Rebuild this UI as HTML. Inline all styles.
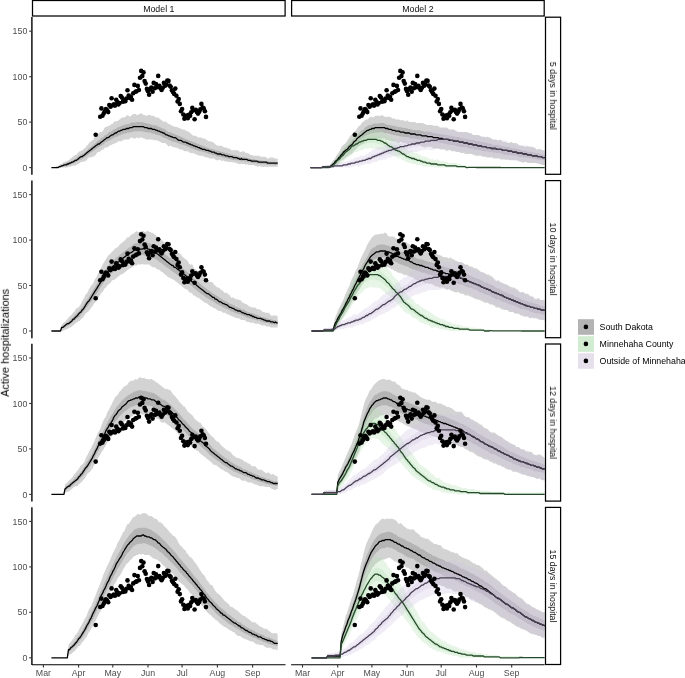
<!DOCTYPE html>
<html><head><meta charset="utf-8"><style>html,body{margin:0;padding:0;background:#fff;overflow:hidden} text{will-change:transform}</style></head>
<body><svg width="685" height="678" viewBox="0 0 685 678" style="display:block">
<rect width="685" height="678" fill="#fff"/>
<defs>
<clipPath id="c00"><rect x="32" y="17" width="253.5" height="157.5"/></clipPath>
<clipPath id="c01"><rect x="32" y="180.4" width="253.5" height="157.5"/></clipPath>
<clipPath id="c02"><rect x="32" y="343.8" width="253.5" height="157.5"/></clipPath>
<clipPath id="c03"><rect x="32" y="507.2" width="253.5" height="157.5"/></clipPath>
<clipPath id="c10"><rect x="291.1" y="17" width="254.2" height="157.5"/></clipPath>
<clipPath id="c11"><rect x="291.1" y="180.4" width="254.2" height="157.5"/></clipPath>
<clipPath id="c12"><rect x="291.1" y="343.8" width="254.2" height="157.5"/></clipPath>
<clipPath id="c13"><rect x="291.1" y="507.2" width="254.2" height="157.5"/></clipPath>
<g id="dots" fill="#000"><circle cx="95.7" cy="134.8" r="2.3"/><circle cx="100.2" cy="116.8" r="2.3"/><circle cx="101.4" cy="108.4" r="2.3"/><circle cx="102.5" cy="115.8" r="2.3"/><circle cx="103.7" cy="113.5" r="2.3"/><circle cx="104.8" cy="111.2" r="2.3"/><circle cx="105.9" cy="109.1" r="2.3"/><circle cx="107.1" cy="110.3" r="2.3"/><circle cx="108.2" cy="112.1" r="2.3"/><circle cx="109.3" cy="105" r="2.3"/><circle cx="110.5" cy="106.7" r="2.3"/><circle cx="111.6" cy="98.2" r="2.3"/><circle cx="112.8" cy="105.3" r="2.3"/><circle cx="113.9" cy="104.4" r="2.3"/><circle cx="115" cy="105.6" r="2.3"/><circle cx="116.2" cy="99.8" r="2.3"/><circle cx="117.3" cy="102.1" r="2.3"/><circle cx="118.4" cy="104.4" r="2.3"/><circle cx="119.6" cy="103" r="2.3"/><circle cx="120.7" cy="96" r="2.3"/><circle cx="121.9" cy="97.6" r="2.3"/><circle cx="123" cy="101.7" r="2.3"/><circle cx="124.1" cy="100.3" r="2.3"/><circle cx="125.3" cy="101.2" r="2.3"/><circle cx="126.4" cy="98.5" r="2.3"/><circle cx="127.5" cy="90.2" r="2.3"/><circle cx="128.7" cy="95.5" r="2.3"/><circle cx="129.8" cy="98" r="2.3"/><circle cx="130.9" cy="96.8" r="2.3"/><circle cx="132.1" cy="99.8" r="2.3"/><circle cx="133.2" cy="93.2" r="2.3"/><circle cx="134.4" cy="84.9" r="2.3"/><circle cx="135.5" cy="91.8" r="2.3"/><circle cx="136.6" cy="91.2" r="2.3"/><circle cx="137.8" cy="85.9" r="2.3"/><circle cx="138.9" cy="90" r="2.3"/><circle cx="140" cy="77.7" r="2.3"/><circle cx="141.2" cy="70.9" r="2.3"/><circle cx="142.3" cy="76.1" r="2.3"/><circle cx="143.5" cy="72.4" r="2.3"/><circle cx="144.6" cy="81.1" r="2.3"/><circle cx="145.7" cy="83.6" r="2.3"/><circle cx="146.9" cy="88.9" r="2.3"/><circle cx="148" cy="91.2" r="2.3"/><circle cx="149.1" cy="94.8" r="2.3"/><circle cx="150.3" cy="88.9" r="2.3"/><circle cx="151.4" cy="87.6" r="2.3"/><circle cx="152.6" cy="91.8" r="2.3"/><circle cx="153.7" cy="82.9" r="2.3"/><circle cx="154.8" cy="88.2" r="2.3"/><circle cx="156" cy="84.1" r="2.3"/><circle cx="157.1" cy="87.1" r="2.3"/><circle cx="158.2" cy="75.9" r="2.3"/><circle cx="159.4" cy="85.8" r="2.3"/><circle cx="160.5" cy="88.2" r="2.3"/><circle cx="161.6" cy="90" r="2.3"/><circle cx="162.8" cy="87.7" r="2.3"/><circle cx="163.9" cy="82.9" r="2.3"/><circle cx="165.1" cy="85.8" r="2.3"/><circle cx="166.2" cy="84.5" r="2.3"/><circle cx="167.3" cy="80.6" r="2.3"/><circle cx="168.5" cy="80.9" r="2.3"/><circle cx="169.6" cy="85.6" r="2.3"/><circle cx="170.7" cy="86.7" r="2.3"/><circle cx="171.9" cy="90.3" r="2.3"/><circle cx="173" cy="92.1" r="2.3"/><circle cx="174.2" cy="93.9" r="2.3"/><circle cx="175.3" cy="88.6" r="2.3"/><circle cx="176.4" cy="95.7" r="2.3"/><circle cx="177.6" cy="101.5" r="2.3"/><circle cx="178.7" cy="99.1" r="2.3"/><circle cx="179.8" cy="103.9" r="2.3"/><circle cx="181" cy="111.2" r="2.3"/><circle cx="182.1" cy="109" r="2.3"/><circle cx="183.3" cy="114.5" r="2.3"/><circle cx="184.4" cy="118.8" r="2.3"/><circle cx="185.5" cy="116.7" r="2.3"/><circle cx="186.7" cy="115.5" r="2.3"/><circle cx="187.8" cy="118.3" r="2.3"/><circle cx="188.9" cy="114.9" r="2.3"/><circle cx="190.1" cy="115.8" r="2.3"/><circle cx="191.2" cy="112.2" r="2.3"/><circle cx="192.3" cy="107.9" r="2.3"/><circle cx="193.5" cy="110.3" r="2.3"/><circle cx="194.6" cy="119.3" r="2.3"/><circle cx="195.8" cy="109.8" r="2.3"/><circle cx="196.9" cy="112.1" r="2.3"/><circle cx="198" cy="113.6" r="2.3"/><circle cx="199.2" cy="111.7" r="2.3"/><circle cx="200.3" cy="109.4" r="2.3"/><circle cx="201.4" cy="103.9" r="2.3"/><circle cx="202.6" cy="107.6" r="2.3"/><circle cx="203.7" cy="108.4" r="2.3"/><circle cx="204.9" cy="111.2" r="2.3"/><circle cx="206" cy="116.9" r="2.3"/></g>
</defs>
<g clip-path="url(#c00)"><polygon points="51.4,167.6 52.5,167.6 53.7,167.6 54.8,167.6 55.9,167.6 57.1,167.4 58.2,165.8 59.4,164.9 60.5,164 61.6,164 62.8,163.1 63.9,162.1 65,162.1 66.2,161.2 67.3,161.2 68.5,160.3 69.6,159.4 70.7,158.5 71.9,157.6 73,156.7 74.1,155.8 75.3,154.9 76.4,154.9 77.6,153.1 78.7,152.1 79.8,151.2 81,151.2 82.1,150.3 83.2,149.4 84.4,148.5 85.5,147.6 86.6,145.8 87.8,144.9 88.9,143 90.1,142.1 91.2,141.2 92.3,140.3 93.5,139.4 94.6,137.6 95.7,136.7 96.9,135.8 98,134 99.2,133 100.3,132.1 101.4,132.1 102.6,131.2 103.7,129.4 104.8,127.6 106,126.7 107.1,126.7 108.3,125.8 109.4,125.8 110.5,124.9 111.7,124 112.8,124 113.9,122.1 115.1,121.2 116.2,121.2 117.3,121.2 118.5,120.3 119.6,119.4 120.8,118.5 121.9,117.6 123,117.6 124.2,117.6 125.3,116.7 126.4,115.8 127.6,114.9 128.7,115.8 129.9,116.7 131,115.8 132.1,114.9 133.3,114 134.4,114 135.5,114 136.7,114.9 137.8,114.9 138.9,114 140.1,114 141.2,113 142.4,114 143.5,114.9 144.6,114.9 145.8,115.8 146.9,115.8 148,114.9 149.2,114.9 150.3,114.9 151.5,115.8 152.6,115.8 153.7,115.8 154.9,116.7 156,117.6 157.1,117.6 158.3,117.6 159.4,118.5 160.6,119.4 161.7,120.3 162.8,121.2 164,122.1 165.1,121.2 166.2,122.1 167.4,123 168.5,124 169.6,124 170.8,124.9 171.9,125.8 173.1,125.8 174.2,126.7 175.3,126.7 176.5,126.7 177.6,127.6 178.7,127.6 179.9,128.5 181,128.5 182.2,129.4 183.3,129.4 184.4,129.4 185.6,130.3 186.7,131.2 187.8,131.2 189,132.1 190.1,133 191.3,134 192.4,134.9 193.5,135.8 194.7,135.8 195.8,135.8 196.9,136.7 198.1,137.6 199.2,137.6 200.3,137.6 201.5,137.6 202.6,138.5 203.8,138.5 204.9,138.5 206,139.4 207.2,140.3 208.3,141.2 209.4,141.2 210.6,141.2 211.7,142.1 212.9,142.1 214,143 215.1,144 216.3,144.9 217.4,145.8 218.5,145.8 219.7,145.8 220.8,145.8 222,145.8 223.1,146.7 224.2,147.6 225.4,147.6 226.5,147.6 227.6,148.5 228.8,148.5 229.9,148.5 231,150.3 232.2,150.3 233.3,150.3 234.5,150.3 235.6,150.3 236.7,150.3 237.9,150.3 239,151.2 240.1,152.1 241.3,152.1 242.4,151.2 243.6,151.2 244.7,152.1 245.8,153.1 247,153.1 248.1,153.1 249.2,154 250.4,154.9 251.5,154.9 252.6,154.9 253.8,155.8 254.9,155.8 256.1,155.8 257.2,155.8 258.3,155.8 259.5,155.8 260.6,156.7 261.7,156.7 262.9,156.7 264,156.7 265.2,156.7 266.3,157.6 267.4,158.5 268.6,158.5 269.7,157.6 270.8,157.6 272,157.6 273.1,157.6 274.3,158.5 275.4,158.5 276.5,158.5 277.7,158.5 277.7,166.7 276.5,166.7 275.4,166.7 274.3,166.7 273.1,166.7 272,166.7 270.8,166.7 269.7,166.7 268.6,166.7 267.4,166.7 266.3,166.7 265.2,166.7 264,166.7 262.9,166.7 261.7,166.7 260.6,166.7 259.5,165.8 258.3,166.7 257.2,166.7 256.1,165.8 254.9,165.8 253.8,164.9 252.6,164.9 251.5,164.9 250.4,164.9 249.2,164.9 248.1,164.9 247,164 245.8,164.9 244.7,164 243.6,164 242.4,164 241.3,164 240.1,164 239,164 237.9,164 236.7,163.1 235.6,163.1 234.5,162.1 233.3,163.1 232.2,162.1 231,162.1 229.9,162.1 228.8,162.1 227.6,162.1 226.5,161.2 225.4,161.2 224.2,161.2 223.1,160.3 222,161.2 220.8,160.3 219.7,159.4 218.5,160.3 217.4,160.3 216.3,160.3 215.1,159.4 214,158.5 212.9,158.5 211.7,158.5 210.6,158.5 209.4,158.5 208.3,157.6 207.2,157.6 206,157.6 204.9,156.7 203.8,156.7 202.6,155.8 201.5,155.8 200.3,155.8 199.2,155.8 198.1,154.9 196.9,154.9 195.8,154 194.7,154 193.5,153.1 192.4,153.1 191.3,153.1 190.1,153.1 189,152.1 187.8,151.2 186.7,151.2 185.6,151.2 184.4,151.2 183.3,150.3 182.2,149.4 181,149.4 179.9,149.4 178.7,148.5 177.6,148.5 176.5,147.6 175.3,147.6 174.2,147.6 173.1,146.7 171.9,146.7 170.8,145.8 169.6,145.8 168.5,146.7 167.4,144.9 166.2,144 165.1,143 164,143 162.8,143 161.7,143 160.6,142.1 159.4,141.2 158.3,141.2 157.1,140.3 156,140.3 154.9,140.3 153.7,140.3 152.6,139.4 151.5,139.4 150.3,139.4 149.2,139.4 148,139.4 146.9,139.4 145.8,139.4 144.6,138.5 143.5,138.5 142.4,137.6 141.2,137.6 140.1,137.6 138.9,138.5 137.8,137.6 136.7,137.6 135.5,138.5 134.4,138.5 133.3,138.5 132.1,137.6 131,137.6 129.9,138.5 128.7,139.4 127.6,139.4 126.4,139.4 125.3,139.4 124.2,139.4 123,140.3 121.9,141.2 120.8,141.2 119.6,141.2 118.5,141.2 117.3,142.1 116.2,143 115.1,143 113.9,144 112.8,144 111.7,144.9 110.5,144.9 109.4,145.8 108.3,146.7 107.1,147.6 106,147.6 104.8,147.6 103.7,149.4 102.6,149.4 101.4,150.3 100.3,151.2 99.2,152.1 98,152.1 96.9,153.1 95.7,154.9 94.6,155.8 93.5,156.7 92.3,156.7 91.2,157.6 90.1,157.6 88.9,157.6 87.8,158.5 86.6,160.3 85.5,161.2 84.4,161.2 83.2,162.1 82.1,162.1 81,162.1 79.8,163.1 78.7,164 77.6,164 76.4,164.9 75.3,165.8 74.1,165.8 73,165.8 71.9,165.8 70.7,166.7 69.6,166.7 68.5,166.7 67.3,167.6 66.2,167.6 65,167.6 63.9,167.6 62.8,167.6 61.6,167.6 60.5,167.6 59.4,167.6 58.2,167.6 57.1,167.4 55.9,167.6 54.8,167.6 53.7,167.6 52.5,167.6 51.4,167.6" fill="#6e6e6e" fill-opacity="0.3"/><polygon points="51.4,167.6 52.5,167.6 53.7,167.6 54.8,167.6 55.9,167.6 57.1,167.4 58.2,166.7 59.4,166.2 60.5,165.3 61.6,164.9 62.8,164.4 63.9,164 65,163.5 66.2,163.1 67.3,162.6 68.5,162.1 69.6,161.7 70.7,161.2 71.9,160.8 73,159.9 74.1,159.4 75.3,159 76.4,158.1 77.6,157.1 78.7,156.2 79.8,155.3 81,154.4 82.1,154 83.2,153.5 84.4,152.6 85.5,151.7 86.6,150.8 87.8,149.4 88.9,148.1 90.1,147.6 91.2,146.7 92.3,145.8 93.5,144.9 94.6,144 95.7,143 96.9,141.7 98,140.8 99.2,139.9 100.3,139 101.4,138 102.6,137.6 103.7,136.7 104.8,135.3 106,134.9 107.1,134 108.3,133 109.4,132.1 110.5,131.7 111.7,131.2 112.8,130.3 113.9,129.4 115.1,129 116.2,128.5 117.3,127.6 118.5,127.1 119.6,126.7 120.8,126.2 121.9,125.8 123,125.3 124.2,124.9 125.3,124.4 126.4,124.4 127.6,124 128.7,124 129.9,123.5 131,122.6 132.1,122.6 133.3,122.6 134.4,122.6 135.5,122.6 136.7,122.1 137.8,122.1 138.9,122.1 140.1,122.1 141.2,122.1 142.4,122.1 143.5,122.6 144.6,123 145.8,123 146.9,123.5 148,123.5 149.2,124 150.3,124.4 151.5,124.4 152.6,124.9 153.7,125.3 154.9,125.3 156,125.3 157.1,125.8 158.3,126.7 159.4,127.1 160.6,127.6 161.7,128 162.8,128.5 164,129 165.1,129.4 166.2,130.3 167.4,131.2 168.5,132.1 169.6,132.1 170.8,132.6 171.9,133 173.1,133.5 174.2,134 175.3,134.4 176.5,134.9 177.6,135.3 178.7,135.8 179.9,136.2 181,136.7 182.2,137.1 183.3,138 184.4,138.5 185.6,139 186.7,139.4 187.8,139.9 189,140.3 190.1,140.8 191.3,141.2 192.4,141.7 193.5,142.1 194.7,142.6 195.8,143 196.9,143.5 198.1,144 199.2,144.4 200.3,144.9 201.5,145.3 202.6,145.8 203.8,146.2 204.9,146.7 206,147.1 207.2,147.6 208.3,148.1 209.4,148.5 210.6,149 211.7,149 212.9,149 214,149.4 215.1,150.3 216.3,150.8 217.4,150.8 218.5,150.8 219.7,151.2 220.8,151.7 222,152.1 223.1,152.1 224.2,152.6 225.4,153.1 226.5,153.1 227.6,153.5 228.8,154 229.9,154 231,154.4 232.2,154.4 233.3,154.9 234.5,154.9 235.6,155.3 236.7,155.8 237.9,156.2 239,156.7 240.1,156.7 241.3,157.1 242.4,157.1 243.6,157.1 244.7,157.6 245.8,157.6 247,158.1 248.1,158.1 249.2,158.5 250.4,159 251.5,159 252.6,159 253.8,159 254.9,159.4 256.1,159.9 257.2,160.3 258.3,160.3 259.5,160.3 260.6,160.3 261.7,160.8 262.9,160.8 264,160.8 265.2,161.2 266.3,161.2 267.4,161.2 268.6,161.2 269.7,161.7 270.8,161.7 272,161.7 273.1,161.7 274.3,161.7 275.4,162.1 276.5,162.1 277.7,162.1 277.7,164.9 276.5,164.9 275.4,164.9 274.3,164.9 273.1,164.4 272,164.4 270.8,164.4 269.7,164.4 268.6,164.4 267.4,164.4 266.3,164.4 265.2,164 264,164 262.9,164 261.7,164 260.6,164 259.5,163.5 258.3,163.5 257.2,163.5 256.1,163.5 254.9,163.1 253.8,163.1 252.6,163.1 251.5,162.6 250.4,162.6 249.2,162.1 248.1,162.1 247,161.7 245.8,161.7 244.7,161.2 243.6,161.2 242.4,161.2 241.3,161.2 240.1,160.8 239,160.3 237.9,160.3 236.7,160.3 235.6,160.3 234.5,159.9 233.3,159.9 232.2,159.9 231,159.4 229.9,159 228.8,159 227.6,158.5 226.5,158.5 225.4,158.1 224.2,158.1 223.1,157.6 222,157.1 220.8,156.7 219.7,156.7 218.5,156.7 217.4,156.2 216.3,156.2 215.1,155.3 214,155.3 212.9,154.9 211.7,154.4 210.6,154 209.4,154 208.3,154 207.2,153.1 206,152.6 204.9,152.6 203.8,152.1 202.6,151.7 201.5,151.2 200.3,151.2 199.2,151.2 198.1,150.8 196.9,150.3 195.8,149.9 194.7,149.4 193.5,149 192.4,148.5 191.3,148.5 190.1,147.6 189,147.1 187.8,146.7 186.7,146.2 185.6,145.8 184.4,145.3 183.3,144.9 182.2,144.4 181,144.4 179.9,144 178.7,143.5 177.6,143 176.5,142.6 175.3,142.1 174.2,142.1 173.1,141.7 171.9,141.2 170.8,140.8 169.6,140.3 168.5,139.9 167.4,139 166.2,138.5 165.1,138 164,138 162.8,137.1 161.7,136.7 160.6,135.8 159.4,135.3 158.3,134.9 157.1,134.9 156,134.4 154.9,134 153.7,133.5 152.6,133.5 151.5,133 150.3,132.6 149.2,132.6 148,132.6 146.9,132.6 145.8,132.1 144.6,132.1 143.5,131.7 142.4,131.2 141.2,131.2 140.1,131.2 138.9,131.2 137.8,131.2 136.7,131.2 135.5,131.2 134.4,131.2 133.3,131.7 132.1,131.7 131,132.1 129.9,132.6 128.7,132.6 127.6,132.6 126.4,133 125.3,133.5 124.2,133.5 123,134 121.9,134.4 120.8,134.9 119.6,135.3 118.5,135.8 117.3,136.7 116.2,136.7 115.1,137.1 113.9,138 112.8,138.5 111.7,139 110.5,139.9 109.4,140.3 108.3,141.2 107.1,141.2 106,142.1 104.8,142.6 103.7,144 102.6,144.9 101.4,145.8 100.3,146.2 99.2,146.7 98,147.6 96.9,148.5 95.7,149 94.6,149.9 93.5,150.8 92.3,151.7 91.2,152.6 90.1,153.1 88.9,154 87.8,154.9 86.6,155.8 85.5,156.7 84.4,157.6 83.2,158.1 82.1,159 81,159.4 79.8,159.9 78.7,160.3 77.6,161.2 76.4,162.1 75.3,162.6 74.1,163.1 73,163.5 71.9,164 70.7,164.4 69.6,164.9 68.5,165.3 67.3,165.8 66.2,165.8 65,166.2 63.9,166.2 62.8,166.7 61.6,166.7 60.5,167.1 59.4,167.1 58.2,167.6 57.1,167.4 55.9,167.6 54.8,167.6 53.7,167.6 52.5,167.6 51.4,167.6" fill="#6e6e6e" fill-opacity="0.3"/><polyline points="51.4,167.6 52.5,167.6 53.7,167.6 54.8,167.6 55.9,167.6 57.1,167.4 58.2,167.6 59.4,166.7 60.5,166.7 61.6,165.8 62.8,165.8 63.9,164.9 65,164.9 66.2,164.9 67.3,164 68.5,164 69.6,163.1 70.7,163.1 71.9,162.1 73,162.1 74.1,161.2 75.3,160.3 76.4,160.3 77.6,159.4 78.7,158.5 79.8,157.6 81,156.7 82.1,156.7 83.2,155.8 84.4,154.9 85.5,154 86.6,153.1 87.8,152.1 88.9,151.2 90.1,150.3 91.2,149.4 92.3,148.5 93.5,147.6 94.6,146.7 95.7,145.8 96.9,144.9 98,144 99.2,144 100.3,143 101.4,142.1 102.6,141.2 103.7,140.3 104.8,139.4 106,138.5 107.1,137.6 108.3,137.6 109.4,136.7 110.5,135.8 111.7,134.9 112.8,134.9 113.9,134 115.1,133 116.2,133 117.3,132.1 118.5,131.2 119.6,131.2 120.8,130.3 121.9,130.3 123,129.4 124.2,129.4 125.3,129.4 126.4,128.5 127.6,128.5 128.7,128.5 129.9,127.6 131,127.6 132.1,127.6 133.3,126.7 134.4,126.7 135.5,126.7 136.7,126.7 137.8,126.7 138.9,126.7 140.1,126.7 141.2,126.7 142.4,126.7 143.5,126.7 144.6,127.6 145.8,127.6 146.9,127.6 148,128.5 149.2,128.5 150.3,128.5 151.5,128.5 152.6,129.4 153.7,129.4 154.9,129.4 156,130.3 157.1,130.3 158.3,131.2 159.4,131.2 160.6,132.1 161.7,132.1 162.8,133 164,133 165.1,134 166.2,134.9 167.4,134.9 168.5,135.8 169.6,135.8 170.8,136.7 171.9,136.7 173.1,137.6 174.2,137.6 175.3,137.6 176.5,138.5 177.6,139.4 178.7,140.3 179.9,140.3 181,140.3 182.2,141.2 183.3,142.1 184.4,142.1 185.6,142.1 186.7,143 187.8,143 189,144 190.1,144 191.3,144.9 192.4,144.9 193.5,145.8 194.7,145.8 195.8,146.7 196.9,146.7 198.1,147.6 199.2,147.6 200.3,148.5 201.5,148.5 202.6,149.4 203.8,149.4 204.9,149.4 206,150.3 207.2,150.3 208.3,150.3 209.4,151.2 210.6,151.2 211.7,152.1 212.9,152.1 214,152.1 215.1,153.1 216.3,153.1 217.4,154 218.5,154 219.7,154 220.8,154 222,154.9 223.1,154.9 224.2,154.9 225.4,155.8 226.5,155.8 227.6,155.8 228.8,156.7 229.9,156.7 231,156.7 232.2,156.7 233.3,157.6 234.5,157.6 235.6,157.6 236.7,157.6 237.9,158.5 239,158.5 240.1,159.4 241.3,158.5 242.4,159.4 243.6,159.4 244.7,159.4 245.8,159.4 247,159.4 248.1,160.3 249.2,160.3 250.4,160.3 251.5,161.2 252.6,161.2 253.8,161.2 254.9,161.2 256.1,161.2 257.2,161.2 258.3,162.1 259.5,162.1 260.6,162.1 261.7,162.1 262.9,162.1 264,162.1 265.2,162.1 266.3,162.1 267.4,163.1 268.6,163.1 269.7,163.1 270.8,163.1 272,163.1 273.1,163.1 274.3,163.1 275.4,163.1 276.5,163.1 277.7,163.1" fill="none" stroke="#000" stroke-width="1.3" stroke-linejoin="round"/><use href="#dots" transform="translate(0,0)"/></g>
<g clip-path="url(#c01)"><polygon points="51.4,331 52.5,331 53.7,331 54.8,331 55.9,331 57.1,331 58.2,331 59.4,331 60.5,331 61.6,324.6 62.8,323.7 63.9,321.9 65,321.9 66.2,320.1 67.3,319.2 68.5,317.4 69.6,316.5 70.7,315.5 71.9,314.6 73,312.8 74.1,311.9 75.3,310.1 76.4,308.3 77.6,307.4 78.7,307.4 79.8,305.5 81,303.7 82.1,301 83.2,299.2 84.4,297.4 85.5,294.6 86.6,293.7 87.8,291.9 88.9,289.2 90.1,287.4 91.2,285.5 92.3,284.6 93.5,282.8 94.6,280.1 95.7,278.3 96.9,276.4 98,273.7 99.2,271.9 100.3,269.2 101.4,267.3 102.6,264.6 103.7,262.8 104.8,261 106,259.2 107.1,257.3 108.3,255.5 109.4,254.6 110.5,253.7 111.7,251.9 112.8,251 113.9,250.1 115.1,248.3 116.2,248.3 117.3,247.3 118.5,246.4 119.6,244.6 120.8,243.7 121.9,242.8 123,241.9 124.2,241 125.3,240.1 126.4,238.3 127.6,237.3 128.7,237.3 129.9,236.4 131,234.6 132.1,234.6 133.3,233.7 134.4,232.8 135.5,231.9 136.7,231 137.8,231.9 138.9,231.9 140.1,231.9 141.2,231 142.4,231 143.5,231 144.6,231.9 145.8,231.9 146.9,231 148,231 149.2,231.9 150.3,231.9 151.5,232.8 152.6,232.8 153.7,233.7 154.9,234.6 156,235.5 157.1,236.4 158.3,237.3 159.4,238.3 160.6,239.2 161.7,240.1 162.8,241 164,241.9 165.1,242.8 166.2,243.7 167.4,243.7 168.5,244.6 169.6,245.5 170.8,246.4 171.9,248.3 173.1,249.2 174.2,249.2 175.3,250.1 176.5,251.9 177.6,252.8 178.7,252.8 179.9,253.7 181,254.6 182.2,256.4 183.3,257.3 184.4,258.3 185.6,259.2 186.7,260.1 187.8,261 189,263.7 190.1,264.6 191.3,264.6 192.4,264.6 193.5,267.3 194.7,269.2 195.8,269.2 196.9,271 198.1,271.9 199.2,272.8 200.3,273.7 201.5,274.6 202.6,275.5 203.8,276.4 204.9,277.4 206,279.2 207.2,279.2 208.3,280.1 209.4,281.9 210.6,281.9 211.7,281.9 212.9,282.8 214,284.6 215.1,285.5 216.3,286.4 217.4,287.4 218.5,287.4 219.7,288.3 220.8,290.1 222,290.1 223.1,291 224.2,292.8 225.4,292.8 226.5,292.8 227.6,293.7 228.8,294.6 229.9,295.5 231,297.4 232.2,297.4 233.3,297.4 234.5,298.3 235.6,299.2 236.7,299.2 237.9,299.2 239,300.1 240.1,300.1 241.3,301 242.4,302.8 243.6,302.8 244.7,303.7 245.8,303.7 247,304.6 248.1,305.5 249.2,306.4 250.4,306.4 251.5,307.4 252.6,307.4 253.8,307.4 254.9,307.4 256.1,308.3 257.2,309.2 258.3,309.2 259.5,309.2 260.6,310.1 261.7,311 262.9,311.9 264,311.9 265.2,312.8 266.3,312.8 267.4,312.8 268.6,312.8 269.7,313.7 270.8,315.5 272,315.5 273.1,315.5 274.3,315.5 275.4,315.5 276.5,315.5 277.7,316.5 277.7,327.4 276.5,327.4 275.4,327.4 274.3,327.4 273.1,327.4 272,327.4 270.8,327.4 269.7,326.5 268.6,326.5 267.4,326.5 266.3,326.5 265.2,325.5 264,325.5 262.9,325.5 261.7,325.5 260.6,324.6 259.5,324.6 258.3,323.7 257.2,323.7 256.1,323.7 254.9,323.7 253.8,322.8 252.6,322.8 251.5,322.8 250.4,322.8 249.2,321.9 248.1,321.9 247,321.9 245.8,321 244.7,320.1 243.6,320.1 242.4,320.1 241.3,320.1 240.1,319.2 239,318.3 237.9,318.3 236.7,318.3 235.6,317.4 234.5,317.4 233.3,316.5 232.2,316.5 231,315.5 229.9,315.5 228.8,314.6 227.6,314.6 226.5,313.7 225.4,312.8 224.2,312.8 223.1,312.8 222,311.9 220.8,311 219.7,311 218.5,311 217.4,310.1 216.3,309.2 215.1,308.3 214,308.3 212.9,307.4 211.7,306.4 210.6,306.4 209.4,305.5 208.3,304.6 207.2,303.7 206,302.8 204.9,302.8 203.8,301.9 202.6,301 201.5,300.1 200.3,299.2 199.2,298.3 198.1,297.4 196.9,297.4 195.8,296.4 194.7,295.5 193.5,295.5 192.4,293.7 191.3,292.8 190.1,292.8 189,291.9 187.8,290.1 186.7,289.2 185.6,289.2 184.4,288.3 183.3,287.4 182.2,286.4 181,285.5 179.9,284.6 178.7,283.7 177.6,282.8 176.5,281.9 175.3,281 174.2,280.1 173.1,279.2 171.9,279.2 170.8,278.3 169.6,277.4 168.5,277.4 167.4,276.4 166.2,275.5 165.1,274.6 164,273.7 162.8,271.9 161.7,271.9 160.6,271 159.4,270.1 158.3,269.2 157.1,269.2 156,268.3 154.9,267.3 153.7,267.3 152.6,267.3 151.5,266.4 150.3,265.5 149.2,264.6 148,264.6 146.9,264.6 145.8,264.6 144.6,264.6 143.5,264.6 142.4,263.7 141.2,264.6 140.1,264.6 138.9,264.6 137.8,264.6 136.7,265.5 135.5,265.5 134.4,265.5 133.3,266.4 132.1,267.3 131,268.3 129.9,268.3 128.7,269.2 127.6,270.1 126.4,271 125.3,271.9 124.2,272.8 123,273.7 121.9,274.6 120.8,274.6 119.6,275.5 118.5,276.4 117.3,277.4 116.2,278.3 115.1,279.2 113.9,280.1 112.8,280.1 111.7,281 110.5,282.8 109.4,283.7 108.3,284.6 107.1,285.5 106,287.4 104.8,288.3 103.7,290.1 102.6,291.9 101.4,292.8 100.3,294.6 99.2,296.4 98,298.3 96.9,300.1 95.7,301.9 94.6,302.8 93.5,304.6 92.3,306.4 91.2,307.4 90.1,309.2 88.9,311 87.8,311.9 86.6,312.8 85.5,313.7 84.4,315.5 83.2,317.4 82.1,318.3 81,319.2 79.8,321 78.7,321 77.6,321.9 76.4,322.8 75.3,323.7 74.1,324.6 73,325.5 71.9,326.5 70.7,327.4 69.6,327.4 68.5,328.3 67.3,329.2 66.2,329.2 65,330.1 63.9,330.1 62.8,331 61.6,331 60.5,331 59.4,331 58.2,331 57.1,331 55.9,331 54.8,331 53.7,331 52.5,331 51.4,331" fill="#6e6e6e" fill-opacity="0.3"/><polygon points="51.4,331 52.5,331 53.7,331 54.8,331 55.9,331 57.1,331 58.2,331 59.4,331 60.5,331 61.6,326.5 62.8,326 63.9,325.1 65,324.2 66.2,323.3 67.3,322.4 68.5,321.5 69.6,320.5 70.7,319.2 71.9,318.3 73,317.4 74.1,316 75.3,314.6 76.4,313.7 77.6,312.4 78.7,311.5 79.8,310.1 81,308.7 82.1,306.9 83.2,305.5 84.4,303.7 85.5,301.9 86.6,300.1 87.8,298.7 88.9,296.9 90.1,295.1 91.2,293.3 92.3,291.4 93.5,289.6 94.6,287.8 95.7,286 96.9,283.7 98,281.9 99.2,279.6 100.3,277.8 101.4,275.5 102.6,274.2 103.7,272.4 104.8,270.5 106,268.7 107.1,266.9 108.3,265.5 109.4,264.2 110.5,263.3 111.7,261.9 112.8,261 113.9,260.1 115.1,259.2 116.2,257.8 117.3,256.9 118.5,256 119.6,255.1 120.8,254.2 121.9,253.3 123,252.3 124.2,251.4 125.3,250.5 126.4,249.6 127.6,248.7 128.7,247.8 129.9,247.3 131,246.4 132.1,245.5 133.3,244.6 134.4,243.7 135.5,243.3 136.7,243.3 137.8,242.8 138.9,242.8 140.1,242.8 141.2,242.3 142.4,241.9 143.5,242.3 144.6,242.3 145.8,242.3 146.9,242.3 148,242.8 149.2,243.3 150.3,243.7 151.5,244.6 152.6,245.1 153.7,245.5 154.9,246.4 156,246.9 157.1,247.3 158.3,248.3 159.4,249.2 160.6,250.1 161.7,251 162.8,251.9 164,252.8 165.1,254.2 166.2,255.1 167.4,256 168.5,256.9 169.6,257.8 170.8,258.3 171.9,259.2 173.1,260.1 174.2,261 175.3,261.9 176.5,262.8 177.6,263.7 178.7,264.6 179.9,265.5 181,266.4 182.2,267.8 183.3,268.7 184.4,269.6 185.6,270.5 186.7,271.4 187.8,272.4 189,273.7 190.1,274.6 191.3,276 192.4,276.9 193.5,277.8 194.7,279.2 195.8,280.1 196.9,281 198.1,281.9 199.2,282.8 200.3,283.7 201.5,284.6 202.6,286 203.8,286.4 204.9,287.4 206,288.3 207.2,289.2 208.3,290.1 209.4,291 210.6,291.4 211.7,292.4 212.9,293.3 214,294.2 215.1,294.6 216.3,295.5 217.4,296 218.5,296.9 219.7,297.8 220.8,298.3 222,299.2 223.1,300.1 224.2,300.5 225.4,301 226.5,301.4 227.6,302.4 228.8,302.8 229.9,303.7 231,304.2 232.2,304.6 233.3,305.1 234.5,305.5 235.6,306.4 236.7,306.9 237.9,307.4 239,307.8 240.1,308.3 241.3,309.2 242.4,309.6 243.6,309.6 244.7,310.1 245.8,311 247,311.5 248.1,311.9 249.2,312.4 250.4,312.8 251.5,313.3 252.6,313.3 253.8,313.7 254.9,314.2 256.1,314.6 257.2,315.1 258.3,315.5 259.5,316 260.6,316.5 261.7,316.9 262.9,316.9 264,317.4 265.2,317.8 266.3,318.3 267.4,318.3 268.6,318.7 269.7,319.2 270.8,319.2 272,319.6 273.1,320.1 274.3,320.1 275.4,320.5 276.5,320.5 277.7,321 277.7,325.1 276.5,324.6 275.4,324.6 274.3,324.2 273.1,324.2 272,324.2 270.8,324.2 269.7,323.3 268.6,323.3 267.4,322.8 266.3,322.8 265.2,322.8 264,322.4 262.9,321.9 261.7,321.9 260.6,321 259.5,320.5 258.3,320.5 257.2,320.5 256.1,320.1 254.9,319.6 253.8,319.2 252.6,319.2 251.5,318.7 250.4,318.3 249.2,318.3 248.1,317.8 247,317.4 245.8,316.9 244.7,316.5 243.6,316 242.4,315.5 241.3,315.1 240.1,314.6 239,314.2 237.9,313.7 236.7,313.3 235.6,313.3 234.5,312.4 233.3,311.9 232.2,311.5 231,311.5 229.9,310.5 228.8,310.1 227.6,309.2 226.5,308.7 225.4,308.7 224.2,307.8 223.1,307.4 222,306.4 220.8,306 219.7,305.5 218.5,304.6 217.4,304.2 216.3,303.7 215.1,302.8 214,301.9 212.9,301.4 211.7,300.5 210.6,300.1 209.4,299.6 208.3,298.7 207.2,297.8 206,297.4 204.9,296.4 203.8,295.5 202.6,294.6 201.5,294.2 200.3,293.3 199.2,292.4 198.1,291.4 196.9,290.5 195.8,289.6 194.7,288.7 193.5,287.8 192.4,286.4 191.3,285.5 190.1,285.1 189,284.2 187.8,282.8 186.7,281.9 185.6,281 184.4,280.1 183.3,279.2 182.2,278.3 181,277.4 179.9,276.4 178.7,275.5 177.6,275.1 176.5,274.2 175.3,273.3 174.2,272.4 173.1,271.9 171.9,271 170.8,270.1 169.6,269.2 168.5,268.3 167.4,267.8 166.2,266.9 165.1,266 164,265.1 162.8,264.2 161.7,263.3 160.6,262.8 159.4,261.9 158.3,261 157.1,260.1 156,259.6 154.9,258.7 153.7,258.3 152.6,257.3 151.5,256.9 150.3,256.4 149.2,256 148,255.5 146.9,255.1 145.8,255.5 144.6,255.5 143.5,255.1 142.4,255.1 141.2,255.1 140.1,255.5 138.9,255.5 137.8,255.5 136.7,255.5 135.5,256 134.4,256.9 133.3,257.3 132.1,258.3 131,258.7 129.9,259.6 128.7,260.5 127.6,261 126.4,261.9 125.3,262.8 124.2,263.7 123,264.6 121.9,265.5 120.8,266 119.6,266.9 118.5,267.8 117.3,269.2 116.2,269.6 115.1,270.5 113.9,271.4 112.8,272.4 111.7,273.3 110.5,274.6 109.4,275.5 108.3,276.4 107.1,277.8 106,279.2 104.8,281 103.7,282.8 102.6,284.2 101.4,286 100.3,287.8 99.2,289.6 98,291.4 96.9,293.3 95.7,295.1 94.6,296.4 93.5,298.3 92.3,300.1 91.2,301.4 90.1,302.8 88.9,304.2 87.8,306 86.6,307.4 85.5,308.7 84.4,310.5 83.2,311.9 82.1,313.3 81,314.6 79.8,316.5 78.7,317.4 77.6,318.3 76.4,318.7 75.3,320.1 74.1,321 73,321.9 71.9,322.8 70.7,323.7 69.6,324.6 68.5,325.1 67.3,326 66.2,326.9 65,327.4 63.9,327.8 62.8,328.7 61.6,329.2 60.5,331 59.4,331 58.2,331 57.1,331 55.9,331 54.8,331 53.7,331 52.5,331 51.4,331" fill="#6e6e6e" fill-opacity="0.3"/><polyline points="51.4,331 52.5,331 53.7,331 54.8,331 55.9,331 57.1,331 58.2,331 59.4,331 60.5,331 61.6,327.4 62.8,327.4 63.9,326.5 65,325.5 66.2,324.6 67.3,323.7 68.5,323.7 69.6,322.8 70.7,321.9 71.9,321 73,319.2 74.1,319.2 75.3,317.4 76.4,316.5 77.6,315.5 78.7,313.7 79.8,312.8 81,311.9 82.1,310.1 83.2,309.2 84.4,307.4 85.5,305.5 86.6,303.7 87.8,301.9 88.9,301 90.1,299.2 91.2,297.4 92.3,295.5 93.5,293.7 94.6,291.9 95.7,290.1 96.9,288.3 98,286.4 99.2,284.6 100.3,282.8 101.4,281 102.6,279.2 103.7,277.4 104.8,275.5 106,273.7 107.1,272.8 108.3,271 109.4,270.1 110.5,268.3 111.7,267.3 112.8,266.4 113.9,265.5 115.1,264.6 116.2,263.7 117.3,262.8 118.5,261.9 119.6,261 120.8,260.1 121.9,259.2 123,258.3 124.2,257.3 125.3,256.4 126.4,255.5 127.6,254.6 128.7,253.7 129.9,252.8 131,252.8 132.1,251.9 133.3,251 134.4,250.1 135.5,250.1 136.7,249.2 137.8,249.2 138.9,249.2 140.1,249.2 141.2,249.2 142.4,249.2 143.5,248.3 144.6,249.2 145.8,248.3 146.9,248.3 148,249.2 149.2,249.2 150.3,250.1 151.5,251 152.6,251 153.7,251.9 154.9,252.8 156,252.8 157.1,253.7 158.3,254.6 159.4,255.5 160.6,256.4 161.7,257.3 162.8,258.3 164,259.2 165.1,260.1 166.2,261 167.4,261.9 168.5,262.8 169.6,263.7 170.8,264.6 171.9,265.5 173.1,265.5 174.2,267.3 175.3,267.3 176.5,268.3 177.6,269.2 178.7,270.1 179.9,271 181,271.9 182.2,272.8 183.3,273.7 184.4,274.6 185.6,275.5 186.7,276.4 187.8,278.3 189,279.2 190.1,280.1 191.3,281 192.4,281.9 193.5,282.8 194.7,283.7 195.8,284.6 196.9,285.5 198.1,286.4 199.2,287.4 200.3,288.3 201.5,289.2 202.6,290.1 203.8,291 204.9,291.9 206,292.8 207.2,293.7 208.3,293.7 209.4,294.6 210.6,295.5 211.7,296.4 212.9,297.4 214,297.4 215.1,299.2 216.3,299.2 217.4,300.1 218.5,301 219.7,301.9 220.8,301.9 222,302.8 223.1,303.7 224.2,303.7 225.4,304.6 226.5,304.6 227.6,305.5 228.8,306.4 229.9,307.4 231,307.4 232.2,308.3 233.3,308.3 234.5,309.2 235.6,310.1 236.7,310.1 237.9,311 239,311 240.1,311 241.3,311.9 242.4,312.8 243.6,312.8 244.7,313.7 245.8,313.7 247,314.6 248.1,314.6 249.2,314.6 250.4,315.5 251.5,315.5 252.6,316.5 253.8,316.5 254.9,317.4 256.1,317.4 257.2,318.3 258.3,318.3 259.5,318.3 260.6,318.3 261.7,319.2 262.9,319.2 264,320.1 265.2,320.1 266.3,321 267.4,321 268.6,321 269.7,321 270.8,321.9 272,321.9 273.1,321.9 274.3,322.8 275.4,321.9 276.5,322.8 277.7,322.8" fill="none" stroke="#000" stroke-width="1.3" stroke-linejoin="round"/><use href="#dots" transform="translate(0,163.4)"/></g>
<g clip-path="url(#c02)"><polygon points="51.4,494.4 52.5,494.4 53.7,494.4 54.8,494.4 55.9,494.4 57.1,494.4 58.2,494.4 59.4,494.4 60.5,494.4 61.6,494.4 62.8,494.4 63.9,494.4 65,484.4 66.2,483.5 67.3,482.6 68.5,480.8 69.6,479.9 70.7,478.9 71.9,478 73,476.2 74.1,474.4 75.3,473.5 76.4,471.7 77.6,470.8 78.7,468.9 79.8,467.1 81,465.3 82.1,464.4 83.2,463.5 84.4,461.7 85.5,458.9 86.6,456.2 87.8,454.4 88.9,451.7 90.1,449.8 91.2,448 92.3,445.3 93.5,443.5 94.6,440.8 95.7,438 96.9,435.3 98,432.6 99.2,430.7 100.3,428.9 101.4,425.3 102.6,422.6 103.7,419.8 104.8,418 106,416.2 107.1,412.6 108.3,410.7 109.4,408.9 110.5,406.2 111.7,404.4 112.8,401.7 113.9,399.8 115.1,397.1 116.2,396.2 117.3,395.3 118.5,393.5 119.6,391.6 120.8,390.7 121.9,388.9 123,388 124.2,386.2 125.3,386.2 126.4,385.3 127.6,384.4 128.7,382.6 129.9,381.6 131,380.7 132.1,380.7 133.3,380.7 134.4,379.8 135.5,378.9 136.7,379.8 137.8,378.9 138.9,378 140.1,377.1 141.2,378 142.4,378 143.5,378 144.6,378 145.8,378.9 146.9,378.9 148,378.9 149.2,379.8 150.3,378.9 151.5,378.9 152.6,379.8 153.7,380.7 154.9,380.7 156,382.6 157.1,382.6 158.3,383.5 159.4,384.4 160.6,385.3 161.7,386.2 162.8,387.1 164,388 165.1,388.9 166.2,388.9 167.4,388.9 168.5,389.8 169.6,389.8 170.8,390.7 171.9,392.6 173.1,394.4 174.2,395.3 175.3,396.2 176.5,398 177.6,398.9 178.7,400.7 179.9,402.6 181,403.5 182.2,404.4 183.3,406.2 184.4,406.2 185.6,408 186.7,409.8 187.8,411.7 189,412.6 190.1,413.5 191.3,414.4 192.4,415.3 193.5,417.1 194.7,418.9 195.8,419.8 196.9,420.7 198.1,421.7 199.2,422.6 200.3,422.6 201.5,424.4 202.6,426.2 203.8,427.1 204.9,428 206,428.9 207.2,430.7 208.3,432.6 209.4,433.5 210.6,435.3 211.7,436.2 212.9,437.1 214,438 215.1,439.8 216.3,440.8 217.4,441.7 218.5,441.7 219.7,443.5 220.8,444.4 222,446.2 223.1,447.1 224.2,448 225.4,448.9 226.5,449.8 227.6,450.8 228.8,450.8 229.9,451.7 231,452.6 232.2,454.4 233.3,455.3 234.5,456.2 235.6,457.1 236.7,458 237.9,458 239,458 240.1,458.9 241.3,458.9 242.4,459.8 243.6,460.8 244.7,461.7 245.8,461.7 247,462.6 248.1,463.5 249.2,463.5 250.4,464.4 251.5,466.2 252.6,466.2 253.8,466.2 254.9,466.2 256.1,467.1 257.2,468.9 258.3,469.8 259.5,469.8 260.6,469.8 261.7,469.8 262.9,470.8 264,471.7 265.2,472.6 266.3,473.5 267.4,472.6 268.6,472.6 269.7,473.5 270.8,474.4 272,474.4 273.1,473.5 274.3,475.3 275.4,475.3 276.5,476.2 277.7,476.2 277.7,488.9 276.5,488.9 275.4,489.9 274.3,489.9 273.1,488.9 272,488.9 270.8,488 269.7,487.1 268.6,487.1 267.4,487.1 266.3,487.1 265.2,487.1 264,486.2 262.9,486.2 261.7,486.2 260.6,486.2 259.5,486.2 258.3,485.3 257.2,485.3 256.1,484.4 254.9,484.4 253.8,483.5 252.6,483.5 251.5,482.6 250.4,482.6 249.2,482.6 248.1,482.6 247,481.7 245.8,480.8 244.7,480.8 243.6,480.8 242.4,480.8 241.3,479.9 240.1,478.9 239,478 237.9,478 236.7,478 235.6,477.1 234.5,477.1 233.3,476.2 232.2,476.2 231,475.3 229.9,474.4 228.8,473.5 227.6,472.6 226.5,471.7 225.4,471.7 224.2,470.8 223.1,469.8 222,469.8 220.8,468.9 219.7,468 218.5,467.1 217.4,466.2 216.3,465.3 215.1,465.3 214,464.4 212.9,464.4 211.7,462.6 210.6,461.7 209.4,460.8 208.3,459.8 207.2,458.9 206,458 204.9,457.1 203.8,456.2 202.6,455.3 201.5,454.4 200.3,453.5 199.2,452.6 198.1,450.8 196.9,450.8 195.8,449.8 194.7,448.9 193.5,448 192.4,447.1 191.3,446.2 190.1,445.3 189,444.4 187.8,443.5 186.7,441.7 185.6,440.8 184.4,440.8 183.3,439.8 182.2,438 181,437.1 179.9,435.3 178.7,434.4 177.6,433.5 176.5,431.7 175.3,430.7 174.2,429.8 173.1,428.9 171.9,428 170.8,427.1 169.6,426.2 168.5,425.3 167.4,424.4 166.2,423.5 165.1,422.6 164,422.6 162.8,422.6 161.7,422.6 160.6,421.7 159.4,419.8 158.3,418.9 157.1,418.9 156,418 154.9,417.1 153.7,416.2 152.6,416.2 151.5,416.2 150.3,416.2 149.2,416.2 148,416.2 146.9,415.3 145.8,415.3 144.6,414.4 143.5,414.4 142.4,414.4 141.2,414.4 140.1,413.5 138.9,414.4 137.8,414.4 136.7,414.4 135.5,414.4 134.4,415.3 133.3,415.3 132.1,416.2 131,417.1 129.9,418 128.7,418.9 127.6,418.9 126.4,419.8 125.3,420.7 124.2,421.7 123,422.6 121.9,423.5 120.8,424.4 119.6,426.2 118.5,427.1 117.3,428 116.2,428.9 115.1,430.7 113.9,432.6 112.8,434.4 111.7,436.2 110.5,438 109.4,438.9 108.3,440.8 107.1,442.6 106,445.3 104.8,447.1 103.7,448.9 102.6,450.8 101.4,452.6 100.3,454.4 99.2,456.2 98,458 96.9,460.8 95.7,462.6 94.6,464.4 93.5,466.2 92.3,468.9 91.2,469.8 90.1,471.7 88.9,472.6 87.8,473.5 86.6,475.3 85.5,477.1 84.4,478.9 83.2,479.9 82.1,481.7 81,482.6 79.8,483.5 78.7,484.4 77.6,486.2 76.4,486.2 75.3,486.2 74.1,487.1 73,488 71.9,488.9 70.7,489.9 69.6,490.8 68.5,491.7 67.3,491.7 66.2,492.6 65,492.6 63.9,494.4 62.8,494.4 61.6,494.4 60.5,494.4 59.4,494.4 58.2,494.4 57.1,494.4 55.9,494.4 54.8,494.4 53.7,494.4 52.5,494.4 51.4,494.4" fill="#6e6e6e" fill-opacity="0.3"/><polygon points="51.4,494.4 52.5,494.4 53.7,494.4 54.8,494.4 55.9,494.4 57.1,494.4 58.2,494.4 59.4,494.4 60.5,494.4 61.6,494.4 62.8,494.4 63.9,494.4 65,487.1 66.2,486.2 67.3,485.3 68.5,484.4 69.6,483.5 70.7,482.1 71.9,481.2 73,480.3 74.1,478.9 75.3,477.6 76.4,477.1 77.6,475.8 78.7,474.4 79.8,473 81,471.7 82.1,470.3 83.2,468.5 84.4,466.7 85.5,464.8 86.6,462.6 87.8,460.8 88.9,459.4 90.1,457.6 91.2,455.8 92.3,453.5 93.5,451.2 94.6,448.9 95.7,446.7 96.9,443.9 98,441.7 99.2,438.9 100.3,436.7 101.4,434.4 102.6,432.6 103.7,430.3 104.8,428 106,425.3 107.1,423 108.3,420.7 109.4,418.9 110.5,417.1 111.7,415.3 112.8,413.5 113.9,411.2 115.1,409.4 116.2,407.6 117.3,406.2 118.5,404.8 119.6,403.5 120.8,402.1 121.9,400.7 123,399.8 124.2,398.5 125.3,397.6 126.4,396.7 127.6,395.7 128.7,394.8 129.9,394.4 131,393.5 132.1,393 133.3,392.1 134.4,391.6 135.5,391.2 136.7,390.7 137.8,390.7 138.9,390.3 140.1,390.3 141.2,390.3 142.4,390.7 143.5,390.7 144.6,390.7 145.8,391.2 146.9,391.6 148,391.6 149.2,392.1 150.3,392.6 151.5,392.6 152.6,393 153.7,393 154.9,393.9 156,394.4 157.1,395.3 158.3,396.2 159.4,397.1 160.6,398 161.7,398.9 162.8,399.4 164,399.8 165.1,400.3 166.2,401.2 167.4,402.1 168.5,403 169.6,403.9 170.8,404.8 171.9,406.2 173.1,407.1 174.2,408.5 175.3,409.4 176.5,410.7 177.6,412.1 178.7,413 179.9,414.4 181,415.7 182.2,417.1 183.3,418.9 184.4,419.8 185.6,420.7 186.7,422.1 187.8,423.5 189,424.8 190.1,426.2 191.3,427.1 192.4,428.5 193.5,429.4 194.7,430.3 195.8,431.2 196.9,432.1 198.1,433 199.2,434.4 200.3,435.8 201.5,436.7 202.6,437.6 203.8,438.5 204.9,439.8 206,441.2 207.2,442.1 208.3,443.5 209.4,444.4 210.6,445.3 211.7,446.7 212.9,448 214,448.9 215.1,449.8 216.3,450.8 217.4,451.7 218.5,452.6 219.7,453.5 220.8,454.4 222,455.3 223.1,456.2 224.2,457.1 225.4,458 226.5,458.5 227.6,459.4 228.8,460.3 229.9,461.2 231,462.1 232.2,462.6 233.3,463.5 234.5,463.9 235.6,464.8 236.7,465.3 237.9,465.8 239,466.2 240.1,467.1 241.3,467.6 242.4,468.5 243.6,469.4 244.7,469.4 245.8,469.8 247,470.3 248.1,471.2 249.2,471.7 250.4,471.7 251.5,472.1 252.6,473 253.8,473.5 254.9,473.9 256.1,474.4 257.2,474.9 258.3,475.3 259.5,476.2 260.6,476.7 261.7,476.7 262.9,477.1 264,477.6 265.2,478 266.3,478.5 267.4,478.9 268.6,478.9 269.7,479.4 270.8,479.9 272,480.3 273.1,480.8 274.3,481.2 275.4,481.2 276.5,481.2 277.7,481.2 277.7,486.2 276.5,485.8 275.4,485.8 274.3,485.3 273.1,484.9 272,484.9 270.8,484.9 269.7,484.4 268.6,484.4 267.4,483.9 266.3,483.9 265.2,483.5 264,483 262.9,482.6 261.7,482.1 260.6,482.1 259.5,481.7 258.3,481.2 257.2,480.8 256.1,480.3 254.9,479.9 253.8,479.4 252.6,479.4 251.5,478.9 250.4,478 249.2,477.6 248.1,477.1 247,476.7 245.8,476.2 244.7,476.2 243.6,475.3 242.4,474.9 241.3,474.4 240.1,473.9 239,473.5 237.9,473 236.7,472.6 235.6,472.1 234.5,471.7 233.3,471.2 232.2,470.3 231,469.4 229.9,468.9 228.8,468 227.6,467.6 226.5,467.1 225.4,466.2 224.2,465.3 223.1,464.8 222,463.9 220.8,463 219.7,462.1 218.5,461.2 217.4,460.8 216.3,459.8 215.1,458.9 214,458 212.9,457.1 211.7,456.2 210.6,455.3 209.4,454.4 208.3,453 207.2,452.1 206,450.8 204.9,449.8 203.8,448.9 202.6,448 201.5,446.7 200.3,445.8 199.2,444.8 198.1,443.9 196.9,443 195.8,442.1 194.7,441.2 193.5,440.3 192.4,439.4 191.3,438 190.1,437.1 189,436.2 187.8,435.3 186.7,433.9 185.6,432.6 184.4,431.2 183.3,430.3 182.2,428.9 181,428 179.9,427.1 178.7,425.7 177.6,424.4 176.5,423.5 175.3,422.1 174.2,421.2 173.1,419.8 171.9,418.9 170.8,417.6 169.6,416.7 168.5,416.2 167.4,415.3 166.2,414.8 165.1,414.4 164,413.5 162.8,412.6 161.7,412.1 160.6,411.2 159.4,410.7 158.3,409.8 157.1,409.4 156,408.5 154.9,408 153.7,407.1 152.6,406.7 151.5,406.2 150.3,405.7 149.2,405.7 148,405.7 146.9,405.3 145.8,404.8 144.6,404.8 143.5,404.8 142.4,404.4 141.2,404.4 140.1,404.4 138.9,404.4 137.8,404.8 136.7,405.3 135.5,405.3 134.4,405.7 133.3,406.2 132.1,406.7 131,407.1 129.9,407.6 128.7,408.5 127.6,409.4 126.4,410.3 125.3,411.2 124.2,411.7 123,413 121.9,413.9 120.8,415.3 119.6,416.2 118.5,417.6 117.3,419.4 116.2,420.3 115.1,421.7 113.9,423.5 112.8,425.3 111.7,427.1 110.5,428.9 109.4,431.2 108.3,432.6 107.1,434.8 106,436.7 104.8,438.9 103.7,440.8 102.6,443 101.4,445.3 100.3,447.6 99.2,449.4 98,451.2 96.9,453.5 95.7,455.8 94.6,458 93.5,459.8 92.3,461.7 91.2,463.9 90.1,465.8 88.9,467.1 87.8,468.9 86.6,470.3 85.5,472.1 84.4,473.9 83.2,475.8 82.1,476.7 81,477.6 79.8,478.9 78.7,480.3 77.6,481.2 76.4,482.1 75.3,483 74.1,484.4 73,485.3 71.9,486.2 70.7,487.1 69.6,487.6 68.5,488.5 67.3,489.4 66.2,490.3 65,490.8 63.9,494.4 62.8,494.4 61.6,494.4 60.5,494.4 59.4,494.4 58.2,494.4 57.1,494.4 55.9,494.4 54.8,494.4 53.7,494.4 52.5,494.4 51.4,494.4" fill="#6e6e6e" fill-opacity="0.3"/><polyline points="51.4,494.4 52.5,494.4 53.7,494.4 54.8,494.4 55.9,494.4 57.1,494.4 58.2,494.4 59.4,494.4 60.5,494.4 61.6,494.4 62.8,494.4 63.9,494.4 65,488.9 66.2,488 67.3,487.1 68.5,486.2 69.6,486.2 70.7,484.4 71.9,483.5 73,482.6 74.1,481.7 75.3,480.8 76.4,479.9 77.6,478.9 78.7,477.1 79.8,476.2 81,474.4 82.1,473.5 83.2,471.7 84.4,469.8 85.5,468 86.6,467.1 87.8,465.3 88.9,463.5 90.1,461.7 91.2,459.8 92.3,458 93.5,455.3 94.6,453.5 95.7,450.8 96.9,448.9 98,446.2 99.2,444.4 100.3,442.6 101.4,439.8 102.6,438 103.7,435.3 104.8,433.5 106,430.7 107.1,428.9 108.3,427.1 109.4,424.4 110.5,423.5 111.7,421.7 112.8,419.8 113.9,417.1 115.1,415.3 116.2,414.4 117.3,412.6 118.5,410.7 119.6,409.8 120.8,408.9 121.9,407.1 123,406.2 124.2,405.3 125.3,404.4 126.4,403.5 127.6,401.7 128.7,400.7 129.9,400.7 131,399.8 132.1,399.8 133.3,398.9 134.4,398.9 135.5,398 136.7,398 137.8,398 138.9,397.1 140.1,397.1 141.2,398 142.4,397.1 143.5,397.1 144.6,398 145.8,398 146.9,398 148,398.9 149.2,398.9 150.3,398.9 151.5,399.8 152.6,399.8 153.7,399.8 154.9,400.7 156,401.7 157.1,402.6 158.3,402.6 159.4,403.5 160.6,404.4 161.7,405.3 162.8,406.2 164,406.2 165.1,407.1 166.2,408 167.4,408.9 168.5,409.8 169.6,410.7 170.8,411.7 171.9,412.6 173.1,413.5 174.2,414.4 175.3,416.2 176.5,417.1 177.6,418 178.7,419.8 179.9,420.7 181,421.7 182.2,423.5 183.3,424.4 184.4,425.3 185.6,427.1 186.7,428 187.8,428.9 189,430.7 190.1,431.7 191.3,432.6 192.4,433.5 193.5,434.4 194.7,435.3 195.8,436.2 196.9,437.1 198.1,438 199.2,439.8 200.3,440.8 201.5,441.7 202.6,442.6 203.8,443.5 204.9,445.3 206,446.2 207.2,447.1 208.3,448 209.4,448.9 210.6,450.8 211.7,451.7 212.9,452.6 214,453.5 215.1,454.4 216.3,455.3 217.4,456.2 218.5,457.1 219.7,458 220.8,458.9 222,459.8 223.1,460.8 224.2,461.7 225.4,462.6 226.5,462.6 227.6,463.5 228.8,464.4 229.9,465.3 231,466.2 232.2,466.2 233.3,467.1 234.5,468 235.6,468.9 236.7,468.9 237.9,469.8 239,469.8 240.1,470.8 241.3,470.8 242.4,471.7 243.6,472.6 244.7,472.6 245.8,472.6 247,473.5 248.1,474.4 249.2,474.4 250.4,475.3 251.5,475.3 252.6,476.2 253.8,476.2 254.9,477.1 256.1,478 257.2,478 258.3,478 259.5,478.9 260.6,478.9 261.7,479.9 262.9,479.9 264,479.9 265.2,480.8 266.3,480.8 267.4,481.7 268.6,481.7 269.7,481.7 270.8,482.6 272,482.6 273.1,483.5 274.3,483.5 275.4,483.5 276.5,483.5 277.7,483.5" fill="none" stroke="#000" stroke-width="1.3" stroke-linejoin="round"/><use href="#dots" transform="translate(0,326.8)"/></g>
<g clip-path="url(#c03)"><polygon points="51.4,657.8 52.5,657.8 53.7,657.8 54.8,657.8 55.9,657.8 57.1,657.8 58.2,657.8 59.4,657.8 60.5,657.8 61.6,657.8 62.8,657.8 63.9,657.8 65,657.8 66.2,657.8 67.3,657.8 68.5,645.1 69.6,643.3 70.7,642.3 71.9,640.5 73,638.7 74.1,637.8 75.3,635.1 76.4,634.2 77.6,632.3 78.7,630.5 79.8,627.8 81,626 82.1,624.2 83.2,622.3 84.4,619.6 85.5,617.8 86.6,616 87.8,612.3 88.9,609.6 90.1,607.8 91.2,606 92.3,603.2 93.5,600.5 94.6,597.8 95.7,595.1 96.9,591.4 98,588.7 99.2,586 100.3,583.2 101.4,580.5 102.6,576.9 103.7,574.1 104.8,571.4 106,568.7 107.1,566 108.3,564.1 109.4,561.4 110.5,558.7 111.7,556 112.8,553.2 113.9,551.4 115.1,548.7 116.2,546.9 117.3,543.2 118.5,541.4 119.6,539.6 120.8,536.9 121.9,535 123,532.3 124.2,531.4 125.3,528.7 126.4,526 127.6,524.1 128.7,524.1 129.9,522.3 131,520.5 132.1,518.7 133.3,516.9 134.4,516.9 135.5,515.9 136.7,515 137.8,514.1 138.9,514.1 140.1,515 141.2,514.1 142.4,513.2 143.5,513.2 144.6,513.2 145.8,513.2 146.9,514.1 148,515 149.2,515.9 150.3,515.9 151.5,515.9 152.6,516.9 153.7,517.8 154.9,518.7 156,518.7 157.1,519.6 158.3,521.4 159.4,522.3 160.6,522.3 161.7,523.2 162.8,524.1 164,526 165.1,526.9 166.2,527.8 167.4,529.6 168.5,530.5 169.6,532.3 170.8,533.2 171.9,534.1 173.1,536 174.2,536 175.3,536.9 176.5,538.7 177.6,540.5 178.7,543.2 179.9,545 181,546 182.2,546.9 183.3,548.7 184.4,549.6 185.6,550.5 186.7,553.2 187.8,554.1 189,556 190.1,556.9 191.3,557.8 192.4,558.7 193.5,560.5 194.7,562.3 195.8,563.2 196.9,565.1 198.1,566.9 199.2,568.7 200.3,570.5 201.5,572.3 202.6,574.1 203.8,575.1 204.9,576 206,578.7 207.2,580.5 208.3,581.4 209.4,583.2 210.6,585.1 211.7,585.1 212.9,586 214,588.7 215.1,590.5 216.3,592.3 217.4,593.2 218.5,594.1 219.7,595.1 220.8,596 222,597.8 223.1,598.7 224.2,600.5 225.4,601.4 226.5,602.3 227.6,603.2 228.8,604.2 229.9,606 231,606.9 232.2,606.9 233.3,607.8 234.5,608.7 235.6,609.6 236.7,610.5 237.9,610.5 239,612.3 240.1,613.2 241.3,614.2 242.4,615.1 243.6,616 244.7,616 245.8,616.9 247,617.8 248.1,618.7 249.2,619.6 250.4,620.5 251.5,621.4 252.6,622.3 253.8,622.3 254.9,622.3 256.1,623.2 257.2,624.2 258.3,625.1 259.5,626 260.6,626.9 261.7,626.9 262.9,627.8 264,628.7 265.2,628.7 266.3,628.7 267.4,629.6 268.6,630.5 269.7,631.4 270.8,632.3 272,633.2 273.1,633.2 274.3,633.2 275.4,633.2 276.5,633.2 277.7,634.2 277.7,650.5 276.5,649.6 275.4,649.6 274.3,649.6 273.1,649.6 272,648.7 270.8,647.8 269.7,647.8 268.6,647.8 267.4,647.8 266.3,647.8 265.2,646.9 264,646 262.9,645.1 261.7,645.1 260.6,645.1 259.5,645.1 258.3,644.2 257.2,644.2 256.1,644.2 254.9,643.3 253.8,642.3 252.6,641.4 251.5,641.4 250.4,641.4 249.2,640.5 248.1,640.5 247,639.6 245.8,639.6 244.7,638.7 243.6,638.7 242.4,637.8 241.3,636.9 240.1,636 239,636 237.9,636 236.7,635.1 235.6,634.2 234.5,632.3 233.3,632.3 232.2,631.4 231,630.5 229.9,630.5 228.8,629.6 227.6,628.7 226.5,627.8 225.4,626.9 224.2,626.9 223.1,626 222,625.1 220.8,624.2 219.7,623.2 218.5,622.3 217.4,620.5 216.3,620.5 215.1,619.6 214,617.8 212.9,617.8 211.7,616 210.6,615.1 209.4,614.2 208.3,613.2 207.2,612.3 206,610.5 204.9,608.7 203.8,607.8 202.6,606 201.5,605.1 200.3,603.2 199.2,602.3 198.1,600.5 196.9,599.6 195.8,598.7 194.7,597.8 193.5,596.9 192.4,595.1 191.3,594.1 190.1,593.2 189,591.4 187.8,589.6 186.7,588.7 185.6,587.8 184.4,586 183.3,585.1 182.2,584.1 181,583.2 179.9,582.3 178.7,581.4 177.6,579.6 176.5,577.8 175.3,576.9 174.2,576 173.1,574.1 171.9,573.2 170.8,573.2 169.6,571.4 168.5,570.5 167.4,569.6 166.2,568.7 165.1,566.9 164,566 162.8,565.1 161.7,564.1 160.6,562.3 159.4,561.4 158.3,560.5 157.1,559.6 156,559.6 154.9,558.7 153.7,558.7 152.6,557.8 151.5,556.9 150.3,556 149.2,555 148,555 146.9,555 145.8,555 144.6,555 143.5,554.1 142.4,554.1 141.2,555 140.1,554.1 138.9,554.1 137.8,555 136.7,555 135.5,556 134.4,556 133.3,556.9 132.1,558.7 131,559.6 129.9,560.5 128.7,562.3 127.6,563.2 126.4,564.1 125.3,566 124.2,567.8 123,569.6 121.9,572.3 120.8,574.1 119.6,576 118.5,576.9 117.3,578.7 116.2,581.4 115.1,583.2 113.9,585.1 112.8,587.8 111.7,589.6 110.5,591.4 109.4,593.2 108.3,596 107.1,597.8 106,599.6 104.8,602.3 103.7,604.2 102.6,607.8 101.4,609.6 100.3,611.4 99.2,613.2 98,616 96.9,617.8 95.7,620.5 94.6,622.3 93.5,624.2 92.3,626.9 91.2,628.7 90.1,630.5 88.9,632.3 87.8,634.2 86.6,636.9 85.5,637.8 84.4,639.6 83.2,641.4 82.1,642.3 81,644.2 79.8,646 78.7,646 77.6,647.8 76.4,648.7 75.3,650.5 74.1,651.4 73,652.3 71.9,653.3 70.7,654.2 69.6,654.2 68.5,655.1 67.3,657.8 66.2,657.8 65,657.8 63.9,657.8 62.8,657.8 61.6,657.8 60.5,657.8 59.4,657.8 58.2,657.8 57.1,657.8 55.9,657.8 54.8,657.8 53.7,657.8 52.5,657.8 51.4,657.8" fill="#6e6e6e" fill-opacity="0.3"/><polygon points="51.4,657.8 52.5,657.8 53.7,657.8 54.8,657.8 55.9,657.8 57.1,657.8 58.2,657.8 59.4,657.8 60.5,657.8 61.6,657.8 62.8,657.8 63.9,657.8 65,657.8 66.2,657.8 67.3,657.8 68.5,648.3 69.6,647.3 70.7,646 71.9,645.1 73,643.7 74.1,642.3 75.3,641 76.4,639.2 77.6,637.3 78.7,636 79.8,634.6 81,632.8 82.1,631 83.2,628.7 84.4,626.9 85.5,624.6 86.6,622.8 87.8,620.5 88.9,617.8 90.1,615.5 91.2,613.2 92.3,610.5 93.5,608.2 94.6,606 95.7,603.2 96.9,600.5 98,597.8 99.2,595.1 100.3,592.3 101.4,590.1 102.6,587.8 103.7,584.6 104.8,581.9 106,579.6 107.1,577.3 108.3,574.6 109.4,571.9 110.5,569.6 111.7,567.3 112.8,565.1 113.9,562.3 115.1,560.1 116.2,557.8 117.3,555.5 118.5,553.2 119.6,551.4 120.8,549.6 121.9,547.3 123,545 124.2,542.8 125.3,541 126.4,539.1 127.6,537.8 128.7,536 129.9,534.6 131,533.2 132.1,532.3 133.3,531 134.4,529.6 135.5,529.1 136.7,528.7 137.8,528.2 138.9,527.8 140.1,527.8 141.2,527.8 142.4,527.8 143.5,527.8 144.6,527.8 145.8,527.8 146.9,528.2 148,528.7 149.2,529.1 150.3,529.6 151.5,530 152.6,531 153.7,531.9 154.9,532.3 156,533.2 157.1,534.1 158.3,535 159.4,536 160.6,536.9 161.7,538.2 162.8,539.6 164,540.5 165.1,541.4 166.2,542.8 167.4,544.1 168.5,545 169.6,546.4 170.8,547.8 171.9,548.7 173.1,550 174.2,551.4 175.3,552.8 176.5,553.7 177.6,555.5 178.7,557.3 179.9,558.7 181,559.6 182.2,561 183.3,562.3 184.4,563.7 185.6,565.1 186.7,566.4 187.8,567.8 189,569.1 190.1,570.5 191.3,572.3 192.4,573.7 193.5,575.1 194.7,576.4 195.8,577.8 196.9,579.1 198.1,580.1 199.2,581.9 200.3,583.7 201.5,585.1 202.6,586.4 203.8,588.2 204.9,589.6 206,591.4 207.2,593.2 208.3,594.1 209.4,595.5 210.6,596.9 211.7,598.2 212.9,599.6 214,601 215.1,602.3 216.3,603.2 217.4,604.2 218.5,605.5 219.7,606.9 220.8,607.8 222,608.7 223.1,609.6 224.2,610.5 225.4,611.4 226.5,612.3 227.6,613.7 228.8,614.6 229.9,615.1 231,616 232.2,616.9 233.3,617.8 234.5,618.7 235.6,619.6 236.7,620.5 237.9,621.4 239,621.9 240.1,622.3 241.3,623.2 242.4,624.6 243.6,625.1 244.7,625.5 245.8,626.4 247,627.3 248.1,627.8 249.2,628.2 250.4,629.2 251.5,629.6 252.6,630.1 253.8,630.5 254.9,631.4 256.1,632.3 257.2,632.8 258.3,633.2 259.5,633.7 260.6,634.2 261.7,634.6 262.9,635.1 264,635.5 265.2,636.4 266.3,636.9 267.4,637.3 268.6,637.3 269.7,637.8 270.8,638.3 272,638.7 273.1,639.6 274.3,639.6 275.4,640.1 276.5,640.5 277.7,641 277.7,646 276.5,646 275.4,645.5 274.3,645.1 273.1,645.1 272,645.1 270.8,644.6 269.7,644.2 268.6,643.7 267.4,643.3 266.3,642.8 265.2,642.3 264,641.9 262.9,641.4 261.7,641 260.6,640.5 259.5,640.1 258.3,639.6 257.2,639.2 256.1,638.3 254.9,637.8 253.8,637.8 252.6,637.3 251.5,636.9 250.4,636 249.2,635.5 248.1,635.1 247,634.2 245.8,633.7 244.7,633.2 243.6,632.8 242.4,631.9 241.3,631.4 240.1,630.5 239,629.6 237.9,629.2 236.7,628.2 235.6,627.8 234.5,627.3 233.3,626.4 232.2,625.5 231,625.1 229.9,624.2 228.8,623.7 227.6,622.8 226.5,621.9 225.4,621 224.2,620.1 223.1,619.2 222,618.2 220.8,617.3 219.7,616.4 218.5,615.5 217.4,614.6 216.3,613.7 215.1,612.3 214,611 212.9,609.6 211.7,608.7 210.6,607.8 209.4,606.4 208.3,605.1 207.2,603.7 206,602.3 204.9,601 203.8,599.6 202.6,598.2 201.5,596.9 200.3,595.5 199.2,594.1 198.1,592.3 196.9,591 195.8,589.6 194.7,588.7 193.5,586.9 192.4,585.5 191.3,584.1 190.1,583.2 189,582.3 187.8,581 186.7,579.6 185.6,578.2 184.4,576.9 183.3,576 182.2,574.6 181,573.2 179.9,572.3 178.7,571 177.6,569.1 176.5,567.8 175.3,566.4 174.2,565.5 173.1,564.1 171.9,563.2 170.8,561.9 169.6,561 168.5,559.6 167.4,558.2 166.2,557.3 165.1,556.4 164,555 162.8,554.1 161.7,552.8 160.6,552.3 159.4,551.4 158.3,550.5 157.1,549.6 156,548.7 154.9,547.8 153.7,547.3 152.6,546.4 151.5,546 150.3,545.5 149.2,545 148,544.6 146.9,544.1 145.8,543.7 144.6,543.2 143.5,543.2 142.4,543.2 141.2,543.7 140.1,543.7 138.9,543.7 137.8,544.1 136.7,544.6 135.5,545 134.4,545.5 133.3,546.4 132.1,547.8 131,549.1 129.9,550.5 128.7,551.9 127.6,552.8 126.4,554.6 125.3,556.4 124.2,558.2 123,560.1 121.9,561.9 120.8,563.7 119.6,566 118.5,567.3 117.3,569.6 116.2,571.9 115.1,574.1 113.9,576 112.8,578.2 111.7,580.5 110.5,582.8 109.4,585.1 108.3,587.3 107.1,589.6 106,591.9 104.8,594.1 103.7,596.4 102.6,598.7 101.4,601.4 100.3,603.7 99.2,606 98,608.2 96.9,610.5 95.7,613.2 94.6,615.5 93.5,617.8 92.3,620.5 91.2,622.3 90.1,624.2 88.9,626.4 87.8,628.2 86.6,630.5 85.5,632.3 84.4,634.2 83.2,636 82.1,637.8 81,639.2 79.8,640.5 78.7,642.3 77.6,643.7 76.4,644.6 75.3,646 74.1,647.3 73,648.3 71.9,649.2 70.7,650.5 69.6,651.4 68.5,652.3 67.3,657.8 66.2,657.8 65,657.8 63.9,657.8 62.8,657.8 61.6,657.8 60.5,657.8 59.4,657.8 58.2,657.8 57.1,657.8 55.9,657.8 54.8,657.8 53.7,657.8 52.5,657.8 51.4,657.8" fill="#6e6e6e" fill-opacity="0.3"/><polyline points="51.4,657.8 52.5,657.8 53.7,657.8 54.8,657.8 55.9,657.8 57.1,657.8 58.2,657.8 59.4,657.8 60.5,657.8 61.6,657.8 62.8,657.8 63.9,657.8 65,657.8 66.2,657.8 67.3,657.8 68.5,649.6 69.6,649.6 70.7,647.8 71.9,646.9 73,646 74.1,645.1 75.3,643.3 76.4,642.3 77.6,640.5 78.7,638.7 79.8,637.8 81,636 82.1,634.2 83.2,632.3 84.4,630.5 85.5,628.7 86.6,626 87.8,624.2 88.9,622.3 90.1,619.6 91.2,617.8 92.3,615.1 93.5,612.3 94.6,610.5 95.7,607.8 96.9,606 98,603.2 99.2,600.5 100.3,597.8 101.4,595.1 102.6,593.2 103.7,590.5 104.8,588.7 106,586 107.1,583.2 108.3,581.4 109.4,578.7 110.5,576 111.7,574.1 112.8,571.4 113.9,569.6 115.1,566.9 116.2,564.1 117.3,562.3 118.5,560.5 119.6,558.7 120.8,556.9 121.9,555 123,552.3 124.2,550.5 125.3,548.7 126.4,546.9 127.6,545 128.7,544.1 129.9,542.3 131,541.4 132.1,540.5 133.3,538.7 134.4,537.8 135.5,536.9 136.7,536 137.8,536 138.9,536 140.1,536 141.2,536 142.4,535 143.5,535 144.6,536 145.8,536 146.9,536.9 148,536.9 149.2,536.9 150.3,537.8 151.5,537.8 152.6,538.7 153.7,539.6 154.9,539.6 156,540.5 157.1,541.4 158.3,543.2 159.4,543.2 160.6,545 161.7,546 162.8,546.9 164,547.8 165.1,548.7 166.2,549.6 167.4,551.4 168.5,552.3 169.6,553.2 170.8,555 171.9,556 173.1,556.9 174.2,558.7 175.3,559.6 176.5,561.4 177.6,562.3 178.7,564.1 179.9,565.1 181,566.9 182.2,567.8 183.3,569.6 184.4,570.5 185.6,571.4 186.7,573.2 187.8,574.1 189,576 190.1,576.9 191.3,578.7 192.4,579.6 193.5,581.4 194.7,582.3 195.8,584.1 196.9,585.1 198.1,586.9 199.2,587.8 200.3,589.6 201.5,590.5 202.6,592.3 203.8,594.1 204.9,595.1 206,596.9 207.2,598.7 208.3,599.6 209.4,601.4 210.6,602.3 211.7,603.2 212.9,605.1 214,606 215.1,606.9 216.3,608.7 217.4,609.6 218.5,610.5 219.7,611.4 220.8,613.2 222,613.2 223.1,615.1 224.2,615.1 225.4,616 226.5,616.9 227.6,617.8 228.8,618.7 229.9,619.6 231,620.5 232.2,621.4 233.3,622.3 234.5,623.2 235.6,623.2 236.7,624.2 237.9,625.1 239,626 240.1,626 241.3,627.8 242.4,627.8 243.6,628.7 244.7,629.6 245.8,630.5 247,630.5 248.1,631.4 249.2,632.3 250.4,632.3 251.5,633.2 252.6,634.2 253.8,634.2 254.9,635.1 256.1,635.1 257.2,636 258.3,636.9 259.5,636.9 260.6,636.9 261.7,637.8 262.9,638.7 264,638.7 265.2,639.6 266.3,639.6 267.4,640.5 268.6,640.5 269.7,640.5 270.8,641.4 272,641.4 273.1,642.3 274.3,643.3 275.4,643.3 276.5,643.3 277.7,643.3" fill="none" stroke="#000" stroke-width="1.3" stroke-linejoin="round"/><use href="#dots" transform="translate(0,490.2)"/></g>
<g clip-path="url(#c10)"><polygon points="310.5,167.6 311.6,167.6 312.8,167.6 313.9,167.6 315,167.6 316.2,167.6 317.3,167.6 318.5,167.6 319.6,167.6 320.7,167.6 321.9,167.6 323,165.8 324.1,165.8 325.3,165.8 326.4,165.8 327.6,164.9 328.7,164.9 329.8,164.9 331,163.1 332.1,162.1 333.2,160.3 334.4,159.4 335.5,157.6 336.7,154.9 337.8,154 338.9,152.1 340.1,150.3 341.2,147.6 342.3,145.8 343.5,144.9 344.6,144 345.7,143 346.9,141.2 348,139.4 349.2,137.6 350.3,135.8 351.4,134.9 352.6,134 353.7,132.1 354.8,131.2 356,130.3 357.1,128.5 358.3,126.7 359.4,125.8 360.5,124.9 361.7,123 362.8,122.1 363.9,121.2 365.1,120.3 366.2,119.4 367.4,119.4 368.5,118.5 369.6,117.6 370.8,116.7 371.9,116.7 373,117.6 374.2,116.7 375.3,115.8 376.4,115.8 377.6,115.8 378.7,115.8 379.9,115.8 381,115.8 382.1,114.9 383.3,115.8 384.4,116.7 385.5,116.7 386.7,116.7 387.8,116.7 389,116.7 390.1,116.7 391.2,117.6 392.4,118.5 393.5,118.5 394.6,118.5 395.8,119.4 396.9,119.4 398,119.4 399.2,119.4 400.3,120.3 401.5,120.3 402.6,120.3 403.7,120.3 404.9,121.2 406,121.2 407.1,120.3 408.3,121.2 409.4,122.1 410.6,122.1 411.7,122.1 412.8,122.1 414,122.1 415.1,122.1 416.2,123 417.4,123 418.5,123 419.7,123 420.8,123 421.9,123 423.1,123 424.2,124 425.3,124 426.5,124.9 427.6,124.9 428.7,124.9 429.9,124.9 431,124.9 432.2,124.9 433.3,125.8 434.4,125.8 435.6,125.8 436.7,125.8 437.8,125.8 439,126.7 440.1,127.6 441.3,127.6 442.4,127.6 443.5,127.6 444.7,127.6 445.8,127.6 446.9,127.6 448.1,128.5 449.2,129.4 450.4,129.4 451.5,129.4 452.6,129.4 453.8,129.4 454.9,130.3 456,131.2 457.2,131.2 458.3,132.1 459.4,132.1 460.6,132.1 461.7,132.1 462.9,132.1 464,132.1 465.1,132.1 466.3,132.1 467.4,132.1 468.5,133 469.7,133 470.8,133 472,134 473.1,134.9 474.2,134.9 475.4,134.9 476.5,134.9 477.6,134.9 478.8,134.9 479.9,135.8 481.1,136.7 482.2,136.7 483.3,136.7 484.5,136.7 485.6,137.6 486.7,136.7 487.9,136.7 489,137.6 490.1,137.6 491.3,138.5 492.4,139.4 493.6,139.4 494.7,139.4 495.8,139.4 497,140.3 498.1,140.3 499.2,140.3 500.4,139.4 501.5,140.3 502.7,142.1 503.8,142.1 504.9,142.1 506.1,142.1 507.2,143 508.3,143 509.5,143 510.6,142.1 511.7,142.1 512.9,143 514,143 515.2,143 516.3,143 517.4,144 518.6,144.9 519.7,145.8 520.8,145.8 522,145.8 523.1,145.8 524.3,146.7 525.4,146.7 526.5,146.7 527.7,145.8 528.8,146.7 529.9,146.7 531.1,146.7 532.2,146.7 533.4,147.6 534.5,147.6 535.6,148.5 536.8,149.4 537.9,149.4 539,148.5 540.2,149.4 541.3,149.4 542.4,150.3 543.6,150.3 544.7,151.2 544.7,164.9 543.6,164.9 542.4,164.9 541.3,164.9 540.2,164 539,164 537.9,163.1 536.8,163.1 535.6,163.1 534.5,163.1 533.4,163.1 532.2,163.1 531.1,163.1 529.9,163.1 528.8,163.1 527.7,163.1 526.5,162.1 525.4,162.1 524.3,162.1 523.1,163.1 522,162.1 520.8,162.1 519.7,161.2 518.6,161.2 517.4,160.3 516.3,160.3 515.2,160.3 514,160.3 512.9,160.3 511.7,160.3 510.6,160.3 509.5,160.3 508.3,159.4 507.2,159.4 506.1,160.3 504.9,159.4 503.8,159.4 502.7,159.4 501.5,159.4 500.4,159.4 499.2,158.5 498.1,158.5 497,158.5 495.8,158.5 494.7,158.5 493.6,158.5 492.4,157.6 491.3,157.6 490.1,157.6 489,157.6 487.9,157.6 486.7,157.6 485.6,156.7 484.5,156.7 483.3,156.7 482.2,156.7 481.1,155.8 479.9,155.8 478.8,155.8 477.6,155.8 476.5,155.8 475.4,155.8 474.2,154.9 473.1,154.9 472,154 470.8,154 469.7,154 468.5,154 467.4,154 466.3,154 465.1,154 464,153.1 462.9,153.1 461.7,153.1 460.6,153.1 459.4,152.1 458.3,152.1 457.2,152.1 456,152.1 454.9,151.2 453.8,151.2 452.6,151.2 451.5,151.2 450.4,150.3 449.2,150.3 448.1,150.3 446.9,151.2 445.8,150.3 444.7,149.4 443.5,149.4 442.4,149.4 441.3,149.4 440.1,149.4 439,148.5 437.8,148.5 436.7,148.5 435.6,148.5 434.4,148.5 433.3,148.5 432.2,147.6 431,146.7 429.9,146.7 428.7,146.7 427.6,146.7 426.5,146.7 425.3,147.6 424.2,147.6 423.1,146.7 421.9,146.7 420.8,145.8 419.7,144.9 418.5,144.9 417.4,145.8 416.2,144.9 415.1,144.9 414,144.9 412.8,144.9 411.7,144.9 410.6,144 409.4,144 408.3,144 407.1,144 406,143 404.9,143 403.7,143 402.6,143 401.5,142.1 400.3,142.1 399.2,143 398,143 396.9,142.1 395.8,141.2 394.6,141.2 393.5,141.2 392.4,141.2 391.2,141.2 390.1,141.2 389,140.3 387.8,140.3 386.7,140.3 385.5,139.4 384.4,138.5 383.3,138.5 382.1,138.5 381,138.5 379.9,138.5 378.7,138.5 377.6,138.5 376.4,138.5 375.3,138.5 374.2,138.5 373,139.4 371.9,139.4 370.8,140.3 369.6,140.3 368.5,140.3 367.4,141.2 366.2,141.2 365.1,142.1 363.9,143 362.8,144 361.7,144 360.5,144.9 359.4,145.8 358.3,146.7 357.1,147.6 356,149.4 354.8,150.3 353.7,151.2 352.6,153.1 351.4,154 350.3,154 349.2,154.9 348,155.8 346.9,156.7 345.7,157.6 344.6,158.5 343.5,159.4 342.3,160.3 341.2,160.3 340.1,162.1 338.9,164 337.8,164.9 336.7,164.9 335.5,165.8 334.4,165.8 333.2,166.7 332.1,167.6 331,167.6 329.8,167.6 328.7,167.6 327.6,167.6 326.4,167.6 325.3,167.6 324.1,167.6 323,167.6 321.9,167.6 320.7,167.6 319.6,167.6 318.5,167.6 317.3,167.6 316.2,167.6 315,167.6 313.9,167.6 312.8,167.6 311.6,167.6 310.5,167.6" fill="#6e6e6e" fill-opacity="0.3"/><polygon points="310.5,167.6 311.6,167.6 312.8,167.6 313.9,167.6 315,167.6 316.2,167.6 317.3,167.6 318.5,167.6 319.6,167.6 320.7,167.6 321.9,167.6 323,166.7 324.1,166.2 325.3,166.2 326.4,166.2 327.6,166.2 328.7,166.2 329.8,165.8 331,164.9 332.1,164 333.2,162.6 334.4,160.8 335.5,159.9 336.7,158.5 337.8,157.1 338.9,155.8 340.1,154 341.2,152.1 342.3,150.8 343.5,149.9 344.6,148.5 345.7,147.6 346.9,146.2 348,145.3 349.2,144 350.3,142.6 351.4,141.7 352.6,140.3 353.7,139 354.8,138 356,136.2 357.1,134.9 358.3,134 359.4,132.6 360.5,131.2 361.7,130.3 362.8,129.9 363.9,129 365.1,127.6 366.2,126.7 367.4,126.2 368.5,125.3 369.6,125.3 370.8,124.9 371.9,124.4 373,124 374.2,123.5 375.3,123.5 376.4,123.5 377.6,123.5 378.7,123.5 379.9,123 381,123 382.1,123 383.3,123 384.4,123.5 385.5,124 386.7,124.4 387.8,124.9 389,124.9 390.1,125.3 391.2,125.3 392.4,125.8 393.5,125.8 394.6,125.8 395.8,126.2 396.9,126.7 398,127.1 399.2,127.1 400.3,127.1 401.5,127.6 402.6,127.6 403.7,128 404.9,128 406,128 407.1,128.5 408.3,129 409.4,129 410.6,129 411.7,129.4 412.8,129.9 414,129.9 415.1,129.9 416.2,130.3 417.4,130.3 418.5,130.3 419.7,130.3 420.8,130.8 421.9,131.2 423.1,131.2 424.2,131.7 425.3,131.7 426.5,131.7 427.6,131.7 428.7,131.7 429.9,131.7 431,132.1 432.2,132.6 433.3,133 434.4,133 435.6,133.5 436.7,133.5 437.8,133.5 439,134 440.1,134 441.3,134.4 442.4,134.4 443.5,134.4 444.7,134.9 445.8,135.3 446.9,135.3 448.1,135.3 449.2,135.8 450.4,135.8 451.5,136.2 452.6,136.2 453.8,136.2 454.9,136.7 456,137.1 457.2,137.1 458.3,137.1 459.4,137.6 460.6,138 461.7,138 462.9,138.5 464,138.5 465.1,139 466.3,139 467.4,139 468.5,139.4 469.7,139.4 470.8,139.9 472,139.9 473.1,140.3 474.2,140.3 475.4,140.8 476.5,141.2 477.6,141.2 478.8,141.2 479.9,141.7 481.1,142.1 482.2,142.1 483.3,142.6 484.5,142.6 485.6,143 486.7,143 487.9,143.5 489,143.5 490.1,144 491.3,144 492.4,144.4 493.6,144.9 494.7,144.9 495.8,144.9 497,144.9 498.1,145.3 499.2,145.3 500.4,145.8 501.5,146.2 502.7,146.2 503.8,146.2 504.9,146.7 506.1,147.1 507.2,147.1 508.3,147.1 509.5,147.6 510.6,148.1 511.7,148.1 512.9,148.5 514,148.5 515.2,148.5 516.3,149 517.4,149 518.6,149.4 519.7,149.4 520.8,149.9 522,150.3 523.1,150.8 524.3,150.8 525.4,150.8 526.5,151.2 527.7,151.7 528.8,151.7 529.9,151.7 531.1,152.1 532.2,152.1 533.4,152.6 534.5,152.6 535.6,153.1 536.8,153.1 537.9,153.5 539,153.5 540.2,154 541.3,154.4 542.4,154.4 543.6,154.9 544.7,154.9 544.7,160.3 543.6,160.3 542.4,159.9 541.3,159.9 540.2,159.9 539,159.4 537.9,159.4 536.8,159.4 535.6,159 534.5,158.5 533.4,158.5 532.2,158.5 531.1,158.1 529.9,158.1 528.8,157.6 527.7,157.6 526.5,157.6 525.4,157.6 524.3,157.6 523.1,157.1 522,157.1 520.8,157.1 519.7,156.7 518.6,156.7 517.4,156.2 516.3,155.8 515.2,155.3 514,155.3 512.9,155.3 511.7,155.3 510.6,154.9 509.5,154.9 508.3,154.9 507.2,154.9 506.1,154.4 504.9,154.4 503.8,154.4 502.7,154 501.5,153.5 500.4,153.1 499.2,153.1 498.1,153.1 497,153.1 495.8,152.6 494.7,152.6 493.6,152.6 492.4,152.1 491.3,152.1 490.1,151.7 489,151.7 487.9,151.2 486.7,151.2 485.6,151.2 484.5,151.2 483.3,150.8 482.2,150.8 481.1,150.3 479.9,149.9 478.8,149.9 477.6,149.4 476.5,149.4 475.4,149.4 474.2,149.4 473.1,149 472,148.5 470.8,148.5 469.7,148.1 468.5,148.1 467.4,147.6 466.3,147.1 465.1,147.1 464,147.1 462.9,147.1 461.7,146.7 460.6,146.7 459.4,146.7 458.3,146.2 457.2,146.2 456,145.8 454.9,145.3 453.8,144.9 452.6,144.9 451.5,144.9 450.4,144.4 449.2,144.4 448.1,144.4 446.9,144 445.8,143.5 444.7,143.5 443.5,143.5 442.4,143 441.3,143 440.1,143 439,142.6 437.8,142.1 436.7,142.1 435.6,142.1 434.4,142.1 433.3,141.7 432.2,141.2 431,141.2 429.9,141.2 428.7,140.8 427.6,140.8 426.5,140.8 425.3,140.3 424.2,140.3 423.1,139.9 421.9,139.4 420.8,139.4 419.7,139.4 418.5,139.4 417.4,139.4 416.2,139 415.1,138.5 414,138.5 412.8,138.5 411.7,138.5 410.6,138.5 409.4,138 408.3,137.6 407.1,137.1 406,137.1 404.9,137.1 403.7,136.7 402.6,136.7 401.5,136.7 400.3,136.2 399.2,136.2 398,135.8 396.9,135.8 395.8,135.3 394.6,135.3 393.5,134.9 392.4,134.4 391.2,134.4 390.1,134 389,133.5 387.8,133.5 386.7,133 385.5,133 384.4,133 383.3,132.6 382.1,132.1 381,132.1 379.9,132.6 378.7,132.6 377.6,132.6 376.4,132.6 375.3,132.6 374.2,133 373,133 371.9,133 370.8,133.5 369.6,134 368.5,134.4 367.4,134.9 366.2,135.3 365.1,136.2 363.9,137.1 362.8,138 361.7,138.5 360.5,139.9 359.4,140.8 358.3,141.7 357.1,143 356,144 354.8,144.9 353.7,145.8 352.6,147.1 351.4,148.1 350.3,149 349.2,150.3 348,151.2 346.9,152.6 345.7,153.5 344.6,154.4 343.5,155.3 342.3,156.2 341.2,157.1 340.1,159 338.9,160.3 337.8,161.2 336.7,162.1 335.5,163.5 334.4,164.4 333.2,165.3 332.1,166.2 331,166.7 329.8,167.1 328.7,167.6 327.6,167.6 326.4,167.6 325.3,167.6 324.1,167.6 323,167.6 321.9,167.6 320.7,167.6 319.6,167.6 318.5,167.6 317.3,167.6 316.2,167.6 315,167.6 313.9,167.6 312.8,167.6 311.6,167.6 310.5,167.6" fill="#6e6e6e" fill-opacity="0.3"/><polygon points="310.5,167.6 311.6,167.6 312.8,167.6 313.9,167.6 315,167.6 316.2,167.6 317.3,167.6 318.5,167.6 319.6,167.6 320.7,167.6 321.9,167.6 323,167.6 324.1,167.6 325.3,167.6 326.4,167.6 327.6,167.6 328.7,167.6 329.8,167.4 331,164.9 332.1,163.1 333.2,162.1 334.4,160.3 335.5,158.5 336.7,157.6 337.8,155.8 338.9,154.9 340.1,153.1 341.2,151.2 342.3,150.3 343.5,147.6 344.6,145.8 345.7,144.9 346.9,144 348,142.1 349.2,140.3 350.3,139.4 351.4,137.6 352.6,136.7 353.7,135.8 354.8,135.8 356,134.9 357.1,134 358.3,133 359.4,133 360.5,133 361.7,132.1 362.8,132.1 363.9,130.3 365.1,129.4 366.2,129.4 367.4,128.5 368.5,128.5 369.6,128.5 370.8,128.5 371.9,128.5 373,129.4 374.2,128.5 375.3,128.5 376.4,129.4 377.6,129.4 378.7,129.4 379.9,130.3 381,131.2 382.1,131.2 383.3,132.1 384.4,133 385.5,133 386.7,134 387.8,134.9 389,135.8 390.1,136.7 391.2,137.6 392.4,138.5 393.5,138.5 394.6,139.4 395.8,140.3 396.9,142.1 398,142.1 399.2,143 400.3,144 401.5,144.9 402.6,145.8 403.7,146.7 404.9,147.6 406,147.6 407.1,149.4 408.3,150.3 409.4,151.2 410.6,150.3 411.7,150.3 412.8,151.2 414,153.1 415.1,153.1 416.2,153.1 417.4,153.1 418.5,154 419.7,154.9 420.8,155.8 421.9,155.8 423.1,156.7 424.2,156.7 425.3,156.7 426.5,157.6 427.6,157.6 428.7,158.5 429.9,159.4 431,159.4 432.2,158.5 433.3,159.4 434.4,160.3 435.6,159.4 436.7,159.4 437.8,159.4 439,160.3 440.1,161.2 441.3,161.2 442.4,161.2 443.5,161.2 444.7,162.1 445.8,162.1 446.9,162.1 448.1,162.1 449.2,163.1 450.4,163.1 451.5,163.1 452.6,163.1 453.8,163.1 454.9,163.1 456,163.1 457.2,164 458.3,164 459.4,164 460.6,164 461.7,164.9 462.9,164.9 464,164.9 465.1,164.9 466.3,165.8 467.4,165.8 468.5,167.4 469.7,167.4 470.8,167.4 472,167.4 473.1,167.4 474.2,167.4 475.4,167.4 476.5,167.5 477.6,167.5 478.8,167.5 479.9,167.5 481.1,167.5 482.2,167.5 483.3,167.5 484.5,167.5 485.6,167.5 486.7,167.5 487.9,167.5 489,167.5 490.1,167.5 491.3,167.5 492.4,167.5 493.6,167.5 494.7,167.5 495.8,167.5 497,167.5 498.1,167.5 499.2,167.5 500.4,167.5 501.5,167.6 502.7,167.6 503.8,167.6 504.9,167.6 506.1,167.6 507.2,167.6 508.3,167.6 509.5,167.6 510.6,167.6 511.7,167.6 512.9,167.6 514,167.6 515.2,167.6 516.3,167.6 517.4,167.6 518.6,167.6 519.7,167.6 520.8,167.6 522,167.6 523.1,167.6 524.3,167.6 525.4,167.6 526.5,167.6 527.7,167.6 528.8,167.6 529.9,167.6 531.1,167.6 532.2,167.6 533.4,167.6 534.5,167.6 535.6,167.6 536.8,167.6 537.9,167.6 539,167.6 540.2,167.6 541.3,167.6 542.4,167.6 543.6,167.6 544.7,167.6 544.7,167.6 543.6,167.6 542.4,167.6 541.3,167.6 540.2,167.6 539,167.6 537.9,167.6 536.8,167.6 535.6,167.6 534.5,167.6 533.4,167.6 532.2,167.6 531.1,167.6 529.9,167.6 528.8,167.6 527.7,167.6 526.5,167.6 525.4,167.6 524.3,167.6 523.1,167.6 522,167.6 520.8,167.6 519.7,167.6 518.6,167.6 517.4,167.6 516.3,167.6 515.2,167.6 514,167.6 512.9,167.6 511.7,167.6 510.6,167.6 509.5,167.6 508.3,167.6 507.2,167.6 506.1,167.6 504.9,167.6 503.8,167.6 502.7,167.6 501.5,167.6 500.4,167.5 499.2,167.5 498.1,167.5 497,167.5 495.8,167.5 494.7,167.5 493.6,167.5 492.4,167.5 491.3,167.5 490.1,167.5 489,167.5 487.9,167.5 486.7,167.5 485.6,167.5 484.5,167.5 483.3,167.5 482.2,167.5 481.1,167.5 479.9,167.5 478.8,167.5 477.6,167.5 476.5,167.5 475.4,167.4 474.2,167.4 473.1,167.4 472,167.4 470.8,167.4 469.7,167.4 468.5,167.4 467.4,167.6 466.3,167.6 465.1,167.6 464,167.6 462.9,167.6 461.7,167.6 460.6,167.6 459.4,167.6 458.3,167.6 457.2,167.6 456,167.6 454.9,167.6 453.8,167.6 452.6,167.6 451.5,167.6 450.4,167.6 449.2,167.6 448.1,167.6 446.9,167.6 445.8,167.6 444.7,167.6 443.5,167.6 442.4,167.6 441.3,167.6 440.1,167.6 439,167.6 437.8,167.6 436.7,167.6 435.6,167.6 434.4,167.6 433.3,166.7 432.2,166.7 431,166.7 429.9,166.7 428.7,166.7 427.6,166.7 426.5,166.7 425.3,166.7 424.2,166.7 423.1,165.8 421.9,165.8 420.8,164.9 419.7,164.9 418.5,164.9 417.4,164.9 416.2,164.9 415.1,164 414,164 412.8,164 411.7,164 410.6,163.1 409.4,163.1 408.3,163.1 407.1,162.1 406,162.1 404.9,161.2 403.7,160.3 402.6,160.3 401.5,159.4 400.3,158.5 399.2,158.5 398,158.5 396.9,157.6 395.8,156.7 394.6,156.7 393.5,155.8 392.4,154.9 391.2,154.9 390.1,154 389,154 387.8,153.1 386.7,152.1 385.5,152.1 384.4,152.1 383.3,151.2 382.1,150.3 381,150.3 379.9,149.4 378.7,149.4 377.6,149.4 376.4,148.5 375.3,148.5 374.2,148.5 373,148.5 371.9,148.5 370.8,148.5 369.6,147.6 368.5,148.5 367.4,148.5 366.2,148.5 365.1,148.5 363.9,149.4 362.8,149.4 361.7,150.3 360.5,150.3 359.4,150.3 358.3,151.2 357.1,152.1 356,152.1 354.8,152.1 353.7,153.1 352.6,154 351.4,154.9 350.3,156.7 349.2,156.7 348,157.6 346.9,157.6 345.7,159.4 344.6,159.4 343.5,161.2 342.3,162.1 341.2,163.1 340.1,163.1 338.9,164 337.8,164.9 336.7,165.8 335.5,166.7 334.4,167.6 333.2,167.6 332.1,167.6 331,167.6 329.8,167.4 328.7,167.6 327.6,167.6 326.4,167.6 325.3,167.6 324.1,167.6 323,167.6 321.9,167.6 320.7,167.6 319.6,167.6 318.5,167.6 317.3,167.6 316.2,167.6 315,167.6 313.9,167.6 312.8,167.6 311.6,167.6 310.5,167.6" fill="#aedfae" fill-opacity="0.3"/><polygon points="310.5,167.6 311.6,167.6 312.8,167.6 313.9,167.6 315,167.6 316.2,167.6 317.3,167.6 318.5,167.6 319.6,167.6 320.7,167.6 321.9,167.6 323,167.6 324.1,167.6 325.3,167.6 326.4,167.6 327.6,167.6 328.7,167.6 329.8,167.4 331,166.2 332.1,164.9 333.2,164 334.4,162.6 335.5,161.2 336.7,159.4 337.8,158.1 338.9,157.1 340.1,155.8 341.2,154.9 342.3,153.5 343.5,152.1 344.6,150.8 345.7,149.4 346.9,148.1 348,147.1 349.2,146.2 350.3,145.3 351.4,144 352.6,143 353.7,142.1 354.8,140.8 356,140.3 357.1,139.9 358.3,139.4 359.4,139 360.5,138 361.7,137.6 362.8,137.1 363.9,136.7 365.1,136.2 366.2,135.8 367.4,135.8 368.5,135.3 369.6,135.3 370.8,135.3 371.9,135.3 373,135.3 374.2,135.8 375.3,135.8 376.4,135.8 377.6,136.2 378.7,136.2 379.9,137.1 381,137.6 382.1,138 383.3,138.5 384.4,139.4 385.5,140.3 386.7,140.8 387.8,141.2 389,142.1 390.1,143 391.2,144 392.4,144.4 393.5,145.3 394.6,146.2 395.8,146.7 396.9,147.6 398,148.1 399.2,149 400.3,149.4 401.5,149.9 402.6,150.8 403.7,151.7 404.9,152.6 406,153.5 407.1,154 408.3,154.4 409.4,154.9 410.6,155.3 411.7,156.2 412.8,156.7 414,157.1 415.1,157.1 416.2,157.6 417.4,158.1 418.5,158.5 419.7,158.5 420.8,159.4 421.9,159.9 423.1,159.9 424.2,160.3 425.3,160.8 426.5,161.2 427.6,161.2 428.7,161.7 429.9,161.7 431,162.1 432.2,162.1 433.3,162.1 434.4,162.6 435.6,163.1 436.7,163.1 437.8,163.5 439,163.5 440.1,163.5 441.3,164 442.4,164 443.5,164 444.7,164 445.8,164.4 446.9,164.4 448.1,164.9 449.2,164.9 450.4,164.9 451.5,164.9 452.6,164.9 453.8,164.9 454.9,165.3 456,165.3 457.2,165.3 458.3,165.3 459.4,165.8 460.6,165.8 461.7,166.2 462.9,166.2 464,166.7 465.1,166.7 466.3,166.7 467.4,167.1 468.5,167.4 469.7,167.4 470.8,167.4 472,167.4 473.1,167.4 474.2,167.4 475.4,167.4 476.5,167.5 477.6,167.5 478.8,167.5 479.9,167.5 481.1,167.5 482.2,167.5 483.3,167.5 484.5,167.5 485.6,167.5 486.7,167.5 487.9,167.5 489,167.5 490.1,167.5 491.3,167.5 492.4,167.5 493.6,167.5 494.7,167.5 495.8,167.5 497,167.5 498.1,167.5 499.2,167.5 500.4,167.5 501.5,167.6 502.7,167.6 503.8,167.6 504.9,167.6 506.1,167.6 507.2,167.6 508.3,167.6 509.5,167.6 510.6,167.6 511.7,167.6 512.9,167.6 514,167.6 515.2,167.6 516.3,167.6 517.4,167.6 518.6,167.6 519.7,167.6 520.8,167.6 522,167.6 523.1,167.6 524.3,167.6 525.4,167.6 526.5,167.6 527.7,167.6 528.8,167.6 529.9,167.6 531.1,167.6 532.2,167.6 533.4,167.6 534.5,167.6 535.6,167.6 536.8,167.6 537.9,167.6 539,167.6 540.2,167.6 541.3,167.6 542.4,167.6 543.6,167.6 544.7,167.6 544.7,167.6 543.6,167.6 542.4,167.6 541.3,167.6 540.2,167.6 539,167.6 537.9,167.6 536.8,167.6 535.6,167.6 534.5,167.6 533.4,167.6 532.2,167.6 531.1,167.6 529.9,167.6 528.8,167.6 527.7,167.6 526.5,167.6 525.4,167.6 524.3,167.6 523.1,167.6 522,167.6 520.8,167.6 519.7,167.6 518.6,167.6 517.4,167.6 516.3,167.6 515.2,167.6 514,167.6 512.9,167.6 511.7,167.6 510.6,167.6 509.5,167.6 508.3,167.6 507.2,167.6 506.1,167.6 504.9,167.6 503.8,167.6 502.7,167.6 501.5,167.6 500.4,167.5 499.2,167.5 498.1,167.5 497,167.5 495.8,167.5 494.7,167.5 493.6,167.5 492.4,167.5 491.3,167.5 490.1,167.5 489,167.5 487.9,167.5 486.7,167.5 485.6,167.5 484.5,167.5 483.3,167.5 482.2,167.5 481.1,167.5 479.9,167.5 478.8,167.5 477.6,167.5 476.5,167.5 475.4,167.4 474.2,167.4 473.1,167.4 472,167.4 470.8,167.4 469.7,167.4 468.5,167.4 467.4,167.6 466.3,167.6 465.1,167.6 464,167.6 462.9,167.6 461.7,167.6 460.6,167.1 459.4,167.1 458.3,167.1 457.2,167.1 456,167.1 454.9,167.1 453.8,166.7 452.6,166.7 451.5,166.7 450.4,166.7 449.2,166.7 448.1,166.7 446.9,166.7 445.8,166.7 444.7,166.2 443.5,166.2 442.4,166.2 441.3,166.2 440.1,166.2 439,165.8 437.8,165.8 436.7,165.3 435.6,165.3 434.4,165.3 433.3,165.3 432.2,164.9 431,164.9 429.9,164.9 428.7,164.9 427.6,164.4 426.5,164.4 425.3,164 424.2,164 423.1,163.5 421.9,163.1 420.8,163.1 419.7,162.6 418.5,162.1 417.4,161.7 416.2,161.7 415.1,161.7 414,161.2 412.8,160.3 411.7,159.9 410.6,159.9 409.4,159.9 408.3,159.4 407.1,159 406,158.1 404.9,157.6 403.7,157.1 402.6,156.2 401.5,155.8 400.3,154.9 399.2,154.4 398,154 396.9,153.5 395.8,152.6 394.6,152.1 393.5,151.7 392.4,150.8 391.2,150.3 390.1,149.4 389,149 387.8,148.1 386.7,147.6 385.5,147.1 384.4,146.2 383.3,145.8 382.1,145.3 381,144.9 379.9,144.4 378.7,144 377.6,144 376.4,143.5 375.3,143 374.2,143 373,143 371.9,143 370.8,143 369.6,143 368.5,143 367.4,143 366.2,143.5 365.1,144 363.9,144.4 362.8,144.9 361.7,145.3 360.5,145.8 359.4,146.2 358.3,146.7 357.1,146.7 356,147.6 354.8,148.1 353.7,149 352.6,149.4 351.4,150.3 350.3,151.2 349.2,152.1 348,153.1 346.9,154 345.7,155.3 344.6,156.2 343.5,157.1 342.3,158.5 341.2,159.4 340.1,160.3 338.9,161.7 337.8,162.6 336.7,163.5 335.5,164.4 334.4,165.3 333.2,166.2 332.1,166.7 331,167.6 329.8,167.4 328.7,167.6 327.6,167.6 326.4,167.6 325.3,167.6 324.1,167.6 323,167.6 321.9,167.6 320.7,167.6 319.6,167.6 318.5,167.6 317.3,167.6 316.2,167.6 315,167.6 313.9,167.6 312.8,167.6 311.6,167.6 310.5,167.6" fill="#aedfae" fill-opacity="0.3"/><polygon points="310.5,167.6 311.6,167.6 312.8,167.6 313.9,167.6 315,167.6 316.2,167.6 317.3,167.6 318.5,167.6 319.6,167.6 320.7,167.6 321.9,167.6 323,165.8 324.1,165.8 325.3,165.8 326.4,164.9 327.6,164.9 328.7,164.9 329.8,164.9 331,164 332.1,164 333.2,164 334.4,164 335.5,164 336.7,164 337.8,163.1 338.9,163.1 340.1,163.1 341.2,163.1 342.3,162.1 343.5,162.1 344.6,162.1 345.7,162.1 346.9,161.2 348,161.2 349.2,160.3 350.3,160.3 351.4,159.4 352.6,159.4 353.7,158.5 354.8,157.6 356,157.6 357.1,157.6 358.3,156.7 359.4,156.7 360.5,155.8 361.7,155.8 362.8,155.8 363.9,155.8 365.1,154.9 366.2,154 367.4,154 368.5,153.1 369.6,152.1 370.8,152.1 371.9,150.3 373,149.4 374.2,149.4 375.3,148.5 376.4,147.6 377.6,147.6 378.7,147.6 379.9,146.7 381,146.7 382.1,146.7 383.3,146.7 384.4,145.8 385.5,144 386.7,144 387.8,144 389,144 390.1,143 391.2,142.1 392.4,141.2 393.5,140.3 394.6,139.4 395.8,139.4 396.9,139.4 398,139.4 399.2,139.4 400.3,138.5 401.5,137.6 402.6,136.7 403.7,136.7 404.9,136.7 406,136.7 407.1,136.7 408.3,136.7 409.4,135.8 410.6,134.9 411.7,134.9 412.8,134.9 414,134 415.1,134 416.2,133 417.4,133 418.5,133 419.7,133 420.8,132.1 421.9,133 423.1,133 424.2,133 425.3,132.1 426.5,131.2 427.6,131.2 428.7,131.2 429.9,131.2 431,130.3 432.2,130.3 433.3,130.3 434.4,130.3 435.6,129.4 436.7,128.5 437.8,129.4 439,129.4 440.1,129.4 441.3,128.5 442.4,128.5 443.5,128.5 444.7,129.4 445.8,129.4 446.9,128.5 448.1,128.5 449.2,130.3 450.4,130.3 451.5,130.3 452.6,129.4 453.8,129.4 454.9,130.3 456,131.2 457.2,132.1 458.3,132.1 459.4,132.1 460.6,131.2 461.7,132.1 462.9,133 464,133 465.1,133 466.3,133 467.4,133 468.5,134 469.7,134 470.8,134 472,134.9 473.1,134.9 474.2,135.8 475.4,136.7 476.5,135.8 477.6,135.8 478.8,136.7 479.9,135.8 481.1,135.8 482.2,136.7 483.3,136.7 484.5,136.7 485.6,137.6 486.7,138.5 487.9,138.5 489,138.5 490.1,138.5 491.3,139.4 492.4,139.4 493.6,140.3 494.7,140.3 495.8,139.4 497,139.4 498.1,140.3 499.2,141.2 500.4,141.2 501.5,140.3 502.7,140.3 503.8,140.3 504.9,140.3 506.1,141.2 507.2,141.2 508.3,142.1 509.5,143 510.6,143 511.7,144.9 512.9,144 514,143 515.2,144 516.3,144.9 517.4,144.9 518.6,144 519.7,144.9 520.8,144.9 522,145.8 523.1,145.8 524.3,144.9 525.4,145.8 526.5,145.8 527.7,145.8 528.8,146.7 529.9,146.7 531.1,147.6 532.2,147.6 533.4,147.6 534.5,147.6 535.6,148.5 536.8,149.4 537.9,150.3 539,149.4 540.2,149.4 541.3,149.4 542.4,150.3 543.6,150.3 544.7,150.3 544.7,164.9 543.6,164.9 542.4,164 541.3,164 540.2,164 539,164 537.9,164 536.8,164 535.6,163.1 534.5,163.1 533.4,162.1 532.2,162.1 531.1,162.1 529.9,162.1 528.8,162.1 527.7,162.1 526.5,161.2 525.4,162.1 524.3,162.1 523.1,161.2 522,161.2 520.8,161.2 519.7,161.2 518.6,161.2 517.4,161.2 516.3,160.3 515.2,160.3 514,160.3 512.9,159.4 511.7,159.4 510.6,159.4 509.5,159.4 508.3,159.4 507.2,159.4 506.1,158.5 504.9,158.5 503.8,158.5 502.7,158.5 501.5,157.6 500.4,157.6 499.2,157.6 498.1,157.6 497,157.6 495.8,156.7 494.7,156.7 493.6,156.7 492.4,156.7 491.3,156.7 490.1,156.7 489,157.6 487.9,156.7 486.7,155.8 485.6,155.8 484.5,155.8 483.3,154.9 482.2,154.9 481.1,154.9 479.9,154 478.8,154 477.6,154 476.5,154.9 475.4,154 474.2,153.1 473.1,154 472,153.1 470.8,153.1 469.7,153.1 468.5,153.1 467.4,152.1 466.3,151.2 465.1,151.2 464,152.1 462.9,152.1 461.7,151.2 460.6,151.2 459.4,151.2 458.3,151.2 457.2,151.2 456,150.3 454.9,150.3 453.8,149.4 452.6,149.4 451.5,149.4 450.4,148.5 449.2,148.5 448.1,148.5 446.9,148.5 445.8,149.4 444.7,148.5 443.5,148.5 442.4,148.5 441.3,148.5 440.1,148.5 439,148.5 437.8,148.5 436.7,148.5 435.6,148.5 434.4,149.4 433.3,150.3 432.2,150.3 431,150.3 429.9,150.3 428.7,149.4 427.6,149.4 426.5,149.4 425.3,149.4 424.2,150.3 423.1,150.3 421.9,150.3 420.8,150.3 419.7,151.2 418.5,151.2 417.4,152.1 416.2,152.1 415.1,152.1 414,152.1 412.8,152.1 411.7,152.1 410.6,153.1 409.4,153.1 408.3,154 407.1,154 406,154 404.9,154 403.7,154 402.6,154 401.5,154 400.3,154.9 399.2,155.8 398,155.8 396.9,155.8 395.8,155.8 394.6,155.8 393.5,155.8 392.4,156.7 391.2,157.6 390.1,157.6 389,157.6 387.8,157.6 386.7,158.5 385.5,159.4 384.4,159.4 383.3,159.4 382.1,160.3 381,160.3 379.9,160.3 378.7,160.3 377.6,161.2 376.4,162.1 375.3,162.1 374.2,162.1 373,162.1 371.9,163.1 370.8,164 369.6,164 368.5,164 367.4,164 366.2,164 365.1,164 363.9,164.9 362.8,164.9 361.7,164.9 360.5,165.8 359.4,166.7 358.3,166.7 357.1,165.8 356,165.8 354.8,165.8 353.7,166.7 352.6,166.7 351.4,167.6 350.3,167.6 349.2,167.6 348,167.6 346.9,167.6 345.7,167.6 344.6,167.6 343.5,167.6 342.3,167.6 341.2,167.6 340.1,167.6 338.9,167.6 337.8,167.6 336.7,167.6 335.5,167.6 334.4,167.6 333.2,167.6 332.1,167.6 331,167.6 329.8,167.6 328.7,167.6 327.6,167.6 326.4,167.6 325.3,167.6 324.1,167.6 323,167.6 321.9,167.6 320.7,167.6 319.6,167.6 318.5,167.6 317.3,167.6 316.2,167.6 315,167.6 313.9,167.6 312.8,167.6 311.6,167.6 310.5,167.6" fill="#d2c3e1" fill-opacity="0.3"/><polygon points="310.5,167.6 311.6,167.6 312.8,167.6 313.9,167.6 315,167.6 316.2,167.6 317.3,167.6 318.5,167.6 319.6,167.6 320.7,167.6 321.9,167.6 323,166.7 324.1,166.7 325.3,166.2 326.4,166.2 327.6,166.2 328.7,166.2 329.8,165.8 331,165.8 332.1,165.8 333.2,165.3 334.4,165.3 335.5,165.3 336.7,164.9 337.8,164.9 338.9,164.9 340.1,164.4 341.2,164.4 342.3,164.4 343.5,164 344.6,164 345.7,163.5 346.9,163.5 348,163.1 349.2,162.6 350.3,162.6 351.4,162.1 352.6,161.7 353.7,161.2 354.8,160.8 356,160.3 357.1,160.3 358.3,160.3 359.4,160.3 360.5,159.9 361.7,159 362.8,158.5 363.9,158.1 365.1,157.6 366.2,157.1 367.4,157.1 368.5,156.7 369.6,156.7 370.8,155.8 371.9,155.3 373,154.4 374.2,154 375.3,154 376.4,153.5 377.6,152.6 378.7,152.1 379.9,151.7 381,151.2 382.1,150.8 383.3,150.3 384.4,149.9 385.5,149.4 386.7,148.5 387.8,148.1 389,147.6 390.1,147.6 391.2,147.1 392.4,146.2 393.5,145.8 394.6,145.3 395.8,145.3 396.9,144.9 398,144.4 399.2,144.4 400.3,144 401.5,143.5 402.6,143 403.7,143 404.9,142.6 406,142.6 407.1,142.1 408.3,142.1 409.4,141.7 410.6,141.2 411.7,140.8 412.8,140.3 414,140.3 415.1,139.9 416.2,139.9 417.4,139.9 418.5,139.4 419.7,139 420.8,138.5 421.9,138.5 423.1,138.5 424.2,138 425.3,137.6 426.5,137.6 427.6,137.1 428.7,137.1 429.9,137.1 431,137.1 432.2,137.1 433.3,137.1 434.4,136.7 435.6,136.2 436.7,135.8 437.8,135.8 439,135.8 440.1,135.8 441.3,135.8 442.4,135.8 443.5,135.8 444.7,135.8 445.8,135.8 446.9,135.8 448.1,135.8 449.2,135.8 450.4,135.8 451.5,136.2 452.6,136.7 453.8,136.7 454.9,137.1 456,137.6 457.2,138 458.3,138 459.4,138.5 460.6,138.5 461.7,138.5 462.9,139 464,139 465.1,139 466.3,139 467.4,139.9 468.5,139.9 469.7,140.3 470.8,140.3 472,140.8 473.1,140.8 474.2,140.8 475.4,141.2 476.5,141.7 477.6,141.7 478.8,141.7 479.9,142.1 481.1,142.6 482.2,142.6 483.3,143 484.5,143.5 485.6,143.5 486.7,143.5 487.9,144.4 489,144.4 490.1,144.4 491.3,144.4 492.4,144.9 493.6,144.9 494.7,144.9 495.8,145.3 497,145.3 498.1,145.3 499.2,145.8 500.4,145.8 501.5,146.2 502.7,146.2 503.8,146.7 504.9,147.1 506.1,147.1 507.2,147.6 508.3,148.1 509.5,148.1 510.6,148.1 511.7,148.1 512.9,148.1 514,148.5 515.2,149 516.3,149.4 517.4,149.4 518.6,149.9 519.7,150.3 520.8,149.9 522,149.9 523.1,150.3 524.3,150.8 525.4,150.8 526.5,150.8 527.7,151.2 528.8,151.7 529.9,151.7 531.1,152.1 532.2,152.1 533.4,152.1 534.5,152.6 535.6,153.1 536.8,153.5 537.9,153.5 539,154 540.2,154 541.3,154.4 542.4,154.4 543.6,154.4 544.7,154.9 544.7,160.3 543.6,160.3 542.4,160.3 541.3,159.9 540.2,159.9 539,159.9 537.9,159.9 536.8,159.4 535.6,159 534.5,158.5 533.4,158.5 532.2,158.5 531.1,158.1 529.9,158.1 528.8,157.6 527.7,157.6 526.5,157.1 525.4,157.1 524.3,156.7 523.1,156.7 522,156.7 520.8,156.2 519.7,156.2 518.6,155.8 517.4,156.2 516.3,156.2 515.2,155.8 514,155.3 512.9,155.3 511.7,155.3 510.6,154.9 509.5,154.4 508.3,154.4 507.2,154 506.1,153.5 504.9,153.5 503.8,153.5 502.7,153.1 501.5,153.1 500.4,153.1 499.2,153.1 498.1,152.6 497,152.6 495.8,152.1 494.7,152.1 493.6,152.1 492.4,151.7 491.3,151.7 490.1,151.2 489,151.2 487.9,151.2 486.7,150.8 485.6,150.8 484.5,150.3 483.3,149.9 482.2,149.9 481.1,149.4 479.9,149.4 478.8,149.4 477.6,149.4 476.5,149 475.4,149 474.2,149 473.1,148.5 472,148.1 470.8,147.6 469.7,147.6 468.5,147.1 467.4,147.1 466.3,146.7 465.1,146.7 464,146.7 462.9,146.2 461.7,145.8 460.6,145.8 459.4,145.8 458.3,145.8 457.2,145.3 456,145.3 454.9,144.9 453.8,144.4 452.6,144 451.5,144 450.4,144 449.2,144 448.1,143.5 446.9,143 445.8,143.5 444.7,143 443.5,143 442.4,143 441.3,143 440.1,143.5 439,143.5 437.8,143.5 436.7,143.5 435.6,143.5 434.4,144 433.3,144 432.2,144 431,144.4 429.9,144.4 428.7,144.9 427.6,144.9 426.5,145.3 425.3,145.3 424.2,145.8 423.1,145.8 421.9,145.8 420.8,145.8 419.7,146.2 418.5,146.7 417.4,146.7 416.2,146.7 415.1,147.1 414,147.1 412.8,147.6 411.7,148.1 410.6,148.1 409.4,148.5 408.3,149 407.1,149 406,149 404.9,149.4 403.7,149.4 402.6,149.9 401.5,149.9 400.3,150.3 399.2,150.8 398,151.2 396.9,151.2 395.8,151.2 394.6,151.7 393.5,152.1 392.4,152.6 391.2,153.1 390.1,153.5 389,154 387.8,154.4 386.7,154.4 385.5,154.9 384.4,155.3 383.3,156.2 382.1,156.2 381,156.7 379.9,156.7 378.7,157.1 377.6,157.6 376.4,157.6 375.3,158.5 374.2,158.5 373,159 371.9,159.4 370.8,160.3 369.6,160.3 368.5,160.8 367.4,161.2 366.2,161.7 365.1,162.1 363.9,162.6 362.8,162.6 361.7,162.6 360.5,163.1 359.4,163.5 358.3,163.5 357.1,164 356,164 354.8,164 353.7,164.4 352.6,164.9 351.4,164.9 350.3,165.3 349.2,165.3 348,165.8 346.9,165.8 345.7,166.2 344.6,166.2 343.5,166.2 342.3,166.2 341.2,166.7 340.1,166.7 338.9,166.7 337.8,166.7 336.7,167.1 335.5,167.1 334.4,167.1 333.2,167.1 332.1,167.1 331,167.1 329.8,167.1 328.7,167.1 327.6,167.1 326.4,167.6 325.3,167.6 324.1,167.6 323,167.6 321.9,167.6 320.7,167.6 319.6,167.6 318.5,167.6 317.3,167.6 316.2,167.6 315,167.6 313.9,167.6 312.8,167.6 311.6,167.6 310.5,167.6" fill="#d2c3e1" fill-opacity="0.3"/><polyline points="310.5,167.6 311.6,167.6 312.8,167.6 313.9,167.6 315,167.6 316.2,167.6 317.3,167.6 318.5,167.6 319.6,167.6 320.7,167.6 321.9,167.6 323,166.7 324.1,166.7 325.3,166.7 326.4,166.7 327.6,166.7 328.7,166.7 329.8,166.7 331,165.8 332.1,164.9 333.2,164 334.4,163.1 335.5,161.2 336.7,160.3 337.8,159.4 338.9,157.6 340.1,156.7 341.2,154.9 342.3,154 343.5,152.1 344.6,151.2 345.7,150.3 346.9,149.4 348,148.5 349.2,146.7 350.3,145.8 351.4,144.9 352.6,144 353.7,142.1 354.8,141.2 356,140.3 357.1,138.5 358.3,137.6 359.4,136.7 360.5,135.8 361.7,134.9 362.8,134 363.9,133 365.1,132.1 366.2,131.2 367.4,130.3 368.5,130.3 369.6,129.4 370.8,129.4 371.9,128.5 373,128.5 374.2,128.5 375.3,127.6 376.4,127.6 377.6,127.6 378.7,127.6 379.9,127.6 381,127.6 382.1,127.6 383.3,127.6 384.4,127.6 385.5,128.5 386.7,128.5 387.8,128.5 389,129.4 390.1,129.4 391.2,129.4 392.4,130.3 393.5,130.3 394.6,130.3 395.8,131.2 396.9,131.2 398,131.2 399.2,131.2 400.3,132.1 401.5,132.1 402.6,132.1 403.7,132.1 404.9,133 406,133 407.1,133 408.3,133 409.4,133 410.6,134 411.7,134 412.8,134 414,134 415.1,134 416.2,134.9 417.4,134.9 418.5,134.9 419.7,134.9 420.8,134.9 421.9,135.8 423.1,135.8 424.2,135.8 425.3,135.8 426.5,135.8 427.6,136.7 428.7,136.7 429.9,136.7 431,136.7 432.2,136.7 433.3,137.6 434.4,137.6 435.6,137.6 436.7,137.6 437.8,137.6 439,138.5 440.1,138.5 441.3,138.5 442.4,138.5 443.5,139.4 444.7,139.4 445.8,139.4 446.9,139.4 448.1,139.4 449.2,140.3 450.4,140.3 451.5,140.3 452.6,140.3 453.8,141.2 454.9,141.2 456,141.2 457.2,141.2 458.3,141.2 459.4,142.1 460.6,142.1 461.7,142.1 462.9,142.1 464,143 465.1,143 466.3,143 467.4,143 468.5,144 469.7,144 470.8,144 472,144 473.1,144.9 474.2,144.9 475.4,144.9 476.5,144.9 477.6,145.8 478.8,145.8 479.9,145.8 481.1,145.8 482.2,146.7 483.3,146.7 484.5,146.7 485.6,146.7 486.7,147.6 487.9,147.6 489,147.6 490.1,147.6 491.3,148.5 492.4,148.5 493.6,148.5 494.7,148.5 495.8,148.5 497,149.4 498.1,149.4 499.2,149.4 500.4,149.4 501.5,149.4 502.7,150.3 503.8,150.3 504.9,150.3 506.1,150.3 507.2,150.3 508.3,151.2 509.5,151.2 510.6,151.2 511.7,151.2 512.9,152.1 514,152.1 515.2,152.1 516.3,152.1 517.4,153.1 518.6,153.1 519.7,153.1 520.8,153.1 522,153.1 523.1,154 524.3,154 525.4,154 526.5,154 527.7,154.9 528.8,154.9 529.9,154.9 531.1,154.9 532.2,155.8 533.4,155.8 534.5,155.8 535.6,155.8 536.8,155.8 537.9,156.7 539,156.7 540.2,156.7 541.3,156.7 542.4,157.6 543.6,157.6 544.7,157.6" fill="none" stroke="#000000" stroke-width="1.3" stroke-linejoin="round"/><polyline points="310.5,167.6 311.6,167.6 312.8,167.6 313.9,167.6 315,167.6 316.2,167.6 317.3,167.6 318.5,167.6 319.6,167.6 320.7,167.6 321.9,167.6 323,167.6 324.1,167.6 325.3,167.6 326.4,167.6 327.6,167.6 328.7,167.6 329.8,167.4 331,166.7 332.1,165.8 333.2,164.9 334.4,164 335.5,163.1 336.7,161.2 337.8,160.3 338.9,159.4 340.1,158.5 341.2,156.7 342.3,155.8 343.5,154.9 344.6,153.1 345.7,152.1 346.9,151.2 348,150.3 349.2,149.4 350.3,148.5 351.4,146.7 352.6,145.8 353.7,145.8 354.8,144.9 356,144 357.1,144 358.3,143 359.4,142.1 360.5,142.1 361.7,141.2 362.8,141.2 363.9,140.3 365.1,140.3 366.2,140.3 367.4,139.4 368.5,139.4 369.6,139.4 370.8,139.4 371.9,139.4 373,139.4 374.2,139.4 375.3,139.4 376.4,139.4 377.6,140.3 378.7,140.3 379.9,140.3 381,141.2 382.1,141.2 383.3,142.1 384.4,143 385.5,143 386.7,144 387.8,144.9 389,145.8 390.1,146.7 391.2,146.7 392.4,147.6 393.5,148.5 394.6,149.4 395.8,150.3 396.9,150.3 398,151.2 399.2,151.2 400.3,152.1 401.5,153.1 402.6,154 403.7,154 404.9,154.9 406,155.8 407.1,156.7 408.3,156.7 409.4,157.6 410.6,157.6 411.7,158.5 412.8,158.5 414,158.5 415.1,159.4 416.2,159.4 417.4,160.3 418.5,160.3 419.7,160.3 420.8,161.2 421.9,161.2 423.1,162.1 424.2,162.1 425.3,162.1 426.5,163.1 427.6,163.1 428.7,163.1 429.9,163.1 431,164 432.2,164 433.3,164 434.4,164 435.6,164 436.7,164 437.8,164.9 439,164.9 440.1,164.9 441.3,164.9 442.4,164.9 443.5,164.9 444.7,164.9 445.8,165.8 446.9,165.8 448.1,165.8 449.2,165.8 450.4,165.8 451.5,165.8 452.6,165.8 453.8,165.8 454.9,165.8 456,165.8 457.2,166.7 458.3,166.7 459.4,166.7 460.6,166.7 461.7,166.7 462.9,166.7 464,166.7 465.1,166.7 466.3,167.6 467.4,167.6 468.5,167.4 469.7,167.4 470.8,167.4 472,167.4 473.1,167.4 474.2,167.4 475.4,167.4 476.5,167.5 477.6,167.5 478.8,167.5 479.9,167.5 481.1,167.5 482.2,167.5 483.3,167.5 484.5,167.5 485.6,167.5 486.7,167.5 487.9,167.5 489,167.5 490.1,167.5 491.3,167.5 492.4,167.5 493.6,167.5 494.7,167.5 495.8,167.5 497,167.5 498.1,167.5 499.2,167.5 500.4,167.5 501.5,167.6 502.7,167.6 503.8,167.6 504.9,167.6 506.1,167.6 507.2,167.6 508.3,167.6 509.5,167.6 510.6,167.6 511.7,167.6 512.9,167.6 514,167.6 515.2,167.6 516.3,167.6 517.4,167.6 518.6,167.6 519.7,167.6 520.8,167.6 522,167.6 523.1,167.6 524.3,167.6 525.4,167.6 526.5,167.6 527.7,167.6 528.8,167.6 529.9,167.6 531.1,167.6 532.2,167.6 533.4,167.6 534.5,167.6 535.6,167.6 536.8,167.6 537.9,167.6 539,167.6 540.2,167.6 541.3,167.6 542.4,167.6 543.6,167.6 544.7,167.6" fill="none" stroke="#254a29" stroke-width="1.3" stroke-linejoin="round"/><polyline points="310.5,167.6 311.6,167.6 312.8,167.6 313.9,167.6 315,167.6 316.2,167.6 317.3,167.6 318.5,167.6 319.6,167.6 320.7,167.6 321.9,167.6 323,166.7 324.1,166.7 325.3,166.7 326.4,166.7 327.6,166.7 328.7,166.7 329.8,166.7 331,166.7 332.1,166.7 333.2,166.7 334.4,165.8 335.5,165.8 336.7,165.8 337.8,165.8 338.9,165.8 340.1,165.8 341.2,165.8 342.3,165.8 343.5,164.9 344.6,164.9 345.7,164.9 346.9,164.9 348,164 349.2,164 350.3,164 351.4,163.1 352.6,163.1 353.7,163.1 354.8,163.1 356,162.1 357.1,162.1 358.3,162.1 359.4,161.2 360.5,161.2 361.7,161.2 362.8,160.3 363.9,160.3 365.1,160.3 366.2,159.4 367.4,159.4 368.5,158.5 369.6,158.5 370.8,158.5 371.9,157.6 373,156.7 374.2,156.7 375.3,155.8 376.4,155.8 377.6,154.9 378.7,154.9 379.9,154 381,154 382.1,153.1 383.3,153.1 384.4,152.1 385.5,152.1 386.7,151.2 387.8,151.2 389,150.3 390.1,150.3 391.2,150.3 392.4,149.4 393.5,149.4 394.6,148.5 395.8,148.5 396.9,148.5 398,147.6 399.2,147.6 400.3,146.7 401.5,146.7 402.6,146.7 403.7,146.7 404.9,145.8 406,145.8 407.1,145.8 408.3,144.9 409.4,144.9 410.6,144.9 411.7,144 412.8,144 414,144 415.1,144 416.2,143 417.4,143 418.5,143 419.7,143 420.8,142.1 421.9,142.1 423.1,142.1 424.2,142.1 425.3,141.2 426.5,141.2 427.6,141.2 428.7,141.2 429.9,141.2 431,140.3 432.2,140.3 433.3,140.3 434.4,140.3 435.6,140.3 436.7,140.3 437.8,139.4 439,139.4 440.1,139.4 441.3,139.4 442.4,139.4 443.5,139.4 444.7,139.4 445.8,139.4 446.9,139.4 448.1,139.4 449.2,139.4 450.4,140.3 451.5,140.3 452.6,140.3 453.8,140.3 454.9,141.2 456,141.2 457.2,141.2 458.3,141.2 459.4,142.1 460.6,142.1 461.7,142.1 462.9,142.1 464,143 465.1,143 466.3,143 467.4,143 468.5,144 469.7,144 470.8,144 472,144 473.1,144.9 474.2,144.9 475.4,144.9 476.5,144.9 477.6,145.8 478.8,145.8 479.9,145.8 481.1,145.8 482.2,146.7 483.3,146.7 484.5,146.7 485.6,146.7 486.7,147.6 487.9,147.6 489,147.6 490.1,147.6 491.3,148.5 492.4,148.5 493.6,148.5 494.7,148.5 495.8,148.5 497,149.4 498.1,149.4 499.2,149.4 500.4,149.4 501.5,149.4 502.7,150.3 503.8,150.3 504.9,150.3 506.1,150.3 507.2,150.3 508.3,151.2 509.5,151.2 510.6,151.2 511.7,151.2 512.9,152.1 514,152.1 515.2,152.1 516.3,152.1 517.4,153.1 518.6,153.1 519.7,153.1 520.8,153.1 522,153.1 523.1,154 524.3,154 525.4,154 526.5,154 527.7,154.9 528.8,154.9 529.9,154.9 531.1,154.9 532.2,155.8 533.4,155.8 534.5,155.8 535.6,155.8 536.8,155.8 537.9,156.7 539,156.7 540.2,156.7 541.3,156.7 542.4,157.6 543.6,157.6 544.7,157.6" fill="none" stroke="#484052" stroke-width="1.3" stroke-linejoin="round"/><use href="#dots" transform="translate(259.1,0)"/></g>
<g clip-path="url(#c11)"><polygon points="311.6,331 312.8,331 313.9,331 315,331 316.2,331 317.3,331 318.5,331 319.6,331 320.7,331 321.9,331 323,331 324.1,328.3 325.3,328.3 326.4,328.3 327.6,328.3 328.7,328.3 329.8,328.3 331,328.3 332.1,328.3 333.2,328.3 334.4,320.1 335.5,316.5 336.7,313.7 337.8,311 338.9,308.3 340.1,306.4 341.2,303.7 342.3,301.9 343.5,299.2 344.6,296.4 345.7,293.7 346.9,291 348,288.3 349.2,286.4 350.3,282.8 351.4,280.1 352.6,277.4 353.7,275.5 354.8,272.8 356,270.1 357.1,268.3 358.3,265.5 359.4,261.9 360.5,259.2 361.7,256.4 362.8,254.6 363.9,251.9 365.1,250.1 366.2,247.3 367.4,244.6 368.5,242.8 369.6,241 370.8,239.2 371.9,237.3 373,236.4 374.2,235.5 375.3,234.6 376.4,234.6 377.6,234.6 378.7,234.6 379.9,233.7 381,233.7 382.1,233.7 383.3,233.7 384.4,232.8 385.5,232.8 386.7,233.7 387.8,235.5 389,236.4 390.1,236.4 391.2,236.4 392.4,236.4 393.5,236.4 394.6,237.3 395.8,238.3 396.9,239.2 398,239.2 399.2,240.1 400.3,241 401.5,241 402.6,241.9 403.7,242.8 404.9,242.8 406,241.9 407.1,242.8 408.3,243.7 409.4,244.6 410.6,245.5 411.7,245.5 412.8,246.4 414,245.5 415.1,246.4 416.2,247.3 417.4,247.3 418.5,248.3 419.7,248.3 420.8,249.2 421.9,250.1 423.1,250.1 424.2,249.2 425.3,249.2 426.5,250.1 427.6,251.9 428.7,251.9 429.9,252.8 431,252.8 432.2,251.9 433.3,252.8 434.4,253.7 435.6,253.7 436.7,253.7 437.8,254.6 439,254.6 440.1,255.5 441.3,255.5 442.4,256.4 443.5,257.3 444.7,257.3 445.8,257.3 446.9,257.3 448.1,258.3 449.2,258.3 450.4,257.3 451.5,258.3 452.6,259.2 453.8,259.2 454.9,260.1 456,261 457.2,261 458.3,261.9 459.4,261.9 460.6,261.9 461.7,261.9 462.9,262.8 464,263.7 465.1,264.6 466.3,264.6 467.4,264.6 468.5,265.5 469.7,266.4 470.8,266.4 472,266.4 473.1,267.3 474.2,268.3 475.4,268.3 476.5,268.3 477.6,269.2 478.8,270.1 479.9,271 481.1,271.9 482.2,271.9 483.3,272.8 484.5,272.8 485.6,273.7 486.7,274.6 487.9,274.6 489,274.6 490.1,275.5 491.3,276.4 492.4,276.4 493.6,278.3 494.7,280.1 495.8,281 497,281 498.1,280.1 499.2,281 500.4,281.9 501.5,282.8 502.7,282.8 503.8,283.7 504.9,283.7 506.1,284.6 507.2,284.6 508.3,285.5 509.5,286.4 510.6,286.4 511.7,287.4 512.9,287.4 514,287.4 515.2,288.3 516.3,289.2 517.4,289.2 518.6,291 519.7,291.9 520.8,292.8 522,291.9 523.1,291.9 524.3,292.8 525.4,293.7 526.5,293.7 527.7,293.7 528.8,294.6 529.9,296.4 531.1,296.4 532.2,296.4 533.4,297.4 534.5,299.2 535.6,299.2 536.8,299.2 537.9,298.3 539,298.3 540.2,300.1 541.3,300.1 542.4,300.1 543.6,300.1 544.7,301 544.7,321 543.6,320.1 542.4,320.1 541.3,320.1 540.2,320.1 539,319.2 537.9,319.2 536.8,318.3 535.6,318.3 534.5,318.3 533.4,318.3 532.2,317.4 531.1,318.3 529.9,318.3 528.8,317.4 527.7,316.5 526.5,316.5 525.4,316.5 524.3,316.5 523.1,316.5 522,315.5 520.8,315.5 519.7,314.6 518.6,313.7 517.4,313.7 516.3,313.7 515.2,313.7 514,312.8 512.9,311.9 511.7,311.9 510.6,311.9 509.5,311.9 508.3,311 507.2,310.1 506.1,310.1 504.9,310.1 503.8,310.1 502.7,309.2 501.5,309.2 500.4,308.3 499.2,307.4 498.1,307.4 497,307.4 495.8,307.4 494.7,305.5 493.6,305.5 492.4,304.6 491.3,304.6 490.1,304.6 489,303.7 487.9,302.8 486.7,302.8 485.6,302.8 484.5,302.8 483.3,301.9 482.2,301 481.1,301 479.9,300.1 478.8,300.1 477.6,299.2 476.5,299.2 475.4,299.2 474.2,298.3 473.1,297.4 472,297.4 470.8,296.4 469.7,296.4 468.5,295.5 467.4,295.5 466.3,295.5 465.1,295.5 464,294.6 462.9,293.7 461.7,293.7 460.6,293.7 459.4,292.8 458.3,291.9 457.2,291.9 456,292.8 454.9,291.9 453.8,291.9 452.6,291 451.5,291 450.4,290.1 449.2,289.2 448.1,289.2 446.9,290.1 445.8,289.2 444.7,288.3 443.5,287.4 442.4,287.4 441.3,287.4 440.1,287.4 439,287.4 437.8,286.4 436.7,286.4 435.6,286.4 434.4,285.5 433.3,284.6 432.2,284.6 431,283.7 429.9,283.7 428.7,283.7 427.6,282.8 426.5,282.8 425.3,282.8 424.2,282.8 423.1,281.9 421.9,281 420.8,281 419.7,281 418.5,281 417.4,280.1 416.2,280.1 415.1,279.2 414,278.3 412.8,277.4 411.7,277.4 410.6,276.4 409.4,276.4 408.3,275.5 407.1,275.5 406,274.6 404.9,275.5 403.7,274.6 402.6,273.7 401.5,273.7 400.3,272.8 399.2,272.8 398,272.8 396.9,271.9 395.8,271 394.6,271 393.5,270.1 392.4,269.2 391.2,269.2 390.1,268.3 389,267.3 387.8,267.3 386.7,267.3 385.5,267.3 384.4,266.4 383.3,266.4 382.1,266.4 381,266.4 379.9,266.4 378.7,266.4 377.6,266.4 376.4,267.3 375.3,268.3 374.2,269.2 373,269.2 371.9,270.1 370.8,271 369.6,272.8 368.5,274.6 367.4,277.4 366.2,278.3 365.1,280.1 363.9,281.9 362.8,282.8 361.7,285.5 360.5,287.4 359.4,289.2 358.3,291 357.1,292.8 356,294.6 354.8,297.4 353.7,299.2 352.6,301 351.4,302.8 350.3,305.5 349.2,307.4 348,309.2 346.9,311 345.7,312.8 344.6,314.6 343.5,316.5 342.3,318.3 341.2,320.1 340.1,321 338.9,322.8 337.8,324.6 336.7,326.5 335.5,328.3 334.4,330.1 333.2,331 332.1,331 331,331 329.8,331 328.7,331 327.6,331 326.4,331 325.3,331 324.1,331 323,331 321.9,331 320.7,331 319.6,331 318.5,331 317.3,331 316.2,331 315,331 313.9,331 312.8,331 311.6,331" fill="#6e6e6e" fill-opacity="0.3"/><polygon points="311.6,331 312.8,331 313.9,331 315,331 316.2,331 317.3,331 318.5,331 319.6,331 320.7,331 321.9,331 323,331 324.1,329.2 325.3,329.6 326.4,329.2 327.6,329.2 328.7,329.2 329.8,329.2 331,329.2 332.1,329.2 333.2,329.6 334.4,324.2 335.5,321 336.7,318.7 337.8,316 338.9,313.3 340.1,311.5 341.2,309.6 342.3,307.4 343.5,305.1 344.6,302.8 345.7,300.1 346.9,297.8 348,295.5 349.2,293.3 350.3,290.5 351.4,288.3 352.6,285.5 353.7,283.3 354.8,281 356,278.3 357.1,276 358.3,273.7 359.4,271.4 360.5,268.7 361.7,266.4 362.8,264.2 363.9,262.3 365.1,260.5 366.2,258.3 367.4,256.4 368.5,254.2 369.6,251.9 370.8,250.1 371.9,248.7 373,247.8 374.2,247.3 375.3,246.9 376.4,245.5 377.6,245.1 378.7,245.1 379.9,244.6 381,244.6 382.1,244.6 383.3,244.6 384.4,244.6 385.5,245.1 386.7,245.5 387.8,245.5 389,246 390.1,246.4 391.2,246.9 392.4,247.3 393.5,247.8 394.6,248.7 395.8,249.2 396.9,249.6 398,250.5 399.2,251 400.3,251.4 401.5,251.9 402.6,252.3 403.7,252.8 404.9,253.3 406,253.3 407.1,253.7 408.3,254.2 409.4,254.6 410.6,255.1 411.7,255.5 412.8,256 414,256.9 415.1,257.3 416.2,258.3 417.4,258.7 418.5,258.7 419.7,259.2 420.8,259.2 421.9,259.6 423.1,260.1 424.2,260.5 425.3,261 426.5,261 427.6,261.4 428.7,261.9 429.9,262.3 431,262.3 432.2,262.8 433.3,263.3 434.4,263.7 435.6,264.2 436.7,264.6 437.8,265.1 439,265.5 440.1,266 441.3,266 442.4,266 443.5,266.4 444.7,266.9 445.8,267.3 446.9,267.8 448.1,267.8 449.2,267.8 450.4,268.3 451.5,269.2 452.6,269.2 453.8,269.6 454.9,270.5 456,270.5 457.2,270.5 458.3,271 459.4,271.4 460.6,271.9 461.7,272.4 462.9,272.8 464,273.3 465.1,273.7 466.3,274.2 467.4,274.6 468.5,274.6 469.7,275.5 470.8,276 472,276.4 473.1,276.9 474.2,277.4 475.4,278.3 476.5,278.7 477.6,278.7 478.8,279.2 479.9,280.1 481.1,280.5 482.2,281 483.3,281.4 484.5,282.4 485.6,282.8 486.7,282.8 487.9,283.3 489,284.2 490.1,284.6 491.3,285.1 492.4,285.5 493.6,286 494.7,286.9 495.8,287.8 497,288.3 498.1,288.7 499.2,288.7 500.4,289.6 501.5,290.5 502.7,291 503.8,291.4 504.9,291.9 506.1,292.4 507.2,292.8 508.3,293.7 509.5,294.2 510.6,294.6 511.7,294.6 512.9,295.1 514,296 515.2,296.9 516.3,296.9 517.4,297.4 518.6,297.8 519.7,298.3 520.8,299.2 522,299.6 523.1,300.1 524.3,300.5 525.4,301 526.5,301 527.7,301.4 528.8,301.9 529.9,302.4 531.1,302.8 532.2,302.8 533.4,303.3 534.5,303.7 535.6,303.7 536.8,304.2 537.9,304.6 539,305.1 540.2,305.5 541.3,306 542.4,306 543.6,306.4 544.7,306.4 544.7,314.6 543.6,314.2 542.4,314.2 541.3,314.2 540.2,313.7 539,313.3 537.9,313.3 536.8,313.3 535.6,313.3 534.5,312.8 533.4,312.4 532.2,311.5 531.1,311.5 529.9,311.5 528.8,310.5 527.7,310.1 526.5,310.1 525.4,309.6 524.3,309.2 523.1,308.7 522,308.7 520.8,308.7 519.7,308.3 518.6,307.4 517.4,306.9 516.3,306.4 515.2,306 514,305.5 512.9,305.1 511.7,304.6 510.6,304.6 509.5,304.2 508.3,303.7 507.2,303.3 506.1,302.4 504.9,301.9 503.8,301.9 502.7,301.4 501.5,301 500.4,300.5 499.2,299.6 498.1,299.2 497,299.2 495.8,299.2 494.7,298.3 493.6,297.4 492.4,296.9 491.3,296.4 490.1,296 489,295.1 487.9,295.1 486.7,294.6 485.6,294.2 484.5,293.7 483.3,293.3 482.2,292.8 481.1,292.4 479.9,291.9 478.8,291.4 477.6,290.5 476.5,290.1 475.4,289.6 474.2,289.2 473.1,288.7 472,288.3 470.8,287.8 469.7,287.8 468.5,287.4 467.4,286.9 466.3,286.4 465.1,286 464,285.5 462.9,285.1 461.7,284.2 460.6,284.2 459.4,284.2 458.3,283.7 457.2,283.3 456,282.8 454.9,282.4 453.8,281.9 452.6,281.4 451.5,281 450.4,280.5 449.2,280.5 448.1,280.5 446.9,280.1 445.8,279.6 444.7,279.6 443.5,279.2 442.4,278.7 441.3,278.3 440.1,277.8 439,277.8 437.8,277.4 436.7,276.9 435.6,276.9 434.4,276.4 433.3,276 432.2,275.5 431,275.1 429.9,275.1 428.7,274.6 427.6,274.2 426.5,273.7 425.3,273.3 424.2,272.8 423.1,272.8 421.9,272.4 420.8,271.9 419.7,271.4 418.5,271 417.4,271 416.2,270.5 415.1,270.1 414,269.6 412.8,269.2 411.7,268.7 410.6,268.3 409.4,267.8 408.3,266.9 407.1,266.4 406,266 404.9,266 403.7,265.5 402.6,265.1 401.5,264.6 400.3,264.2 399.2,263.7 398,263.3 396.9,262.3 395.8,261.9 394.6,261.4 393.5,260.5 392.4,260.1 391.2,260.1 390.1,259.6 389,259.2 387.8,258.7 386.7,258.3 385.5,257.3 384.4,257.3 383.3,257.3 382.1,257.3 381,257.3 379.9,257.3 378.7,257.8 377.6,258.3 376.4,258.3 375.3,259.2 374.2,259.6 373,260.1 371.9,261.4 370.8,262.3 369.6,264.2 368.5,266 367.4,267.8 366.2,269.6 365.1,271.4 363.9,273.7 362.8,275.5 361.7,277.4 360.5,279.6 359.4,281.9 358.3,284.2 357.1,286.4 356,288.3 354.8,290.5 353.7,292.8 352.6,294.6 351.4,296.9 350.3,299.2 349.2,301.4 348,303.7 346.9,305.5 345.7,307.4 344.6,309.6 343.5,311.9 342.3,313.7 341.2,315.5 340.1,317.4 338.9,318.7 337.8,320.5 336.7,322.8 335.5,325.1 334.4,326.9 333.2,330.5 332.1,330.5 331,331 329.8,331 328.7,331 327.6,330.5 326.4,330.5 325.3,331 324.1,331 323,331 321.9,331 320.7,331 319.6,331 318.5,331 317.3,331 316.2,331 315,331 313.9,331 312.8,331 311.6,331" fill="#6e6e6e" fill-opacity="0.3"/><polygon points="311.6,331 312.8,331 313.9,331 315,331 316.2,331 317.3,331 318.5,331 319.6,331 320.7,331 321.9,331 323,331 324.1,331 325.3,331 326.4,331 327.6,331 328.7,331 329.8,331 331,331 332.1,331 333.2,331 334.4,324.6 335.5,321 336.7,317.4 337.8,314.6 338.9,311.9 340.1,309.2 341.2,307.4 342.3,304.6 343.5,301.9 344.6,299.2 345.7,296.4 346.9,294.6 348,292.8 349.2,290.1 350.3,287.4 351.4,284.6 352.6,281.9 353.7,280.1 354.8,277.4 356,275.5 357.1,272.8 358.3,271 359.4,269.2 360.5,268.3 361.7,266.4 362.8,265.5 363.9,263.7 365.1,261.9 366.2,261 367.4,261 368.5,261 369.6,260.1 370.8,259.2 371.9,259.2 373,259.2 374.2,259.2 375.3,260.1 376.4,260.1 377.6,261 378.7,260.1 379.9,261 381,261.9 382.1,261.9 383.3,263.7 384.4,264.6 385.5,265.5 386.7,267.3 387.8,269.2 389,270.1 390.1,271 391.2,271.9 392.4,274.6 393.5,276.4 394.6,277.4 395.8,279.2 396.9,279.2 398,281 399.2,282.8 400.3,284.6 401.5,286.4 402.6,287.4 403.7,289.2 404.9,291.9 406,293.7 407.1,294.6 408.3,295.5 409.4,297.4 410.6,297.4 411.7,298.3 412.8,299.2 414,301 415.1,302.8 416.2,303.7 417.4,303.7 418.5,304.6 419.7,305.5 420.8,306.4 421.9,307.4 423.1,308.3 424.2,308.3 425.3,309.2 426.5,310.1 427.6,311 428.7,311 429.9,311.9 431,312.8 432.2,313.7 433.3,314.6 434.4,315.5 435.6,316.5 436.7,316.5 437.8,317.4 439,318.3 440.1,318.3 441.3,319.2 442.4,319.2 443.5,319.2 444.7,320.1 445.8,321 446.9,321 448.1,321.9 449.2,321.9 450.4,321.9 451.5,322.8 452.6,323.7 453.8,323.7 454.9,323.7 456,324.6 457.2,324.6 458.3,324.6 459.4,324.6 460.6,325.5 461.7,325.5 462.9,326.5 464,326.5 465.1,326.5 466.3,326.5 467.4,326.5 468.5,327.4 469.7,327.4 470.8,327.4 472,327.4 473.1,327.4 474.2,327.4 475.4,328.3 476.5,328.3 477.6,328.3 478.8,328.3 479.9,328.3 481.1,328.3 482.2,329.2 483.3,329.2 484.5,329.2 485.6,329.2 486.7,329.2 487.9,329.2 489,329.2 490.1,330.7 491.3,330.7 492.4,330.8 493.6,330.8 494.7,330.8 495.8,330.8 497,330.8 498.1,330.8 499.2,330.8 500.4,330.8 501.5,330.8 502.7,330.8 503.8,330.8 504.9,330.9 506.1,330.9 507.2,330.9 508.3,330.9 509.5,330.9 510.6,330.9 511.7,330.9 512.9,330.9 514,330.9 515.2,330.9 516.3,330.9 517.4,330.9 518.6,330.9 519.7,330.9 520.8,330.9 522,331 523.1,331 524.3,331 525.4,331 526.5,331 527.7,331 528.8,331 529.9,331 531.1,331 532.2,331 533.4,331 534.5,331 535.6,331 536.8,331 537.9,331 539,331 540.2,331 541.3,331 542.4,331 543.6,331 544.7,331 544.7,331 543.6,331 542.4,331 541.3,331 540.2,331 539,331 537.9,331 536.8,331 535.6,331 534.5,331 533.4,331 532.2,331 531.1,331 529.9,331 528.8,331 527.7,331 526.5,331 525.4,331 524.3,331 523.1,331 522,331 520.8,330.9 519.7,330.9 518.6,330.9 517.4,330.9 516.3,330.9 515.2,330.9 514,330.9 512.9,330.9 511.7,330.9 510.6,330.9 509.5,330.9 508.3,330.9 507.2,330.9 506.1,330.9 504.9,330.9 503.8,330.8 502.7,330.8 501.5,330.8 500.4,330.8 499.2,330.8 498.1,330.8 497,330.8 495.8,330.8 494.7,330.8 493.6,330.8 492.4,330.8 491.3,330.7 490.1,330.7 489,331 487.9,331 486.7,331 485.6,331 484.5,331 483.3,331 482.2,331 481.1,331 479.9,331 478.8,331 477.6,331 476.5,331 475.4,331 474.2,331 473.1,331 472,331 470.8,331 469.7,331 468.5,331 467.4,331 466.3,331 465.1,331 464,331 462.9,331 461.7,331 460.6,331 459.4,331 458.3,331 457.2,331 456,331 454.9,331 453.8,331 452.6,331 451.5,331 450.4,331 449.2,331 448.1,330.1 446.9,330.1 445.8,330.1 444.7,330.1 443.5,329.2 442.4,329.2 441.3,329.2 440.1,329.2 439,328.3 437.8,328.3 436.7,327.4 435.6,327.4 434.4,327.4 433.3,327.4 432.2,327.4 431,327.4 429.9,326.5 428.7,325.5 427.6,324.6 426.5,324.6 425.3,324.6 424.2,323.7 423.1,322.8 421.9,322.8 420.8,322.8 419.7,321.9 418.5,321 417.4,319.2 416.2,319.2 415.1,318.3 414,318.3 412.8,317.4 411.7,316.5 410.6,315.5 409.4,314.6 408.3,313.7 407.1,313.7 406,312.8 404.9,311.9 403.7,311 402.6,309.2 401.5,308.3 400.3,307.4 399.2,305.5 398,304.6 396.9,302.8 395.8,301.9 394.6,301 393.5,300.1 392.4,299.2 391.2,297.4 390.1,296.4 389,295.5 387.8,294.6 386.7,293.7 385.5,292.8 384.4,291.9 383.3,291 382.1,290.1 381,289.2 379.9,288.3 378.7,288.3 377.6,287.4 376.4,287.4 375.3,287.4 374.2,287.4 373,287.4 371.9,287.4 370.8,286.4 369.6,287.4 368.5,287.4 367.4,288.3 366.2,288.3 365.1,289.2 363.9,290.1 362.8,291.9 361.7,292.8 360.5,293.7 359.4,294.6 358.3,296.4 357.1,298.3 356,299.2 354.8,301 353.7,302.8 352.6,304.6 351.4,306.4 350.3,308.3 349.2,310.1 348,311.9 346.9,313.7 345.7,314.6 344.6,316.5 343.5,318.3 342.3,319.2 341.2,321 340.1,322.8 338.9,324.6 337.8,326.5 336.7,328.3 335.5,330.1 334.4,331 333.2,331 332.1,331 331,331 329.8,331 328.7,331 327.6,331 326.4,331 325.3,331 324.1,331 323,331 321.9,331 320.7,331 319.6,331 318.5,331 317.3,331 316.2,331 315,331 313.9,331 312.8,331 311.6,331" fill="#aedfae" fill-opacity="0.3"/><polygon points="311.6,331 312.8,331 313.9,331 315,331 316.2,331 317.3,331 318.5,331 319.6,331 320.7,331 321.9,331 323,331 324.1,331 325.3,331 326.4,331 327.6,331 328.7,331 329.8,331 331,331 332.1,331 333.2,331 334.4,327.4 335.5,324.2 336.7,321 337.8,318.7 338.9,316 340.1,313.7 341.2,311.9 342.3,309.6 343.5,307.4 344.6,305.1 345.7,302.8 346.9,301 348,298.7 349.2,296.9 350.3,294.6 351.4,292.4 352.6,289.6 353.7,287.8 354.8,285.5 356,283.3 357.1,281.9 358.3,280.1 359.4,278.3 360.5,276.9 361.7,275.5 362.8,274.2 363.9,272.8 365.1,271.9 366.2,271 367.4,270.1 368.5,269.6 369.6,269.2 370.8,268.7 371.9,268.7 373,268.7 374.2,269.2 375.3,269.2 376.4,269.2 377.6,269.6 378.7,270.1 379.9,270.1 381,271 382.1,271.9 383.3,273.3 384.4,274.2 385.5,275.5 386.7,276.4 387.8,277.8 389,278.7 390.1,280.1 391.2,281.4 392.4,283.3 393.5,284.2 394.6,285.5 395.8,286.9 396.9,288.3 398,289.2 399.2,291 400.3,292.8 401.5,294.6 402.6,296 403.7,297.4 404.9,298.7 406,300.1 407.1,301 408.3,301.9 409.4,303.3 410.6,304.2 411.7,305.1 412.8,306 414,307.4 415.1,307.8 416.2,308.7 417.4,309.6 418.5,310.5 419.7,311.9 420.8,312.8 421.9,313.3 423.1,313.7 424.2,314.6 425.3,315.5 426.5,316 427.6,316.5 428.7,317.4 429.9,318.3 431,318.7 432.2,319.2 433.3,319.6 434.4,320.1 435.6,320.5 436.7,321 437.8,321.5 439,321.9 440.1,322.4 441.3,323.3 442.4,323.3 443.5,323.7 444.7,324.2 445.8,324.6 446.9,325.1 448.1,325.1 449.2,325.5 450.4,326 451.5,326 452.6,326.5 453.8,326.9 454.9,326.9 456,327.4 457.2,327.4 458.3,327.4 459.4,327.8 460.6,327.8 461.7,328.3 462.9,328.3 464,328.3 465.1,328.3 466.3,328.3 467.4,328.7 468.5,328.7 469.7,328.7 470.8,328.7 472,329.2 473.1,329.2 474.2,329.2 475.4,329.6 476.5,329.6 477.6,329.6 478.8,329.6 479.9,329.6 481.1,329.6 482.2,330.1 483.3,330.1 484.5,330.1 485.6,330.1 486.7,330.1 487.9,330.1 489,330.5 490.1,330.7 491.3,330.7 492.4,330.8 493.6,330.8 494.7,330.8 495.8,330.8 497,330.8 498.1,330.8 499.2,330.8 500.4,330.8 501.5,330.8 502.7,330.8 503.8,330.8 504.9,330.9 506.1,330.9 507.2,330.9 508.3,330.9 509.5,330.9 510.6,330.9 511.7,330.9 512.9,330.9 514,330.9 515.2,330.9 516.3,330.9 517.4,330.9 518.6,330.9 519.7,330.9 520.8,330.9 522,331 523.1,331 524.3,331 525.4,331 526.5,331 527.7,331 528.8,331 529.9,331 531.1,331 532.2,331 533.4,331 534.5,331 535.6,331 536.8,331 537.9,331 539,331 540.2,331 541.3,331 542.4,331 543.6,331 544.7,331 544.7,331 543.6,331 542.4,331 541.3,331 540.2,331 539,331 537.9,331 536.8,331 535.6,331 534.5,331 533.4,331 532.2,331 531.1,331 529.9,331 528.8,331 527.7,331 526.5,331 525.4,331 524.3,331 523.1,331 522,331 520.8,330.9 519.7,330.9 518.6,330.9 517.4,330.9 516.3,330.9 515.2,330.9 514,330.9 512.9,330.9 511.7,330.9 510.6,330.9 509.5,330.9 508.3,330.9 507.2,330.9 506.1,330.9 504.9,330.9 503.8,330.8 502.7,330.8 501.5,330.8 500.4,330.8 499.2,330.8 498.1,330.8 497,330.8 495.8,330.8 494.7,330.8 493.6,330.8 492.4,330.8 491.3,330.7 490.1,330.7 489,331 487.9,331 486.7,331 485.6,331 484.5,331 483.3,331 482.2,331 481.1,331 479.9,331 478.8,331 477.6,331 476.5,331 475.4,331 474.2,330.5 473.1,330.5 472,330.5 470.8,330.5 469.7,330.5 468.5,330.5 467.4,330.5 466.3,330.5 465.1,330.1 464,330.1 462.9,330.1 461.7,330.1 460.6,329.6 459.4,329.6 458.3,329.6 457.2,329.6 456,329.6 454.9,329.2 453.8,329.2 452.6,329.2 451.5,328.7 450.4,328.7 449.2,328.3 448.1,328.3 446.9,327.8 445.8,327.8 444.7,327.4 443.5,326.9 442.4,326.9 441.3,326.5 440.1,326 439,326 437.8,325.5 436.7,325.1 435.6,325.1 434.4,324.6 433.3,323.7 432.2,323.3 431,322.8 429.9,322.4 428.7,321.9 427.6,321.5 426.5,321 425.3,320.5 424.2,319.6 423.1,319.2 421.9,318.7 420.8,318.3 419.7,317.4 418.5,316.9 417.4,316.5 416.2,315.5 415.1,314.6 414,313.7 412.8,312.8 411.7,311.9 410.6,311.5 409.4,310.5 408.3,309.6 407.1,308.7 406,307.8 404.9,306.4 403.7,305.1 402.6,304.2 401.5,302.8 400.3,301 399.2,299.6 398,297.8 396.9,296.9 395.8,296 394.6,295.1 393.5,294.2 392.4,292.8 391.2,291 390.1,290.1 389,288.7 387.8,287.8 386.7,286.4 385.5,285.5 384.4,284.6 383.3,283.3 382.1,282.4 381,281.4 379.9,281 378.7,280.5 377.6,280.5 376.4,280.1 375.3,279.6 374.2,279.6 373,279.6 371.9,279.6 370.8,279.6 369.6,280.1 368.5,280.5 367.4,281 366.2,281.4 365.1,281.9 363.9,283.3 362.8,284.6 361.7,285.5 360.5,286.9 359.4,288.3 358.3,289.6 357.1,291 356,292.8 354.8,294.6 353.7,296.4 352.6,298.3 351.4,300.5 350.3,302.8 349.2,304.6 348,306.4 346.9,308.3 345.7,310.1 344.6,311.9 343.5,314.2 342.3,316 341.2,317.8 340.1,319.2 338.9,321 337.8,323.3 336.7,325.1 335.5,326.9 334.4,329.2 333.2,331 332.1,331 331,331 329.8,331 328.7,331 327.6,331 326.4,331 325.3,331 324.1,331 323,331 321.9,331 320.7,331 319.6,331 318.5,331 317.3,331 316.2,331 315,331 313.9,331 312.8,331 311.6,331" fill="#aedfae" fill-opacity="0.3"/><polygon points="311.6,331 312.8,331 313.9,331 315,331 316.2,331 317.3,331 318.5,331 319.6,331 320.7,331 321.9,331 323,331 324.1,328.3 325.3,328.3 326.4,328.3 327.6,327.4 328.7,327.4 329.8,327.4 331,327.4 332.1,327.4 333.2,327.4 334.4,327.4 335.5,326.5 336.7,323.7 337.8,321.9 338.9,321.9 340.1,321 341.2,321 342.3,320.1 343.5,320.1 344.6,320.1 345.7,319.2 346.9,318.3 348,318.3 349.2,317.4 350.3,316.5 351.4,316.5 352.6,315.5 353.7,314.6 354.8,314.6 356,314.6 357.1,314.6 358.3,313.7 359.4,312.8 360.5,311.9 361.7,311 362.8,310.1 363.9,309.2 365.1,308.3 366.2,308.3 367.4,307.4 368.5,306.4 369.6,305.5 370.8,305.5 371.9,303.7 373,302.8 374.2,301.9 375.3,301 376.4,301 377.6,300.1 378.7,299.2 379.9,297.4 381,296.4 382.1,295.5 383.3,294.6 384.4,294.6 385.5,292.8 386.7,291.9 387.8,291.9 389,291 390.1,290.1 391.2,289.2 392.4,288.3 393.5,287.4 394.6,285.5 395.8,283.7 396.9,282.8 398,281.9 399.2,281.9 400.3,280.1 401.5,280.1 402.6,278.3 403.7,277.4 404.9,277.4 406,276.4 407.1,275.5 408.3,273.7 409.4,272.8 410.6,271.9 411.7,271 412.8,271 414,269.2 415.1,268.3 416.2,269.2 417.4,269.2 418.5,268.3 419.7,268.3 420.8,267.3 421.9,266.4 423.1,266.4 424.2,265.5 425.3,264.6 426.5,264.6 427.6,263.7 428.7,263.7 429.9,263.7 431,262.8 432.2,263.7 433.3,263.7 434.4,263.7 435.6,262.8 436.7,261.9 437.8,261.9 439,261 440.1,261 441.3,261.9 442.4,262.8 443.5,262.8 444.7,261.9 445.8,261.9 446.9,261.9 448.1,262.8 449.2,261.9 450.4,261.9 451.5,262.8 452.6,262.8 453.8,261.9 454.9,261.9 456,261.9 457.2,262.8 458.3,262.8 459.4,263.7 460.6,262.8 461.7,262.8 462.9,264.6 464,265.5 465.1,265.5 466.3,265.5 467.4,266.4 468.5,266.4 469.7,267.3 470.8,268.3 472,269.2 473.1,269.2 474.2,269.2 475.4,270.1 476.5,271 477.6,271.9 478.8,271.9 479.9,271.9 481.1,272.8 482.2,272.8 483.3,272.8 484.5,273.7 485.6,274.6 486.7,275.5 487.9,277.4 489,278.3 490.1,278.3 491.3,278.3 492.4,278.3 493.6,279.2 494.7,279.2 495.8,279.2 497,281 498.1,281.9 499.2,281.9 500.4,282.8 501.5,282.8 502.7,283.7 503.8,284.6 504.9,285.5 506.1,285.5 507.2,286.4 508.3,286.4 509.5,287.4 510.6,288.3 511.7,288.3 512.9,289.2 514,290.1 515.2,290.1 516.3,291 517.4,291 518.6,291.9 519.7,291.9 520.8,291.9 522,292.8 523.1,292.8 524.3,293.7 525.4,294.6 526.5,295.5 527.7,295.5 528.8,295.5 529.9,295.5 531.1,295.5 532.2,295.5 533.4,296.4 534.5,297.4 535.6,298.3 536.8,298.3 537.9,299.2 539,299.2 540.2,300.1 541.3,300.1 542.4,300.1 543.6,299.2 544.7,300.1 544.7,320.1 543.6,320.1 542.4,320.1 541.3,319.2 540.2,319.2 539,319.2 537.9,319.2 536.8,318.3 535.6,317.4 534.5,317.4 533.4,317.4 532.2,317.4 531.1,317.4 529.9,317.4 528.8,316.5 527.7,316.5 526.5,316.5 525.4,316.5 524.3,315.5 523.1,314.6 522,313.7 520.8,313.7 519.7,313.7 518.6,312.8 517.4,312.8 516.3,312.8 515.2,312.8 514,311.9 512.9,311 511.7,311 510.6,310.1 509.5,310.1 508.3,310.1 507.2,309.2 506.1,309.2 504.9,308.3 503.8,307.4 502.7,307.4 501.5,307.4 500.4,306.4 499.2,305.5 498.1,305.5 497,305.5 495.8,305.5 494.7,304.6 493.6,304.6 492.4,303.7 491.3,302.8 490.1,302.8 489,301.9 487.9,301 486.7,301 485.6,300.1 484.5,299.2 483.3,299.2 482.2,299.2 481.1,298.3 479.9,298.3 478.8,297.4 477.6,297.4 476.5,297.4 475.4,297.4 474.2,296.4 473.1,295.5 472,294.6 470.8,293.7 469.7,293.7 468.5,293.7 467.4,292.8 466.3,292.8 465.1,291.9 464,291.9 462.9,291 461.7,291 460.6,291 459.4,290.1 458.3,289.2 457.2,289.2 456,289.2 454.9,290.1 453.8,289.2 452.6,289.2 451.5,289.2 450.4,289.2 449.2,289.2 448.1,289.2 446.9,289.2 445.8,289.2 444.7,289.2 443.5,289.2 442.4,289.2 441.3,289.2 440.1,290.1 439,289.2 437.8,290.1 436.7,290.1 435.6,290.1 434.4,290.1 433.3,290.1 432.2,290.1 431,290.1 429.9,290.1 428.7,290.1 427.6,291 426.5,291 425.3,291.9 424.2,291.9 423.1,291.9 421.9,292.8 420.8,292.8 419.7,293.7 418.5,293.7 417.4,294.6 416.2,294.6 415.1,294.6 414,295.5 412.8,296.4 411.7,296.4 410.6,297.4 409.4,298.3 408.3,300.1 407.1,300.1 406,300.1 404.9,301 403.7,301 402.6,301.9 401.5,302.8 400.3,303.7 399.2,303.7 398,304.6 396.9,305.5 395.8,306.4 394.6,307.4 393.5,308.3 392.4,308.3 391.2,309.2 390.1,310.1 389,311 387.8,311.9 386.7,311.9 385.5,312.8 384.4,313.7 383.3,313.7 382.1,314.6 381,314.6 379.9,315.5 378.7,315.5 377.6,316.5 376.4,317.4 375.3,318.3 374.2,318.3 373,319.2 371.9,320.1 370.8,321 369.6,321 368.5,321.9 367.4,321.9 366.2,321.9 365.1,322.8 363.9,323.7 362.8,324.6 361.7,324.6 360.5,324.6 359.4,324.6 358.3,325.5 357.1,325.5 356,325.5 354.8,326.5 353.7,326.5 352.6,327.4 351.4,327.4 350.3,327.4 349.2,327.4 348,327.4 346.9,328.3 345.7,328.3 344.6,328.3 343.5,329.2 342.3,329.2 341.2,329.2 340.1,329.2 338.9,329.2 337.8,330.1 336.7,330.1 335.5,331 334.4,331 333.2,331 332.1,331 331,331 329.8,331 328.7,331 327.6,331 326.4,331 325.3,331 324.1,331 323,331 321.9,331 320.7,331 319.6,331 318.5,331 317.3,331 316.2,331 315,331 313.9,331 312.8,331 311.6,331" fill="#d2c3e1" fill-opacity="0.3"/><polygon points="311.6,331 312.8,331 313.9,331 315,331 316.2,331 317.3,331 318.5,331 319.6,331 320.7,331 321.9,331 323,331 324.1,329.6 325.3,329.6 326.4,329.2 327.6,329.2 328.7,329.2 329.8,329.2 331,329.2 332.1,328.7 333.2,328.7 334.4,328.3 335.5,327.4 336.7,326 337.8,325.1 338.9,324.6 340.1,323.7 341.2,323.7 342.3,323.3 343.5,322.8 344.6,322.4 345.7,321.9 346.9,321.5 348,321 349.2,320.5 350.3,320.1 351.4,319.6 352.6,319.6 353.7,319.2 354.8,318.3 356,317.8 357.1,317.8 358.3,317.4 359.4,316.5 360.5,316 361.7,316 362.8,315.5 363.9,314.6 365.1,313.7 366.2,312.8 367.4,312.4 368.5,311.9 369.6,311 370.8,310.5 371.9,309.6 373,308.3 374.2,307.8 375.3,306.9 376.4,306.4 377.6,305.1 378.7,304.2 379.9,303.7 381,302.8 382.1,302.4 383.3,301.4 384.4,300.5 385.5,299.6 386.7,299.2 387.8,298.3 389,297.8 390.1,296.9 391.2,295.5 392.4,294.6 393.5,293.7 394.6,292.8 395.8,291.9 396.9,290.5 398,289.6 399.2,288.7 400.3,288.3 401.5,287.4 402.6,286.4 403.7,285.5 404.9,285.1 406,284.6 407.1,284.2 408.3,283.3 409.4,282.4 410.6,281 411.7,280.1 412.8,279.6 414,278.7 415.1,278.3 416.2,277.8 417.4,277.4 418.5,276.9 419.7,276 420.8,276 421.9,275.5 423.1,275.1 424.2,274.6 425.3,274.2 426.5,273.7 427.6,273.3 428.7,273.3 429.9,272.8 431,272.4 432.2,272.4 433.3,272.4 434.4,272.4 435.6,272.4 436.7,272.4 437.8,271.9 439,271.4 440.1,271.4 441.3,271.4 442.4,271.4 443.5,271.4 444.7,271.4 445.8,271.4 446.9,271.4 448.1,271.4 449.2,271.4 450.4,271.4 451.5,271.4 452.6,271.4 453.8,271.4 454.9,271.4 456,271.4 457.2,271.4 458.3,271.4 459.4,271.9 460.6,272.4 461.7,272.8 462.9,273.3 464,273.7 465.1,274.2 466.3,274.6 467.4,275.1 468.5,276 469.7,276.4 470.8,276.4 472,277.4 473.1,277.8 474.2,278.7 475.4,279.2 476.5,279.6 477.6,280.1 478.8,280.1 479.9,281 481.1,281.4 482.2,281.9 483.3,281.9 484.5,282.8 485.6,283.3 486.7,283.7 487.9,284.2 489,285.1 490.1,285.5 491.3,286 492.4,286.9 493.6,287.4 494.7,287.8 495.8,288.3 497,288.7 498.1,289.2 499.2,289.6 500.4,290.1 501.5,291 502.7,291.4 503.8,291.4 504.9,292.4 506.1,292.8 507.2,293.3 508.3,293.7 509.5,294.6 510.6,294.6 511.7,295.1 512.9,296 514,296.4 515.2,297.4 516.3,297.4 517.4,297.8 518.6,298.3 519.7,298.7 520.8,299.2 522,299.2 523.1,300.1 524.3,300.5 525.4,301 526.5,301.4 527.7,301.9 528.8,301.9 529.9,302.8 531.1,302.8 532.2,302.8 533.4,303.3 534.5,303.7 535.6,304.2 536.8,304.6 537.9,305.1 539,305.5 540.2,305.5 541.3,306 542.4,306.4 543.6,306.4 544.7,306.4 544.7,314.2 543.6,313.7 542.4,313.7 541.3,314.2 540.2,313.7 539,313.3 537.9,313.3 536.8,312.8 535.6,312.4 534.5,312.4 533.4,311.9 532.2,311 531.1,311 529.9,311 528.8,310.5 527.7,310.1 526.5,310.1 525.4,309.6 524.3,309.2 523.1,308.7 522,308.3 520.8,307.8 519.7,307.4 518.6,307.4 517.4,306.9 516.3,306.4 515.2,306 514,305.5 512.9,305.1 511.7,304.6 510.6,304.2 509.5,303.7 508.3,303.3 507.2,302.8 506.1,302.4 504.9,301.9 503.8,301.4 502.7,300.5 501.5,300.1 500.4,299.6 499.2,299.2 498.1,298.7 497,298.3 495.8,297.8 494.7,297.4 493.6,296.9 492.4,296.4 491.3,296 490.1,295.5 489,295.1 487.9,294.6 486.7,294.2 485.6,293.3 484.5,292.8 483.3,292.4 482.2,291.9 481.1,291.4 479.9,291 478.8,290.5 477.6,290.1 476.5,289.6 475.4,289.2 474.2,288.7 473.1,288.3 472,287.8 470.8,287.4 469.7,286.4 468.5,286 467.4,285.5 466.3,285.1 465.1,285.1 464,284.6 462.9,283.7 461.7,283.3 460.6,282.8 459.4,282.8 458.3,282.4 457.2,281.9 456,281.9 454.9,281.9 453.8,281.9 452.6,281.9 451.5,281.9 450.4,281.9 449.2,281.9 448.1,281.9 446.9,281.9 445.8,281.9 444.7,281.9 443.5,281.9 442.4,281.9 441.3,281.9 440.1,281.4 439,281.9 437.8,281.9 436.7,281.9 435.6,282.4 434.4,282.8 433.3,283.3 432.2,282.8 431,282.8 429.9,283.3 428.7,283.7 427.6,283.7 426.5,284.2 425.3,284.6 424.2,284.6 423.1,285.1 421.9,285.5 420.8,286 419.7,286.4 418.5,286.9 417.4,287.4 416.2,287.8 415.1,287.8 414,288.3 412.8,289.2 411.7,289.6 410.6,290.5 409.4,291.4 408.3,291.9 407.1,292.8 406,293.7 404.9,294.2 403.7,294.6 402.6,295.5 401.5,296 400.3,296.9 399.2,297.8 398,298.3 396.9,298.7 395.8,300.1 394.6,301 393.5,302.4 392.4,303.3 391.2,303.7 390.1,304.6 389,305.5 387.8,306 386.7,306.4 385.5,307.4 384.4,307.8 383.3,308.7 382.1,309.2 381,310.1 379.9,310.5 378.7,311.5 377.6,312.4 376.4,312.8 375.3,313.7 374.2,314.2 373,314.6 371.9,315.5 370.8,316.5 369.6,316.9 368.5,317.4 367.4,318.3 366.2,318.7 365.1,319.2 363.9,319.6 362.8,320.1 361.7,321 360.5,321.5 359.4,321.9 358.3,322.4 357.1,322.8 356,322.8 354.8,323.3 353.7,323.3 352.6,323.7 351.4,324.2 350.3,324.6 349.2,324.6 348,325.1 346.9,325.5 345.7,326 344.6,326.5 343.5,326.5 342.3,326.9 341.2,326.9 340.1,327.4 338.9,327.8 337.8,328.3 336.7,329.2 335.5,330.1 334.4,330.1 333.2,330.5 332.1,330.1 331,330.5 329.8,330.5 328.7,330.5 327.6,330.5 326.4,330.5 325.3,330.5 324.1,331 323,331 321.9,331 320.7,331 319.6,331 318.5,331 317.3,331 316.2,331 315,331 313.9,331 312.8,331 311.6,331" fill="#d2c3e1" fill-opacity="0.3"/><polyline points="311.6,331 312.8,331 313.9,331 315,331 316.2,331 317.3,331 318.5,331 319.6,331 320.7,331 321.9,331 323,331 324.1,330.1 325.3,330.1 326.4,330.1 327.6,330.1 328.7,330.1 329.8,330.1 331,330.1 332.1,330.1 333.2,330.1 334.4,325.5 335.5,322.8 336.7,321 337.8,318.3 338.9,316.5 340.1,314.6 341.2,312.8 342.3,310.1 343.5,308.3 344.6,306.4 345.7,303.7 346.9,301.9 348,299.2 349.2,297.4 350.3,294.6 351.4,292.8 352.6,290.1 353.7,288.3 354.8,285.5 356,283.7 357.1,281 358.3,279.2 359.4,276.4 360.5,274.6 361.7,271.9 362.8,270.1 363.9,268.3 365.1,265.5 366.2,263.7 367.4,261.9 368.5,260.1 369.6,258.3 370.8,256.4 371.9,255.5 373,254.6 374.2,253.7 375.3,252.8 376.4,251.9 377.6,251.9 378.7,251.9 379.9,251 381,251 382.1,251 383.3,251 384.4,251 385.5,251 386.7,251.9 387.8,251.9 389,251.9 390.1,252.8 391.2,252.8 392.4,253.7 393.5,254.6 394.6,254.6 395.8,255.5 396.9,256.4 398,256.4 399.2,257.3 400.3,257.3 401.5,258.3 402.6,258.3 403.7,259.2 404.9,259.2 406,260.1 407.1,260.1 408.3,260.1 409.4,261 410.6,261.9 411.7,261.9 412.8,262.8 414,263.7 415.1,263.7 416.2,264.6 417.4,264.6 418.5,264.6 419.7,265.5 420.8,265.5 421.9,265.5 423.1,266.4 424.2,266.4 425.3,267.3 426.5,267.3 427.6,267.3 428.7,268.3 429.9,268.3 431,269.2 432.2,269.2 433.3,270.1 434.4,270.1 435.6,270.1 436.7,271 437.8,271 439,271.9 440.1,271.9 441.3,271.9 442.4,272.8 443.5,272.8 444.7,272.8 445.8,273.7 446.9,273.7 448.1,273.7 449.2,274.6 450.4,274.6 451.5,275.5 452.6,275.5 453.8,275.5 454.9,276.4 456,276.4 457.2,276.4 458.3,277.4 459.4,277.4 460.6,278.3 461.7,278.3 462.9,279.2 464,279.2 465.1,280.1 466.3,280.1 467.4,281 468.5,281 469.7,281.9 470.8,281.9 472,282.8 473.1,282.8 474.2,283.7 475.4,283.7 476.5,284.6 477.6,284.6 478.8,285.5 479.9,285.5 481.1,286.4 482.2,287.4 483.3,287.4 484.5,288.3 485.6,288.3 486.7,289.2 487.9,289.2 489,290.1 490.1,290.1 491.3,291 492.4,291.9 493.6,291.9 494.7,292.8 495.8,292.8 497,293.7 498.1,293.7 499.2,294.6 500.4,294.6 501.5,295.5 502.7,295.5 503.8,296.4 504.9,297.4 506.1,297.4 507.2,298.3 508.3,298.3 509.5,299.2 510.6,299.2 511.7,300.1 512.9,300.1 514,301 515.2,301 516.3,301.9 517.4,301.9 518.6,302.8 519.7,302.8 520.8,303.7 522,303.7 523.1,304.6 524.3,304.6 525.4,305.5 526.5,305.5 527.7,306.4 528.8,306.4 529.9,306.4 531.1,307.4 532.2,307.4 533.4,307.4 534.5,308.3 535.6,308.3 536.8,308.3 537.9,309.2 539,309.2 540.2,309.2 541.3,310.1 542.4,310.1 543.6,310.1 544.7,310.1" fill="none" stroke="#000000" stroke-width="1.3" stroke-linejoin="round"/><polyline points="311.6,331 312.8,331 313.9,331 315,331 316.2,331 317.3,331 318.5,331 319.6,331 320.7,331 321.9,331 323,331 324.1,331 325.3,331 326.4,331 327.6,331 328.7,331 329.8,331 331,331 332.1,331 333.2,331 334.4,328.3 335.5,325.5 336.7,322.8 337.8,321 338.9,319.2 340.1,316.5 341.2,314.6 342.3,312.8 343.5,311 344.6,308.3 345.7,306.4 346.9,304.6 348,302.8 349.2,301 350.3,298.3 351.4,296.4 352.6,294.6 353.7,291.9 354.8,290.1 356,288.3 357.1,286.4 358.3,284.6 359.4,283.7 360.5,281.9 361.7,280.1 362.8,279.2 363.9,278.3 365.1,277.4 366.2,276.4 367.4,275.5 368.5,275.5 369.6,274.6 370.8,274.6 371.9,274.6 373,274.6 374.2,274.6 375.3,274.6 376.4,274.6 377.6,274.6 378.7,275.5 379.9,275.5 381,276.4 382.1,277.4 383.3,278.3 384.4,279.2 385.5,280.1 386.7,281.9 387.8,282.8 389,283.7 390.1,285.5 391.2,286.4 392.4,288.3 393.5,289.2 394.6,290.1 395.8,291.9 396.9,292.8 398,293.7 399.2,295.5 400.3,296.4 401.5,298.3 402.6,300.1 403.7,301.9 404.9,302.8 406,303.7 407.1,304.6 408.3,305.5 409.4,306.4 410.6,308.3 411.7,309.2 412.8,309.2 414,310.1 415.1,311 416.2,311.9 417.4,312.8 418.5,313.7 419.7,314.6 420.8,315.5 421.9,315.5 423.1,316.5 424.2,317.4 425.3,318.3 426.5,318.3 427.6,319.2 428.7,320.1 429.9,320.1 431,321 432.2,321 433.3,321.9 434.4,321.9 435.6,322.8 436.7,322.8 437.8,323.7 439,323.7 440.1,324.6 441.3,324.6 442.4,324.6 443.5,325.5 444.7,325.5 445.8,326.5 446.9,326.5 448.1,326.5 449.2,327.4 450.4,327.4 451.5,327.4 452.6,327.4 453.8,328.3 454.9,328.3 456,328.3 457.2,328.3 458.3,328.3 459.4,329.2 460.6,329.2 461.7,329.2 462.9,329.2 464,329.2 465.1,329.2 466.3,329.2 467.4,329.2 468.5,329.2 469.7,330.1 470.8,330.1 472,330.1 473.1,330.1 474.2,330.1 475.4,330.1 476.5,330.1 477.6,330.1 478.8,330.1 479.9,330.1 481.1,330.1 482.2,330.1 483.3,330.1 484.5,331 485.6,331 486.7,331 487.9,331 489,331 490.1,330.7 491.3,330.7 492.4,330.8 493.6,330.8 494.7,330.8 495.8,330.8 497,330.8 498.1,330.8 499.2,330.8 500.4,330.8 501.5,330.8 502.7,330.8 503.8,330.8 504.9,330.9 506.1,330.9 507.2,330.9 508.3,330.9 509.5,330.9 510.6,330.9 511.7,330.9 512.9,330.9 514,330.9 515.2,330.9 516.3,330.9 517.4,330.9 518.6,330.9 519.7,330.9 520.8,330.9 522,331 523.1,331 524.3,331 525.4,331 526.5,331 527.7,331 528.8,331 529.9,331 531.1,331 532.2,331 533.4,331 534.5,331 535.6,331 536.8,331 537.9,331 539,331 540.2,331 541.3,331 542.4,331 543.6,331 544.7,331" fill="none" stroke="#254a29" stroke-width="1.3" stroke-linejoin="round"/><polyline points="311.6,331 312.8,331 313.9,331 315,331 316.2,331 317.3,331 318.5,331 319.6,331 320.7,331 321.9,331 323,331 324.1,330.1 325.3,330.1 326.4,330.1 327.6,330.1 328.7,330.1 329.8,330.1 331,330.1 332.1,329.2 333.2,329.2 334.4,329.2 335.5,328.3 336.7,327.4 337.8,326.5 338.9,326.5 340.1,325.5 341.2,325.5 342.3,324.6 343.5,324.6 344.6,324.6 345.7,323.7 346.9,323.7 348,322.8 349.2,322.8 350.3,322.8 351.4,321.9 352.6,321.9 353.7,321 354.8,321 356,320.1 357.1,320.1 358.3,320.1 359.4,319.2 360.5,319.2 361.7,318.3 362.8,317.4 363.9,317.4 365.1,316.5 366.2,315.5 367.4,315.5 368.5,314.6 369.6,313.7 370.8,313.7 371.9,312.8 373,311.9 374.2,311 375.3,310.1 376.4,309.2 377.6,309.2 378.7,308.3 379.9,307.4 381,306.4 382.1,305.5 383.3,304.6 384.4,304.6 385.5,303.7 386.7,302.8 387.8,301.9 389,301 390.1,301 391.2,300.1 392.4,299.2 393.5,298.3 394.6,296.4 395.8,295.5 396.9,294.6 398,293.7 399.2,292.8 400.3,291.9 401.5,291.9 402.6,291 403.7,290.1 404.9,289.2 406,289.2 407.1,288.3 408.3,287.4 409.4,286.4 410.6,286.4 411.7,285.5 412.8,284.6 414,283.7 415.1,283.7 416.2,282.8 417.4,281.9 418.5,281.9 419.7,281 420.8,281 421.9,280.1 423.1,280.1 424.2,280.1 425.3,279.2 426.5,279.2 427.6,279.2 428.7,278.3 429.9,278.3 431,278.3 432.2,278.3 433.3,277.4 434.4,277.4 435.6,277.4 436.7,277.4 437.8,277.4 439,276.4 440.1,276.4 441.3,276.4 442.4,276.4 443.5,276.4 444.7,276.4 445.8,276.4 446.9,276.4 448.1,276.4 449.2,276.4 450.4,276.4 451.5,276.4 452.6,276.4 453.8,276.4 454.9,276.4 456,276.4 457.2,276.4 458.3,277.4 459.4,277.4 460.6,277.4 461.7,278.3 462.9,278.3 464,279.2 465.1,279.2 466.3,280.1 467.4,281 468.5,281 469.7,281.9 470.8,281.9 472,282.8 473.1,282.8 474.2,283.7 475.4,283.7 476.5,284.6 477.6,284.6 478.8,285.5 479.9,285.5 481.1,286.4 482.2,287.4 483.3,287.4 484.5,288.3 485.6,288.3 486.7,289.2 487.9,289.2 489,290.1 490.1,290.1 491.3,291 492.4,291.9 493.6,291.9 494.7,292.8 495.8,292.8 497,293.7 498.1,293.7 499.2,294.6 500.4,294.6 501.5,295.5 502.7,295.5 503.8,296.4 504.9,297.4 506.1,297.4 507.2,298.3 508.3,298.3 509.5,299.2 510.6,299.2 511.7,300.1 512.9,300.1 514,301 515.2,301 516.3,301.9 517.4,301.9 518.6,302.8 519.7,302.8 520.8,303.7 522,303.7 523.1,304.6 524.3,304.6 525.4,305.5 526.5,305.5 527.7,306.4 528.8,306.4 529.9,306.4 531.1,307.4 532.2,307.4 533.4,307.4 534.5,308.3 535.6,308.3 536.8,308.3 537.9,309.2 539,309.2 540.2,309.2 541.3,310.1 542.4,310.1 543.6,310.1 544.7,310.1" fill="none" stroke="#484052" stroke-width="1.3" stroke-linejoin="round"/><use href="#dots" transform="translate(259.1,163.4)"/></g>
<g clip-path="url(#c12)"><polygon points="311.6,494.4 312.8,494.4 313.9,494.4 315,494.4 316.2,494.4 317.3,494.4 318.5,494.4 319.6,494.4 320.7,494.4 321.9,494.4 323,494.4 324.1,490.8 325.3,490.8 326.4,490.8 327.6,490.8 328.7,490.8 329.8,490.8 331,490.8 332.1,490.8 333.2,490.8 334.4,490.8 335.5,490.8 336.7,490.8 337.8,475.3 338.9,472.6 340.1,469.8 341.2,468 342.3,465.3 343.5,462.6 344.6,459.8 345.7,457.1 346.9,454.4 348,451.7 349.2,448.9 350.3,447.1 351.4,444.4 352.6,440.8 353.7,438 354.8,434.4 356,431.7 357.1,428.9 358.3,426.2 359.4,422.6 360.5,418 361.7,413.5 362.8,408.9 363.9,404.4 365.1,400.7 366.2,398 367.4,396.2 368.5,393.5 369.6,390.7 370.8,389.8 371.9,388 373,386.2 374.2,384.4 375.3,383.5 376.4,382.6 377.6,381.6 378.7,380.7 379.9,379.8 381,379.8 382.1,378.9 383.3,378.9 384.4,378.9 385.5,379.8 386.7,379.8 387.8,379.8 389,379.8 390.1,379.8 391.2,380.7 392.4,381.6 393.5,381.6 394.6,381.6 395.8,382.6 396.9,384.4 398,384.4 399.2,385.3 400.3,386.2 401.5,388 402.6,388.9 403.7,388.9 404.9,389.8 406,389.8 407.1,389.8 408.3,390.7 409.4,391.6 410.6,391.6 411.7,391.6 412.8,392.6 414,392.6 415.1,392.6 416.2,393.5 417.4,394.4 418.5,395.3 419.7,396.2 420.8,397.1 421.9,398 423.1,398 424.2,398.9 425.3,398.9 426.5,399.8 427.6,399.8 428.7,399.8 429.9,399.8 431,400.7 432.2,401.7 433.3,401.7 434.4,401.7 435.6,401.7 436.7,402.6 437.8,403.5 439,403.5 440.1,403.5 441.3,403.5 442.4,404.4 443.5,405.3 444.7,405.3 445.8,406.2 446.9,407.1 448.1,407.1 449.2,407.1 450.4,408 451.5,408 452.6,408.9 453.8,409.8 454.9,410.7 456,411.7 457.2,411.7 458.3,411.7 459.4,411.7 460.6,411.7 461.7,411.7 462.9,413.5 464,415.3 465.1,416.2 466.3,417.1 467.4,417.1 468.5,417.1 469.7,418 470.8,418.9 472,419.8 473.1,419.8 474.2,420.7 475.4,421.7 476.5,421.7 477.6,422.6 478.8,423.5 479.9,424.4 481.1,424.4 482.2,425.3 483.3,427.1 484.5,428 485.6,428 486.7,428.9 487.9,428.9 489,430.7 490.1,431.7 491.3,432.6 492.4,432.6 493.6,432.6 494.7,432.6 495.8,433.5 497,434.4 498.1,435.3 499.2,436.2 500.4,436.2 501.5,437.1 502.7,438 503.8,438.9 504.9,439.8 506.1,440.8 507.2,440.8 508.3,441.7 509.5,442.6 510.6,443.5 511.7,443.5 512.9,444.4 514,444.4 515.2,445.3 516.3,447.1 517.4,447.1 518.6,447.1 519.7,448 520.8,448.9 522,449.8 523.1,448.9 524.3,449.8 525.4,450.8 526.5,451.7 527.7,450.8 528.8,451.7 529.9,451.7 531.1,451.7 532.2,452.6 533.4,454.4 534.5,454.4 535.6,455.3 536.8,455.3 537.9,454.4 539,454.4 540.2,454.4 541.3,455.3 542.4,456.2 543.6,457.1 544.7,458 544.7,480.8 543.6,479.9 542.4,479.9 541.3,479.9 540.2,478.9 539,478 537.9,478.9 536.8,478.9 535.6,478 534.5,478 533.4,477.1 532.2,477.1 531.1,477.1 529.9,476.2 528.8,476.2 527.7,476.2 526.5,475.3 525.4,475.3 524.3,474.4 523.1,474.4 522,474.4 520.8,473.5 519.7,473.5 518.6,472.6 517.4,472.6 516.3,471.7 515.2,471.7 514,471.7 512.9,471.7 511.7,470.8 510.6,469.8 509.5,469.8 508.3,469.8 507.2,468.9 506.1,468.9 504.9,468 503.8,467.1 502.7,467.1 501.5,466.2 500.4,465.3 499.2,465.3 498.1,465.3 497,464.4 495.8,463.5 494.7,463.5 493.6,463.5 492.4,462.6 491.3,461.7 490.1,461.7 489,460.8 487.9,459.8 486.7,459.8 485.6,459.8 484.5,458.9 483.3,458.9 482.2,458 481.1,457.1 479.9,457.1 478.8,456.2 477.6,456.2 476.5,455.3 475.4,454.4 474.2,453.5 473.1,452.6 472,452.6 470.8,451.7 469.7,451.7 468.5,450.8 467.4,449.8 466.3,449.8 465.1,448.9 464,448 462.9,447.1 461.7,447.1 460.6,447.1 459.4,446.2 458.3,446.2 457.2,445.3 456,444.4 454.9,444.4 453.8,444.4 452.6,443.5 451.5,443.5 450.4,442.6 449.2,441.7 448.1,441.7 446.9,441.7 445.8,440.8 444.7,439.8 443.5,438.9 442.4,438.9 441.3,439.8 440.1,438.9 439,438.9 437.8,438 436.7,437.1 435.6,437.1 434.4,436.2 433.3,436.2 432.2,436.2 431,435.3 429.9,435.3 428.7,434.4 427.6,434.4 426.5,433.5 425.3,433.5 424.2,433.5 423.1,432.6 421.9,431.7 420.8,431.7 419.7,431.7 418.5,430.7 417.4,429.8 416.2,429.8 415.1,428.9 414,428.9 412.8,428 411.7,428 410.6,427.1 409.4,427.1 408.3,426.2 407.1,426.2 406,425.3 404.9,424.4 403.7,424.4 402.6,423.5 401.5,422.6 400.3,422.6 399.2,421.7 398,420.7 396.9,419.8 395.8,419.8 394.6,418.9 393.5,418.9 392.4,418 391.2,417.1 390.1,416.2 389,415.3 387.8,415.3 386.7,415.3 385.5,415.3 384.4,414.4 383.3,415.3 382.1,415.3 381,415.3 379.9,416.2 378.7,417.1 377.6,418 376.4,418 375.3,418 374.2,418.9 373,420.7 371.9,422.6 370.8,423.5 369.6,425.3 368.5,427.1 367.4,428.9 366.2,431.7 365.1,434.4 363.9,436.2 362.8,439.8 361.7,444.4 360.5,447.1 359.4,450.8 358.3,453.5 357.1,455.3 356,458 354.8,459.8 353.7,462.6 352.6,464.4 351.4,467.1 350.3,468.9 349.2,470.8 348,472.6 346.9,474.4 345.7,476.2 344.6,478 343.5,479.9 342.3,481.7 341.2,483.5 340.1,485.3 338.9,486.2 337.8,488 336.7,494.4 335.5,494.4 334.4,494.4 333.2,494.4 332.1,494.4 331,494.4 329.8,494.4 328.7,494.4 327.6,494.4 326.4,494.4 325.3,494.4 324.1,494.4 323,494.4 321.9,494.4 320.7,494.4 319.6,494.4 318.5,494.4 317.3,494.4 316.2,494.4 315,494.4 313.9,494.4 312.8,494.4 311.6,494.4" fill="#6e6e6e" fill-opacity="0.3"/><polygon points="311.6,494.4 312.8,494.4 313.9,494.4 315,494.4 316.2,494.4 317.3,494.4 318.5,494.4 319.6,494.4 320.7,494.4 321.9,494.4 323,494.4 324.1,492.1 325.3,492.1 326.4,492.1 327.6,492.1 328.7,492.1 329.8,492.1 331,492.1 332.1,492.1 333.2,492.1 334.4,492.1 335.5,492.1 336.7,492.1 337.8,479.9 338.9,477.1 340.1,475.3 341.2,473 342.3,470.8 343.5,468.5 344.6,466.2 345.7,463.9 346.9,461.7 348,458.9 349.2,456.7 350.3,454.4 351.4,451.7 352.6,448.9 353.7,446.7 354.8,443.9 356,441.2 357.1,438.5 358.3,435.3 359.4,432.1 360.5,428.5 361.7,424.4 362.8,419.8 363.9,415.7 365.1,412.6 366.2,409.8 367.4,407.1 368.5,404.8 369.6,402.6 370.8,400.7 371.9,398.9 373,397.6 374.2,395.7 375.3,394.8 376.4,394.4 377.6,393.9 378.7,393 379.9,392.6 381,392.1 382.1,391.6 383.3,391.2 384.4,391.2 385.5,391.2 386.7,391.2 387.8,391.6 389,392.1 390.1,392.6 391.2,393 392.4,393.9 393.5,394.4 394.6,395.3 395.8,395.7 396.9,396.2 398,396.7 399.2,397.6 400.3,398.5 401.5,398.9 402.6,399.8 403.7,400.3 404.9,401.2 406,401.7 407.1,402.1 408.3,402.6 409.4,403 410.6,403.5 411.7,403.9 412.8,404.4 414,404.8 415.1,405.3 416.2,405.7 417.4,406.2 418.5,407.1 419.7,407.6 420.8,407.6 421.9,408 423.1,408.9 424.2,409.4 425.3,409.8 426.5,409.8 427.6,410.7 428.7,410.7 429.9,411.2 431,411.7 432.2,412.1 433.3,412.6 434.4,413 435.6,413 436.7,413.9 437.8,414.4 439,414.8 440.1,415.3 441.3,415.7 442.4,415.7 443.5,415.7 444.7,416.2 445.8,417.1 446.9,417.6 448.1,417.6 449.2,418.5 450.4,418.9 451.5,419.4 452.6,419.8 453.8,420.3 454.9,420.7 456,421.2 457.2,421.7 458.3,422.1 459.4,423 460.6,423.5 461.7,423.9 462.9,423.9 464,424.8 465.1,425.7 466.3,426.2 467.4,426.7 468.5,427.6 469.7,428 470.8,428.9 472,429.4 473.1,430.3 474.2,430.7 475.4,431.7 476.5,432.6 477.6,433.5 478.8,433.9 479.9,434.4 481.1,435.3 482.2,435.8 483.3,436.7 484.5,437.1 485.6,438 486.7,438.5 487.9,438.9 489,439.4 490.1,440.3 491.3,440.8 492.4,441.7 493.6,442.1 494.7,442.6 495.8,443 497,443.9 498.1,444.4 499.2,445.3 500.4,445.8 501.5,446.2 502.7,447.1 503.8,447.6 504.9,448.5 506.1,448.9 507.2,449.8 508.3,450.3 509.5,451.2 510.6,451.7 511.7,452.1 512.9,452.6 514,453 515.2,453.5 516.3,453.9 517.4,454.4 518.6,455.3 519.7,455.8 520.8,456.2 522,456.7 523.1,457.1 524.3,457.6 525.4,458 526.5,458.5 527.7,458.9 528.8,459.4 529.9,459.8 531.1,460.3 532.2,460.8 533.4,460.8 534.5,461.2 535.6,461.7 536.8,462.1 537.9,462.6 539,462.6 540.2,463 541.3,463.5 542.4,463.9 543.6,464.4 544.7,464.8 544.7,473.5 543.6,473 542.4,472.6 541.3,472.1 540.2,472.1 539,471.7 537.9,471.7 536.8,471.2 535.6,471.2 534.5,470.8 533.4,470.8 532.2,469.8 531.1,469.4 529.9,468.9 528.8,468.9 527.7,468.5 526.5,468.5 525.4,468 524.3,467.6 523.1,467.1 522,467.1 520.8,466.7 519.7,466.2 518.6,465.3 517.4,465.3 516.3,464.8 515.2,464.4 514,463.5 512.9,463.5 511.7,462.6 510.6,462.1 509.5,462.1 508.3,461.2 507.2,460.8 506.1,460.3 504.9,459.8 503.8,458.9 502.7,458.5 501.5,458 500.4,457.1 499.2,456.7 498.1,456.2 497,455.8 495.8,454.8 494.7,454.4 493.6,453.9 492.4,453.9 491.3,453.5 490.1,453 489,452.1 487.9,451.2 486.7,450.8 485.6,450.3 484.5,449.8 483.3,448.9 482.2,448.5 481.1,447.6 479.9,447.1 478.8,446.7 477.6,445.8 476.5,444.8 475.4,444.4 474.2,443.9 473.1,443.5 472,442.6 470.8,442.1 469.7,441.2 468.5,440.8 467.4,440.3 466.3,439.8 465.1,439.4 464,438.9 462.9,438 461.7,437.1 460.6,436.2 459.4,436.2 458.3,435.8 457.2,435.3 456,434.8 454.9,434.4 453.8,433.9 452.6,433 451.5,432.6 450.4,432.6 449.2,431.7 448.1,431.7 446.9,431.2 445.8,430.7 444.7,430.3 443.5,429.8 442.4,429.4 441.3,428.9 440.1,428.5 439,428.5 437.8,428 436.7,427.6 435.6,427.1 434.4,426.7 433.3,426.2 432.2,426.2 431,425.7 429.9,424.8 428.7,424.8 427.6,424.4 426.5,423.9 425.3,423.9 424.2,423.5 423.1,423 421.9,422.6 420.8,421.7 419.7,421.2 418.5,420.7 417.4,419.8 416.2,419.4 415.1,418.9 414,418.5 412.8,418 411.7,417.6 410.6,417.1 409.4,417.1 408.3,416.2 407.1,415.7 406,415.3 404.9,415.3 403.7,414.4 402.6,413.9 401.5,413.5 400.3,412.6 399.2,411.7 398,410.7 396.9,410.3 395.8,409.4 394.6,408.5 393.5,408 392.4,407.6 391.2,407.1 390.1,406.7 389,406.2 387.8,405.7 386.7,405.3 385.5,405.3 384.4,405.3 383.3,405.3 382.1,405.3 381,405.7 379.9,406.2 378.7,406.7 377.6,407.1 376.4,408 375.3,408.9 374.2,409.8 373,411.2 371.9,412.6 370.8,414.4 369.6,415.7 368.5,417.6 367.4,419.8 366.2,422.1 365.1,424.4 363.9,428 362.8,431.7 361.7,435.8 360.5,439.4 359.4,442.6 358.3,445.8 357.1,448.5 356,450.8 354.8,453.5 353.7,455.8 352.6,458 351.4,460.8 350.3,463 349.2,464.8 348,467.1 346.9,468.9 345.7,471.2 344.6,473.5 343.5,475.3 342.3,477.1 341.2,478.9 340.1,481.2 338.9,483 337.8,484.9 336.7,493.9 335.5,493.9 334.4,493.9 333.2,493.9 332.1,493.9 331,493.9 329.8,493.9 328.7,493.9 327.6,493.9 326.4,493.9 325.3,493.9 324.1,493.9 323,494.4 321.9,494.4 320.7,494.4 319.6,494.4 318.5,494.4 317.3,494.4 316.2,494.4 315,494.4 313.9,494.4 312.8,494.4 311.6,494.4" fill="#6e6e6e" fill-opacity="0.3"/><polygon points="311.6,494.4 312.8,494.4 313.9,494.4 315,494.4 316.2,494.4 317.3,494.4 318.5,494.4 319.6,494.4 320.7,494.4 321.9,494.4 323,494.4 324.1,494.4 325.3,494.4 326.4,494.4 327.6,494.4 328.7,494.4 329.8,494.4 331,494.4 332.1,494.4 333.2,494.4 334.4,494.4 335.5,494.4 336.7,494.4 337.8,479.9 338.9,477.1 340.1,475.3 341.2,473.5 342.3,470.8 343.5,469.8 344.6,468 345.7,465.3 346.9,461.7 348,458 349.2,456.2 350.3,454.4 351.4,450.8 352.6,448 353.7,444.4 354.8,440.8 356,437.1 357.1,434.4 358.3,431.7 359.4,428 360.5,424.4 361.7,421.7 362.8,419.8 363.9,418 365.1,415.3 366.2,413.5 367.4,412.6 368.5,410.7 369.6,408.9 370.8,408 371.9,408 373,407.1 374.2,407.1 375.3,407.1 376.4,408 377.6,408.9 378.7,408.9 379.9,410.7 381,412.6 382.1,413.5 383.3,414.4 384.4,415.3 385.5,416.2 386.7,418 387.8,419.8 389,420.7 390.1,422.6 391.2,423.5 392.4,425.3 393.5,426.2 394.6,428 395.8,429.8 396.9,431.7 398,433.5 399.2,435.3 400.3,437.1 401.5,438 402.6,439.8 403.7,441.7 404.9,444.4 406,445.3 407.1,447.1 408.3,448.9 409.4,450.8 410.6,451.7 411.7,453.5 412.8,454.4 414,456.2 415.1,458 416.2,458.9 417.4,460.8 418.5,462.6 419.7,464.4 420.8,465.3 421.9,465.3 423.1,466.2 424.2,467.1 425.3,468 426.5,468.9 427.6,469.8 428.7,470.8 429.9,471.7 431,473.5 432.2,474.4 433.3,474.4 434.4,476.2 435.6,477.1 436.7,478 437.8,478 439,478 440.1,478.9 441.3,479.9 442.4,480.8 443.5,481.7 444.7,482.6 445.8,482.6 446.9,483.5 448.1,483.5 449.2,483.5 450.4,484.4 451.5,484.4 452.6,485.3 453.8,485.3 454.9,485.3 456,485.3 457.2,486.2 458.3,487.1 459.4,487.1 460.6,487.1 461.7,488 462.9,488 464,488 465.1,488 466.3,488 467.4,488.9 468.5,488.9 469.7,488.9 470.8,488.9 472,488.9 473.1,488.9 474.2,488.9 475.4,489.9 476.5,489.9 477.6,489.9 478.8,489.9 479.9,489.9 481.1,490.8 482.2,490.8 483.3,490.8 484.5,490.8 485.6,490.8 486.7,490.8 487.9,490.8 489,490.8 490.1,491.7 491.3,491.7 492.4,491.7 493.6,491.7 494.7,491.7 495.8,491.7 497,491.7 498.1,491.7 499.2,491.7 500.4,491.7 501.5,492.6 502.7,492.6 503.8,492.6 504.9,492.6 506.1,492.6 507.2,492.6 508.3,492.6 509.5,492.6 510.6,492.6 511.7,492.6 512.9,492.6 514,492.6 515.2,492.6 516.3,492.6 517.4,492.6 518.6,492.6 519.7,492.6 520.8,492.6 522,492.6 523.1,492.6 524.3,492.6 525.4,492.6 526.5,492.6 527.7,492.6 528.8,492.6 529.9,492.6 531.1,492.6 532.2,492.6 533.4,492.6 534.5,492.6 535.6,492.6 536.8,492.6 537.9,492.6 539,492.6 540.2,492.6 541.3,492.6 542.4,492.6 543.6,492.6 544.7,492.6 544.7,494.4 543.6,494.4 542.4,494.4 541.3,494.4 540.2,494.4 539,494.4 537.9,494.4 536.8,494.4 535.6,494.4 534.5,494.4 533.4,494.4 532.2,494.4 531.1,494.4 529.9,494.4 528.8,494.4 527.7,494.4 526.5,494.4 525.4,494.4 524.3,494.4 523.1,494.4 522,494.4 520.8,494.4 519.7,494.4 518.6,494.4 517.4,494.4 516.3,494.4 515.2,494.4 514,494.4 512.9,494.4 511.7,494.4 510.6,494.4 509.5,494.4 508.3,494.4 507.2,494.4 506.1,494.4 504.9,494.4 503.8,494.4 502.7,494.4 501.5,494.4 500.4,494.4 499.2,494.4 498.1,494.4 497,494.4 495.8,494.4 494.7,494.4 493.6,494.4 492.4,494.4 491.3,494.4 490.1,494.4 489,494.4 487.9,494.4 486.7,494.4 485.6,494.4 484.5,494.4 483.3,494.4 482.2,494.4 481.1,494.4 479.9,494.4 478.8,494.4 477.6,494.4 476.5,494.4 475.4,494.4 474.2,494.4 473.1,494.4 472,494.4 470.8,494.4 469.7,494.4 468.5,494.4 467.4,494.4 466.3,494.4 465.1,494.4 464,494.4 462.9,494.4 461.7,494.4 460.6,494.4 459.4,494.4 458.3,494.4 457.2,494.4 456,493.5 454.9,493.5 453.8,493.5 452.6,493.5 451.5,493.5 450.4,493.5 449.2,493.5 448.1,493.5 446.9,493.5 445.8,492.6 444.7,492.6 443.5,492.6 442.4,492.6 441.3,491.7 440.1,490.8 439,490.8 437.8,490.8 436.7,489.9 435.6,489.9 434.4,489.9 433.3,489.9 432.2,488.9 431,488 429.9,487.1 428.7,487.1 427.6,486.2 426.5,485.3 425.3,484.4 424.2,483.5 423.1,483.5 421.9,482.6 420.8,481.7 419.7,480.8 418.5,479.9 417.4,479.9 416.2,478.9 415.1,478 414,477.1 412.8,476.2 411.7,475.3 410.6,474.4 409.4,472.6 408.3,471.7 407.1,469.8 406,468.9 404.9,468 403.7,466.2 402.6,465.3 401.5,463.5 400.3,462.6 399.2,460.8 398,458.9 396.9,458 395.8,456.2 394.6,455.3 393.5,454.4 392.4,452.6 391.2,451.7 390.1,450.8 389,449.8 387.8,448 386.7,447.1 385.5,446.2 384.4,445.3 383.3,444.4 382.1,443.5 381,441.7 379.9,440.8 378.7,439.8 377.6,438.9 376.4,438.9 375.3,438.9 374.2,438 373,438 371.9,438.9 370.8,439.8 369.6,439.8 368.5,440.8 367.4,441.7 366.2,443.5 365.1,444.4 363.9,446.2 362.8,448 361.7,449.8 360.5,451.7 359.4,454.4 358.3,456.2 357.1,458.9 356,461.7 354.8,464.4 353.7,467.1 352.6,469.8 351.4,471.7 350.3,473.5 349.2,476.2 348,478 346.9,479.9 345.7,480.8 344.6,482.6 343.5,484.4 342.3,485.3 341.2,487.1 340.1,488 338.9,488.9 337.8,490.8 336.7,494.4 335.5,494.4 334.4,494.4 333.2,494.4 332.1,494.4 331,494.4 329.8,494.4 328.7,494.4 327.6,494.4 326.4,494.4 325.3,494.4 324.1,494.4 323,494.4 321.9,494.4 320.7,494.4 319.6,494.4 318.5,494.4 317.3,494.4 316.2,494.4 315,494.4 313.9,494.4 312.8,494.4 311.6,494.4" fill="#aedfae" fill-opacity="0.3"/><polygon points="311.6,494.4 312.8,494.4 313.9,494.4 315,494.4 316.2,494.4 317.3,494.4 318.5,494.4 319.6,494.4 320.7,494.4 321.9,494.4 323,494.4 324.1,494.4 325.3,494.4 326.4,494.4 327.6,494.4 328.7,494.4 329.8,494.4 331,494.4 332.1,494.4 333.2,494.4 334.4,494.4 335.5,494.4 336.7,494.4 337.8,483 338.9,481.2 340.1,479.4 341.2,477.6 342.3,475.8 343.5,473.9 344.6,471.7 345.7,469.8 346.9,468 348,465.8 349.2,463 350.3,460.3 351.4,457.6 352.6,454.8 353.7,452.1 354.8,448.9 356,445.8 357.1,442.6 358.3,439.8 359.4,436.7 360.5,433.9 361.7,431.2 362.8,428.9 363.9,427.1 365.1,425.3 366.2,423.5 367.4,422.1 368.5,420.7 369.6,419.4 370.8,418.9 371.9,418 373,417.6 374.2,417.6 375.3,418 376.4,418.5 377.6,418.9 378.7,419.8 379.9,420.7 381,422.1 382.1,423.5 383.3,424.8 384.4,425.7 385.5,427.1 386.7,428 387.8,429.4 389,430.7 390.1,432.6 391.2,433.9 392.4,435.3 393.5,436.7 394.6,438 395.8,439.4 396.9,440.8 398,442.6 399.2,444.4 400.3,446.2 401.5,447.6 402.6,449.4 403.7,451.2 404.9,453 406,454.4 407.1,455.8 408.3,457.1 409.4,458.9 410.6,460.3 411.7,461.7 412.8,463 414,464.4 415.1,465.8 416.2,467.1 417.4,468 418.5,468.9 419.7,470.3 420.8,471.2 421.9,472.1 423.1,473 424.2,473.9 425.3,474.9 426.5,475.8 427.6,476.7 428.7,477.6 429.9,478.5 431,479.4 432.2,480.3 433.3,481.2 434.4,481.7 435.6,482.1 436.7,482.6 437.8,483.5 439,483.9 440.1,484.4 441.3,484.9 442.4,485.3 443.5,485.8 444.7,486.2 445.8,486.7 446.9,487.1 448.1,487.6 449.2,488 450.4,488 451.5,488 452.6,488.5 453.8,488.9 454.9,488.9 456,488.9 457.2,489.4 458.3,489.9 459.4,489.9 460.6,489.9 461.7,490.3 462.9,490.8 464,490.8 465.1,490.8 466.3,491.2 467.4,491.2 468.5,491.2 469.7,491.7 470.8,491.7 472,491.7 473.1,491.7 474.2,491.7 475.4,492.1 476.5,492.1 477.6,492.1 478.8,492.1 479.9,492.1 481.1,492.1 482.2,492.6 483.3,492.6 484.5,492.6 485.6,492.6 486.7,492.6 487.9,492.6 489,492.6 490.1,492.6 491.3,492.6 492.4,493 493.6,493 494.7,493 495.8,493 497,493 498.1,493 499.2,493 500.4,493.5 501.5,493.5 502.7,493.5 503.8,493.5 504.9,493.5 506.1,493.5 507.2,493.5 508.3,493.5 509.5,493.5 510.6,493.5 511.7,493.5 512.9,493.5 514,493.5 515.2,493.5 516.3,493.5 517.4,493.5 518.6,493.5 519.7,493.5 520.8,493.5 522,493.5 523.1,493.5 524.3,493.5 525.4,493.5 526.5,493.9 527.7,493.9 528.8,493.9 529.9,493.5 531.1,493.5 532.2,493.5 533.4,493.9 534.5,493.9 535.6,493.5 536.8,493.5 537.9,493.5 539,493.9 540.2,493.9 541.3,493.9 542.4,493.9 543.6,493.9 544.7,493.9 544.7,494.4 543.6,494.4 542.4,494.4 541.3,494.4 540.2,494.4 539,494.4 537.9,494.4 536.8,494.4 535.6,494.4 534.5,494.4 533.4,494.4 532.2,494.4 531.1,494.4 529.9,494.4 528.8,494.4 527.7,494.4 526.5,494.4 525.4,494.4 524.3,494.4 523.1,494.4 522,494.4 520.8,494.4 519.7,494.4 518.6,494.4 517.4,494.4 516.3,494.4 515.2,494.4 514,494.4 512.9,494.4 511.7,494.4 510.6,494.4 509.5,494.4 508.3,494.4 507.2,494.4 506.1,494.4 504.9,494.4 503.8,494.4 502.7,494.4 501.5,494.4 500.4,494.4 499.2,494.4 498.1,494.4 497,494.4 495.8,494.4 494.7,494.4 493.6,494.4 492.4,494.4 491.3,494.4 490.1,494.4 489,493.9 487.9,493.9 486.7,493.9 485.6,493.9 484.5,493.9 483.3,493.9 482.2,493.9 481.1,493.9 479.9,493.9 478.8,493.9 477.6,493.9 476.5,493.9 475.4,493.5 474.2,493.5 473.1,493.5 472,493.5 470.8,493.5 469.7,493.5 468.5,493.5 467.4,493.5 466.3,493 465.1,493 464,493 462.9,493 461.7,492.6 460.6,492.6 459.4,492.6 458.3,492.6 457.2,492.1 456,492.1 454.9,491.7 453.8,491.7 452.6,491.7 451.5,491.2 450.4,491.2 449.2,490.8 448.1,490.8 446.9,490.3 445.8,490.3 444.7,489.9 443.5,489.4 442.4,488.9 441.3,488.5 440.1,488 439,487.6 437.8,487.6 436.7,487.1 435.6,486.7 434.4,485.8 433.3,485.3 432.2,484.9 431,483.9 429.9,483.5 428.7,483 427.6,482.1 426.5,481.2 425.3,480.8 424.2,480.3 423.1,479.4 421.9,478.5 420.8,478 419.7,477.1 418.5,476.2 417.4,474.9 416.2,473.9 415.1,472.6 414,471.7 412.8,470.3 411.7,468.9 410.6,468 409.4,466.7 408.3,465.8 407.1,463.9 406,462.6 404.9,461.7 403.7,459.8 402.6,458 401.5,457.1 400.3,455.8 399.2,453.9 398,452.6 396.9,450.8 395.8,449.4 394.6,448 393.5,447.1 392.4,445.8 391.2,444.4 390.1,443 389,441.7 387.8,440.8 386.7,439.4 385.5,438 384.4,437.1 383.3,435.8 382.1,435.3 381,433.9 379.9,432.6 378.7,431.7 377.6,430.7 376.4,430.3 375.3,429.8 374.2,429.4 373,429.4 371.9,429.8 370.8,430.7 369.6,431.2 368.5,432.6 367.4,433.9 366.2,434.8 365.1,436.7 363.9,438.5 362.8,440.3 361.7,442.1 360.5,444.4 359.4,447.1 358.3,450.3 357.1,452.6 356,454.8 354.8,458 353.7,460.8 352.6,463.5 351.4,466.2 350.3,468.5 349.2,470.8 348,472.6 346.9,474.4 345.7,476.7 344.6,478.5 343.5,480.3 342.3,481.7 341.2,483 340.1,484.9 338.9,485.8 337.8,487.6 336.7,494.4 335.5,494.4 334.4,494.4 333.2,494.4 332.1,494.4 331,494.4 329.8,494.4 328.7,494.4 327.6,494.4 326.4,494.4 325.3,494.4 324.1,494.4 323,494.4 321.9,494.4 320.7,494.4 319.6,494.4 318.5,494.4 317.3,494.4 316.2,494.4 315,494.4 313.9,494.4 312.8,494.4 311.6,494.4" fill="#aedfae" fill-opacity="0.3"/><polygon points="311.6,494.4 312.8,494.4 313.9,494.4 315,494.4 316.2,494.4 317.3,494.4 318.5,494.4 319.6,494.4 320.7,494.4 321.9,494.4 323,494.4 324.1,490.8 325.3,490.8 326.4,490.8 327.6,490.8 328.7,489.9 329.8,489.9 331,489.9 332.1,489.9 333.2,489.9 334.4,489.9 335.5,489.9 336.7,488.9 337.8,488.9 338.9,488 340.1,488 341.2,487.1 342.3,486.2 343.5,485.3 344.6,484.4 345.7,483.5 346.9,482.6 348,480.8 349.2,479.9 350.3,478 351.4,478 352.6,476.2 353.7,475.3 354.8,474.4 356,474.4 357.1,473.5 358.3,472.6 359.4,471.7 360.5,470.8 361.7,469.8 362.8,468.9 363.9,468.9 365.1,468.9 366.2,467.1 367.4,466.2 368.5,465.3 369.6,463.5 370.8,463.5 371.9,461.7 373,460.8 374.2,459.8 375.3,459.8 376.4,458.9 377.6,458.9 378.7,458 379.9,456.2 381,455.3 382.1,454.4 383.3,453.5 384.4,452.6 385.5,450.8 386.7,449.8 387.8,448 389,447.1 390.1,446.2 391.2,444.4 392.4,442.6 393.5,441.7 394.6,440.8 395.8,439.8 396.9,438.9 398,438 399.2,437.1 400.3,436.2 401.5,435.3 402.6,434.4 403.7,432.6 404.9,431.7 406,430.7 407.1,429.8 408.3,428.9 409.4,428.9 410.6,428 411.7,426.2 412.8,425.3 414,425.3 415.1,424.4 416.2,424.4 417.4,423.5 418.5,422.6 419.7,422.6 420.8,420.7 421.9,419.8 423.1,418.9 424.2,418.9 425.3,418.9 426.5,418 427.6,418 428.7,417.1 429.9,416.2 431,416.2 432.2,415.3 433.3,415.3 434.4,415.3 435.6,415.3 436.7,415.3 437.8,415.3 439,415.3 440.1,414.4 441.3,413.5 442.4,413.5 443.5,414.4 444.7,416.2 445.8,415.3 446.9,414.4 448.1,414.4 449.2,414.4 450.4,414.4 451.5,414.4 452.6,415.3 453.8,415.3 454.9,415.3 456,415.3 457.2,414.4 458.3,414.4 459.4,414.4 460.6,415.3 461.7,415.3 462.9,416.2 464,417.1 465.1,417.1 466.3,418 467.4,418 468.5,418 469.7,418.9 470.8,419.8 472,420.7 473.1,421.7 474.2,421.7 475.4,422.6 476.5,423.5 477.6,424.4 478.8,425.3 479.9,426.2 481.1,427.1 482.2,427.1 483.3,428 484.5,428.9 485.6,429.8 486.7,429.8 487.9,430.7 489,431.7 490.1,432.6 491.3,433.5 492.4,434.4 493.6,434.4 494.7,434.4 495.8,435.3 497,435.3 498.1,436.2 499.2,437.1 500.4,437.1 501.5,437.1 502.7,438 503.8,438.9 504.9,439.8 506.1,440.8 507.2,442.6 508.3,443.5 509.5,443.5 510.6,443.5 511.7,444.4 512.9,445.3 514,446.2 515.2,447.1 516.3,448 517.4,447.1 518.6,447.1 519.7,448 520.8,448.9 522,449.8 523.1,449.8 524.3,449.8 525.4,450.8 526.5,451.7 527.7,452.6 528.8,453.5 529.9,452.6 531.1,452.6 532.2,454.4 533.4,454.4 534.5,454.4 535.6,455.3 536.8,455.3 537.9,455.3 539,456.2 540.2,457.1 541.3,458 542.4,458 543.6,458 544.7,458 544.7,480.8 543.6,480.8 542.4,479.9 541.3,478.9 540.2,478 539,478.9 537.9,478.9 536.8,478 535.6,477.1 534.5,477.1 533.4,477.1 532.2,477.1 531.1,476.2 529.9,476.2 528.8,476.2 527.7,475.3 526.5,475.3 525.4,474.4 524.3,474.4 523.1,474.4 522,473.5 520.8,473.5 519.7,472.6 518.6,471.7 517.4,470.8 516.3,470.8 515.2,470.8 514,470.8 512.9,469.8 511.7,468.9 510.6,468.9 509.5,468.9 508.3,468.9 507.2,468 506.1,467.1 504.9,466.2 503.8,466.2 502.7,466.2 501.5,465.3 500.4,464.4 499.2,464.4 498.1,463.5 497,462.6 495.8,462.6 494.7,461.7 493.6,461.7 492.4,460.8 491.3,460.8 490.1,459.8 489,459.8 487.9,458.9 486.7,458 485.6,458 484.5,457.1 483.3,457.1 482.2,456.2 481.1,455.3 479.9,455.3 478.8,455.3 477.6,453.5 476.5,452.6 475.4,451.7 474.2,450.8 473.1,450.8 472,449.8 470.8,449.8 469.7,449.8 468.5,448.9 467.4,448 466.3,447.1 465.1,447.1 464,447.1 462.9,447.1 461.7,445.3 460.6,444.4 459.4,444.4 458.3,444.4 457.2,444.4 456,444.4 454.9,444.4 453.8,444.4 452.6,444.4 451.5,443.5 450.4,443.5 449.2,443.5 448.1,443.5 446.9,442.6 445.8,442.6 444.7,442.6 443.5,443.5 442.4,444.4 441.3,444.4 440.1,444.4 439,444.4 437.8,444.4 436.7,443.5 435.6,443.5 434.4,444.4 433.3,444.4 432.2,445.3 431,445.3 429.9,445.3 428.7,445.3 427.6,446.2 426.5,447.1 425.3,447.1 424.2,448 423.1,448 421.9,448 420.8,448.9 419.7,448.9 418.5,449.8 417.4,450.8 416.2,450.8 415.1,451.7 414,452.6 412.8,453.5 411.7,454.4 410.6,454.4 409.4,455.3 408.3,456.2 407.1,456.2 406,456.2 404.9,457.1 403.7,458 402.6,458.9 401.5,458.9 400.3,460.8 399.2,461.7 398,462.6 396.9,463.5 395.8,464.4 394.6,464.4 393.5,465.3 392.4,466.2 391.2,467.1 390.1,467.1 389,468 387.8,469.8 386.7,469.8 385.5,470.8 384.4,472.6 383.3,473.5 382.1,474.4 381,475.3 379.9,476.2 378.7,476.2 377.6,477.1 376.4,478 375.3,478 374.2,478.9 373,479.9 371.9,479.9 370.8,480.8 369.6,481.7 368.5,481.7 367.4,482.6 366.2,483.5 365.1,483.5 363.9,484.4 362.8,484.4 361.7,484.4 360.5,485.3 359.4,486.2 358.3,486.2 357.1,486.2 356,487.1 354.8,488 353.7,488 352.6,488.9 351.4,489.9 350.3,489.9 349.2,490.8 348,490.8 346.9,491.7 345.7,492.6 344.6,493.5 343.5,493.5 342.3,493.5 341.2,493.5 340.1,494.4 338.9,494.4 337.8,494.4 336.7,494.4 335.5,494.4 334.4,494.4 333.2,494.4 332.1,494.4 331,494.4 329.8,494.4 328.7,494.4 327.6,494.4 326.4,494.4 325.3,494.4 324.1,494.4 323,494.4 321.9,494.4 320.7,494.4 319.6,494.4 318.5,494.4 317.3,494.4 316.2,494.4 315,494.4 313.9,494.4 312.8,494.4 311.6,494.4" fill="#d2c3e1" fill-opacity="0.3"/><polygon points="311.6,494.4 312.8,494.4 313.9,494.4 315,494.4 316.2,494.4 317.3,494.4 318.5,494.4 319.6,494.4 320.7,494.4 321.9,494.4 323,494.4 324.1,492.1 325.3,492.1 326.4,492.1 327.6,492.1 328.7,492.1 329.8,491.7 331,491.7 332.1,491.7 333.2,491.7 334.4,491.2 335.5,491.2 336.7,491.2 337.8,490.8 338.9,490.8 340.1,489.9 341.2,489.4 342.3,488.5 343.5,488 344.6,487.1 345.7,486.7 346.9,485.3 348,484.4 349.2,483.5 350.3,482.6 351.4,482.1 352.6,480.8 353.7,479.9 354.8,479.4 356,478.5 357.1,477.6 358.3,476.7 359.4,476.2 360.5,475.8 361.7,474.9 362.8,474.4 363.9,473.5 365.1,473 366.2,472.1 367.4,471.7 368.5,470.8 369.6,469.8 370.8,469.4 371.9,468.5 373,467.6 374.2,466.7 375.3,465.8 376.4,465.3 377.6,464.4 378.7,463.5 379.9,462.6 381,461.7 382.1,460.8 383.3,459.8 384.4,458.5 385.5,457.6 386.7,456.2 387.8,455.3 389,453.9 390.1,453 391.2,452.1 392.4,451.2 393.5,449.8 394.6,448.9 395.8,448 396.9,447.1 398,446.2 399.2,445.3 400.3,443.9 401.5,443 402.6,442.1 403.7,441.2 404.9,440.3 406,439.4 407.1,438.9 408.3,438.5 409.4,437.6 410.6,436.7 411.7,435.8 412.8,435.3 414,434.4 415.1,433.5 416.2,432.6 417.4,432.1 418.5,431.7 419.7,430.7 420.8,430.3 421.9,429.4 423.1,428.9 424.2,428.9 425.3,428.5 426.5,428 427.6,427.6 428.7,426.7 429.9,426.2 431,426.2 432.2,425.7 433.3,425.3 434.4,424.8 435.6,424.8 436.7,424.8 437.8,424.8 439,424.8 440.1,424.8 441.3,424.4 442.4,424.4 443.5,424.4 444.7,423.9 445.8,423.9 446.9,423.9 448.1,423.9 449.2,424.4 450.4,424.4 451.5,424.4 452.6,424.4 453.8,424.4 454.9,424.4 456,424.4 457.2,424.4 458.3,424.4 459.4,424.4 460.6,424.8 461.7,425.3 462.9,426.2 464,426.7 465.1,426.7 466.3,427.1 467.4,427.6 468.5,428.5 469.7,429.4 470.8,429.8 472,430.3 473.1,430.7 474.2,431.2 475.4,432.1 476.5,433 477.6,433.9 478.8,434.8 479.9,435.3 481.1,435.8 482.2,436.7 483.3,437.6 484.5,438 485.6,438.5 486.7,438.9 487.9,439.8 489,440.3 490.1,441.2 491.3,441.7 492.4,442.1 493.6,443 494.7,443.5 495.8,443.9 497,444.4 498.1,444.8 499.2,445.8 500.4,446.2 501.5,447.1 502.7,447.6 503.8,448.5 504.9,448.9 506.1,449.4 507.2,450.3 508.3,450.8 509.5,451.2 510.6,451.7 511.7,452.1 512.9,453 514,453.5 515.2,453.9 516.3,453.9 517.4,454.4 518.6,455.3 519.7,455.8 520.8,456.7 522,457.1 523.1,457.6 524.3,457.6 525.4,458 526.5,458.5 527.7,458.9 528.8,459.4 529.9,459.8 531.1,460.3 532.2,460.8 533.4,461.2 534.5,461.2 535.6,461.7 536.8,462.1 537.9,462.6 539,463 540.2,463 541.3,463.5 542.4,463.9 543.6,464.8 544.7,464.8 544.7,473.5 543.6,473.5 542.4,473 541.3,473 540.2,472.6 539,472.1 537.9,471.7 536.8,471.2 535.6,471.2 534.5,470.8 533.4,470.8 532.2,470.3 531.1,469.4 529.9,469.4 528.8,469.4 527.7,468.5 526.5,468 525.4,467.6 524.3,467.1 523.1,467.1 522,466.7 520.8,466.2 519.7,465.8 518.6,465.3 517.4,464.8 516.3,464.8 515.2,464.4 514,463.5 512.9,463 511.7,462.6 510.6,462.1 509.5,461.2 508.3,461.2 507.2,460.8 506.1,459.4 504.9,458.9 503.8,458.5 502.7,457.6 501.5,457.1 500.4,456.7 499.2,456.2 498.1,455.8 497,454.8 495.8,454.4 494.7,453.9 493.6,453.5 492.4,453.5 491.3,452.6 490.1,452.1 489,451.2 487.9,450.8 486.7,450.3 485.6,449.4 484.5,448.9 483.3,448.5 482.2,447.6 481.1,447.1 479.9,446.7 478.8,445.8 477.6,445.3 476.5,444.4 475.4,443.5 474.2,443 473.1,442.6 472,442.1 470.8,441.2 469.7,440.3 468.5,439.8 467.4,439.4 466.3,438.9 465.1,438.5 464,438.5 462.9,438 461.7,437.6 460.6,437.1 459.4,436.7 458.3,436.2 457.2,436.2 456,436.7 454.9,436.2 453.8,436.2 452.6,436.2 451.5,436.2 450.4,435.8 449.2,435.8 448.1,435.8 446.9,435.8 445.8,436.2 444.7,436.2 443.5,435.8 442.4,435.8 441.3,435.8 440.1,436.2 439,436.2 437.8,436.7 436.7,436.7 435.6,436.7 434.4,436.7 433.3,437.1 432.2,437.1 431,437.6 429.9,437.6 428.7,438 427.6,438.5 426.5,438.9 425.3,439.4 424.2,439.8 423.1,439.8 421.9,440.3 420.8,441.2 419.7,442.1 418.5,442.6 417.4,443 416.2,443.9 415.1,444.4 414,444.8 412.8,445.3 411.7,446.2 410.6,447.1 409.4,447.6 408.3,448.5 407.1,448.9 406,449.8 404.9,450.3 403.7,451.2 402.6,452.1 401.5,453 400.3,453.9 399.2,454.4 398,455.3 396.9,456.2 395.8,457.1 394.6,458 393.5,458.9 392.4,459.8 391.2,460.8 390.1,462.1 389,463 387.8,463.9 386.7,464.8 385.5,466.2 384.4,467.1 383.3,468 382.1,468.9 381,469.4 379.9,470.3 378.7,471.2 377.6,471.7 376.4,472.6 375.3,473 374.2,473.5 373,473.9 371.9,474.9 370.8,475.8 369.6,476.2 368.5,477.1 367.4,477.6 366.2,478.5 365.1,479.4 363.9,479.9 362.8,480.3 361.7,480.8 360.5,481.2 359.4,482.1 358.3,482.6 357.1,483.5 356,483.9 354.8,484.4 353.7,484.9 352.6,485.8 351.4,486.2 350.3,487.1 349.2,487.6 348,488.5 346.9,489.4 345.7,489.9 344.6,490.8 343.5,491.2 342.3,491.7 341.2,492.1 340.1,492.6 338.9,493 337.8,493 336.7,493.5 335.5,493.5 334.4,493.5 333.2,493.5 332.1,493.5 331,493.5 329.8,493.5 328.7,493.5 327.6,493.9 326.4,493.9 325.3,493.9 324.1,493.9 323,494.4 321.9,494.4 320.7,494.4 319.6,494.4 318.5,494.4 317.3,494.4 316.2,494.4 315,494.4 313.9,494.4 312.8,494.4 311.6,494.4" fill="#d2c3e1" fill-opacity="0.3"/><polyline points="311.6,494.4 312.8,494.4 313.9,494.4 315,494.4 316.2,494.4 317.3,494.4 318.5,494.4 319.6,494.4 320.7,494.4 321.9,494.4 323,494.4 324.1,492.6 325.3,492.6 326.4,492.6 327.6,492.6 328.7,492.6 329.8,492.6 331,492.6 332.1,492.6 333.2,492.6 334.4,492.6 335.5,492.6 336.7,492.6 337.8,482.6 338.9,479.9 340.1,478 341.2,476.2 342.3,474.4 343.5,471.7 344.6,469.8 345.7,467.1 346.9,465.3 348,463.5 349.2,460.8 350.3,458.9 351.4,456.2 352.6,453.5 353.7,451.7 354.8,448.9 356,446.2 357.1,443.5 358.3,440.8 359.4,437.1 360.5,434.4 361.7,429.8 362.8,426.2 363.9,421.7 365.1,418.9 366.2,416.2 367.4,413.5 368.5,411.7 369.6,408.9 370.8,407.1 371.9,405.3 373,404.4 374.2,402.6 375.3,401.7 376.4,400.7 377.6,400.7 378.7,399.8 379.9,399.8 381,398.9 382.1,398.9 383.3,398 384.4,398 385.5,398 386.7,398 387.8,398.9 389,398.9 390.1,399.8 391.2,399.8 392.4,400.7 393.5,401.7 394.6,401.7 395.8,402.6 396.9,403.5 398,403.5 399.2,404.4 400.3,405.3 401.5,406.2 402.6,407.1 403.7,407.1 404.9,408 406,408.9 407.1,408.9 408.3,409.8 409.4,409.8 410.6,410.7 411.7,410.7 412.8,411.7 414,411.7 415.1,412.6 416.2,412.6 417.4,413.5 418.5,413.5 419.7,414.4 420.8,414.4 421.9,415.3 423.1,415.3 424.2,416.2 425.3,416.2 426.5,417.1 427.6,417.1 428.7,418 429.9,418 431,418.9 432.2,418.9 433.3,419.8 434.4,419.8 435.6,419.8 436.7,420.7 437.8,420.7 439,421.7 440.1,421.7 441.3,422.6 442.4,422.6 443.5,423.5 444.7,423.5 445.8,423.5 446.9,424.4 448.1,424.4 449.2,425.3 450.4,425.3 451.5,426.2 452.6,426.2 453.8,427.1 454.9,427.1 456,428 457.2,428 458.3,428.9 459.4,428.9 460.6,429.8 461.7,430.7 462.9,430.7 464,431.7 465.1,432.6 466.3,432.6 467.4,433.5 468.5,434.4 469.7,434.4 470.8,435.3 472,436.2 473.1,437.1 474.2,437.1 475.4,438 476.5,438.9 477.6,438.9 478.8,439.8 479.9,440.8 481.1,441.7 482.2,441.7 483.3,442.6 484.5,443.5 485.6,444.4 486.7,444.4 487.9,445.3 489,446.2 490.1,446.2 491.3,447.1 492.4,447.1 493.6,448 494.7,448.9 495.8,448.9 497,449.8 498.1,450.8 499.2,450.8 500.4,451.7 501.5,452.6 502.7,452.6 503.8,453.5 504.9,454.4 506.1,454.4 507.2,455.3 508.3,455.3 509.5,456.2 510.6,457.1 511.7,457.1 512.9,458 514,458.9 515.2,458.9 516.3,459.8 517.4,459.8 518.6,460.8 519.7,460.8 520.8,461.7 522,461.7 523.1,461.7 524.3,462.6 525.4,462.6 526.5,463.5 527.7,463.5 528.8,464.4 529.9,464.4 531.1,465.3 532.2,465.3 533.4,465.3 534.5,466.2 535.6,466.2 536.8,467.1 537.9,467.1 539,467.1 540.2,468 541.3,468 542.4,468.9 543.6,468.9 544.7,468.9" fill="none" stroke="#000000" stroke-width="1.3" stroke-linejoin="round"/><polyline points="311.6,494.4 312.8,494.4 313.9,494.4 315,494.4 316.2,494.4 317.3,494.4 318.5,494.4 319.6,494.4 320.7,494.4 321.9,494.4 323,494.4 324.1,494.4 325.3,494.4 326.4,494.4 327.6,494.4 328.7,494.4 329.8,494.4 331,494.4 332.1,494.4 333.2,494.4 334.4,494.4 335.5,494.4 336.7,494.4 337.8,485.3 338.9,483.5 340.1,481.7 341.2,480.8 342.3,478.9 343.5,477.1 344.6,475.3 345.7,473.5 346.9,470.8 348,468.9 349.2,467.1 350.3,464.4 351.4,461.7 352.6,458.9 353.7,456.2 354.8,453.5 356,450.8 357.1,448 358.3,444.4 359.4,441.7 360.5,438.9 361.7,437.1 362.8,434.4 363.9,432.6 365.1,430.7 366.2,428.9 367.4,428 368.5,426.2 369.6,425.3 370.8,424.4 371.9,423.5 373,423.5 374.2,423.5 375.3,423.5 376.4,424.4 377.6,424.4 378.7,425.3 379.9,427.1 381,428 382.1,428.9 383.3,429.8 384.4,431.7 385.5,432.6 386.7,433.5 387.8,435.3 389,436.2 390.1,438 391.2,438.9 392.4,440.8 393.5,441.7 394.6,443.5 395.8,444.4 396.9,446.2 398,447.1 399.2,448.9 400.3,450.8 401.5,452.6 402.6,453.5 403.7,455.3 404.9,457.1 406,458.9 407.1,459.8 408.3,461.7 409.4,462.6 410.6,464.4 411.7,465.3 412.8,467.1 414,468 415.1,468.9 416.2,470.8 417.4,471.7 418.5,472.6 419.7,473.5 420.8,474.4 421.9,475.3 423.1,476.2 424.2,477.1 425.3,478 426.5,478.9 427.6,479.9 428.7,480.8 429.9,480.8 431,481.7 432.2,482.6 433.3,482.6 434.4,483.5 435.6,484.4 436.7,484.4 437.8,485.3 439,486.2 440.1,486.2 441.3,487.1 442.4,487.1 443.5,487.1 444.7,488 445.8,488 446.9,488.9 448.1,488.9 449.2,488.9 450.4,489.9 451.5,489.9 452.6,489.9 453.8,489.9 454.9,490.8 456,490.8 457.2,490.8 458.3,490.8 459.4,490.8 460.6,491.7 461.7,491.7 462.9,491.7 464,491.7 465.1,491.7 466.3,491.7 467.4,492.6 468.5,492.6 469.7,492.6 470.8,492.6 472,492.6 473.1,492.6 474.2,492.6 475.4,492.6 476.5,492.6 477.6,492.6 478.8,492.6 479.9,493.5 481.1,493.5 482.2,493.5 483.3,493.5 484.5,493.5 485.6,493.5 486.7,493.5 487.9,493.5 489,493.5 490.1,493.5 491.3,493.5 492.4,493.5 493.6,493.5 494.7,493.5 495.8,493.5 497,493.5 498.1,493.5 499.2,493.5 500.4,493.5 501.5,493.5 502.7,493.5 503.8,493.5 504.9,494.4 506.1,494.4 507.2,494.4 508.3,494.4 509.5,494.4 510.6,494.4 511.7,494.4 512.9,494.4 514,494.4 515.2,494.4 516.3,494.4 517.4,494.4 518.6,494.4 519.7,494.4 520.8,494.4 522,494.4 523.1,494.4 524.3,494.4 525.4,494.4 526.5,494.4 527.7,494.4 528.8,494.4 529.9,494.4 531.1,494.4 532.2,494.4 533.4,494.4 534.5,494.4 535.6,494.4 536.8,494.4 537.9,494.4 539,494.4 540.2,494.4 541.3,494.4 542.4,494.4 543.6,494.4 544.7,494.4" fill="none" stroke="#254a29" stroke-width="1.3" stroke-linejoin="round"/><polyline points="311.6,494.4 312.8,494.4 313.9,494.4 315,494.4 316.2,494.4 317.3,494.4 318.5,494.4 319.6,494.4 320.7,494.4 321.9,494.4 323,494.4 324.1,492.6 325.3,492.6 326.4,492.6 327.6,492.6 328.7,492.6 329.8,492.6 331,492.6 332.1,492.6 333.2,492.6 334.4,492.6 335.5,492.6 336.7,492.6 337.8,491.7 338.9,491.7 340.1,491.7 341.2,490.8 342.3,489.9 343.5,489.9 344.6,488.9 345.7,488 346.9,487.1 348,486.2 349.2,485.3 350.3,485.3 351.4,484.4 352.6,483.5 353.7,482.6 354.8,481.7 356,480.8 357.1,480.8 358.3,479.9 359.4,478.9 360.5,478.9 361.7,478 362.8,477.1 363.9,476.2 365.1,476.2 366.2,475.3 367.4,474.4 368.5,473.5 369.6,473.5 370.8,472.6 371.9,471.7 373,470.8 374.2,469.8 375.3,469.8 376.4,468.9 377.6,468 378.7,467.1 379.9,466.2 381,465.3 382.1,464.4 383.3,463.5 384.4,462.6 385.5,461.7 386.7,460.8 387.8,459.8 389,458.9 390.1,457.1 391.2,456.2 392.4,455.3 393.5,454.4 394.6,453.5 395.8,452.6 396.9,451.7 398,450.8 399.2,449.8 400.3,448.9 401.5,448 402.6,447.1 403.7,446.2 404.9,445.3 406,444.4 407.1,443.5 408.3,443.5 409.4,442.6 410.6,441.7 411.7,440.8 412.8,439.8 414,439.8 415.1,438.9 416.2,438 417.4,438 418.5,437.1 419.7,436.2 420.8,435.3 421.9,435.3 423.1,434.4 424.2,434.4 425.3,433.5 426.5,433.5 427.6,432.6 428.7,432.6 429.9,432.6 431,431.7 432.2,431.7 433.3,431.7 434.4,430.7 435.6,430.7 436.7,430.7 437.8,430.7 439,430.7 440.1,430.7 441.3,429.8 442.4,429.8 443.5,429.8 444.7,429.8 445.8,429.8 446.9,429.8 448.1,429.8 449.2,429.8 450.4,429.8 451.5,429.8 452.6,429.8 453.8,429.8 454.9,429.8 456,430.7 457.2,430.7 458.3,430.7 459.4,430.7 460.6,431.7 461.7,431.7 462.9,431.7 464,432.6 465.1,432.6 466.3,433.5 467.4,433.5 468.5,434.4 469.7,434.4 470.8,435.3 472,436.2 473.1,436.2 474.2,437.1 475.4,438 476.5,438.9 477.6,438.9 478.8,439.8 479.9,440.8 481.1,441.7 482.2,441.7 483.3,442.6 484.5,443.5 485.6,444.4 486.7,444.4 487.9,445.3 489,446.2 490.1,446.2 491.3,447.1 492.4,447.1 493.6,448 494.7,448.9 495.8,448.9 497,449.8 498.1,450.8 499.2,450.8 500.4,451.7 501.5,452.6 502.7,452.6 503.8,453.5 504.9,454.4 506.1,454.4 507.2,455.3 508.3,455.3 509.5,456.2 510.6,457.1 511.7,457.1 512.9,458 514,458.9 515.2,458.9 516.3,459.8 517.4,459.8 518.6,460.8 519.7,460.8 520.8,461.7 522,461.7 523.1,461.7 524.3,462.6 525.4,462.6 526.5,463.5 527.7,463.5 528.8,464.4 529.9,464.4 531.1,465.3 532.2,465.3 533.4,465.3 534.5,466.2 535.6,466.2 536.8,467.1 537.9,467.1 539,467.1 540.2,468 541.3,468 542.4,468.9 543.6,468.9 544.7,468.9" fill="none" stroke="#484052" stroke-width="1.3" stroke-linejoin="round"/><use href="#dots" transform="translate(259.1,326.8)"/></g>
<g clip-path="url(#c13)"><polygon points="311.6,657.8 312.8,657.8 313.9,657.8 315,657.8 316.2,657.8 317.3,657.8 318.5,657.8 319.6,657.8 320.7,657.8 321.9,657.8 323,657.8 324.1,657.8 325.3,657.8 326.4,657.8 327.6,653.3 328.7,654.2 329.8,654.2 331,654.2 332.1,654.2 333.2,654.2 334.4,654.2 335.5,654.2 336.7,654.2 337.8,654.2 338.9,654.2 340.1,654.2 341.2,634.2 342.3,629.6 343.5,625.1 344.6,620.5 345.7,616 346.9,613.2 348,609.6 349.2,606 350.3,602.3 351.4,598.7 352.6,596 353.7,592.3 354.8,587.8 356,584.1 357.1,579.6 358.3,576 359.4,571.4 360.5,566 361.7,561.4 362.8,556.9 363.9,552.3 365.1,547.8 366.2,544.1 367.4,541.4 368.5,538.7 369.6,536.9 370.8,534.1 371.9,531.4 373,528.7 374.2,526.9 375.3,525 376.4,524.1 377.6,523.2 378.7,522.3 379.9,520.5 381,519.6 382.1,518.7 383.3,518.7 384.4,519.6 385.5,518.7 386.7,518.7 387.8,518.7 389,518.7 390.1,518.7 391.2,518.7 392.4,518.7 393.5,519.6 394.6,519.6 395.8,520.5 396.9,521.4 398,523.2 399.2,524.1 400.3,523.2 401.5,523.2 402.6,525 403.7,526 404.9,526.9 406,527.8 407.1,528.7 408.3,528.7 409.4,529.6 410.6,529.6 411.7,529.6 412.8,529.6 414,529.6 415.1,531.4 416.2,532.3 417.4,533.2 418.5,534.1 419.7,535 420.8,536.9 421.9,536.9 423.1,537.8 424.2,537.8 425.3,538.7 426.5,538.7 427.6,538.7 428.7,539.6 429.9,540.5 431,541.4 432.2,542.3 433.3,543.2 434.4,544.1 435.6,544.1 436.7,544.1 437.8,545 439,545 440.1,545 441.3,546 442.4,547.8 443.5,548.7 444.7,548.7 445.8,549.6 446.9,549.6 448.1,550.5 449.2,550.5 450.4,551.4 451.5,552.3 452.6,552.3 453.8,552.3 454.9,553.2 456,553.2 457.2,553.2 458.3,554.1 459.4,556 460.6,556 461.7,556.9 462.9,557.8 464,557.8 465.1,558.7 466.3,558.7 467.4,559.6 468.5,559.6 469.7,560.5 470.8,561.4 472,562.3 473.1,563.2 474.2,563.2 475.4,564.1 476.5,565.1 477.6,565.1 478.8,565.1 479.9,566 481.1,566.9 482.2,567.8 483.3,568.7 484.5,570.5 485.6,570.5 486.7,570.5 487.9,572.3 489,573.2 490.1,574.1 491.3,575.1 492.4,576 493.6,576.9 494.7,577.8 495.8,578.7 497,579.6 498.1,580.5 499.2,581.4 500.4,582.3 501.5,584.1 502.7,585.1 503.8,586 504.9,586 506.1,586.9 507.2,587.8 508.3,589.6 509.5,590.5 510.6,590.5 511.7,591.4 512.9,592.3 514,593.2 515.2,593.2 516.3,595.1 517.4,596 518.6,596.9 519.7,597.8 520.8,597.8 522,598.7 523.1,599.6 524.3,601.4 525.4,602.3 526.5,603.2 527.7,604.2 528.8,604.2 529.9,605.1 531.1,606 532.2,606.9 533.4,607.8 534.5,607.8 535.6,608.7 536.8,609.6 537.9,609.6 539,610.5 540.2,610.5 541.3,611.4 542.4,612.3 543.6,612.3 544.7,612.3 544.7,637.8 543.6,637.8 542.4,637.8 541.3,636.9 540.2,636 539,636 537.9,636 536.8,635.1 535.6,635.1 534.5,634.2 533.4,634.2 532.2,634.2 531.1,633.2 529.9,633.2 528.8,632.3 527.7,631.4 526.5,630.5 525.4,630.5 524.3,629.6 523.1,629.6 522,628.7 520.8,628.7 519.7,627.8 518.6,626.9 517.4,626.9 516.3,626 515.2,626 514,624.2 512.9,624.2 511.7,623.2 510.6,622.3 509.5,621.4 508.3,621.4 507.2,620.5 506.1,620.5 504.9,618.7 503.8,618.7 502.7,617.8 501.5,617.8 500.4,616.9 499.2,616 498.1,615.1 497,614.2 495.8,613.2 494.7,612.3 493.6,611.4 492.4,610.5 491.3,610.5 490.1,609.6 489,609.6 487.9,608.7 486.7,607.8 485.6,607.8 484.5,606.9 483.3,606 482.2,605.1 481.1,604.2 479.9,604.2 478.8,603.2 477.6,602.3 476.5,602.3 475.4,601.4 474.2,600.5 473.1,599.6 472,599.6 470.8,599.6 469.7,598.7 468.5,596.9 467.4,596.9 466.3,596.9 465.1,596 464,595.1 462.9,595.1 461.7,595.1 460.6,595.1 459.4,593.2 458.3,592.3 457.2,591.4 456,591.4 454.9,591.4 453.8,591.4 452.6,590.5 451.5,589.6 450.4,588.7 449.2,588.7 448.1,588.7 446.9,588.7 445.8,587.8 444.7,586.9 443.5,586 442.4,586 441.3,586 440.1,585.1 439,585.1 437.8,584.1 436.7,583.2 435.6,582.3 434.4,582.3 433.3,583.2 432.2,581.4 431,580.5 429.9,580.5 428.7,579.6 427.6,578.7 426.5,578.7 425.3,577.8 424.2,576.9 423.1,576 421.9,576 420.8,575.1 419.7,575.1 418.5,574.1 417.4,572.3 416.2,571.4 415.1,571.4 414,571.4 412.8,570.5 411.7,569.6 410.6,569.6 409.4,568.7 408.3,567.8 407.1,567.8 406,566.9 404.9,566 403.7,565.1 402.6,565.1 401.5,565.1 400.3,564.1 399.2,564.1 398,563.2 396.9,562.3 395.8,561.4 394.6,561.4 393.5,560.5 392.4,559.6 391.2,558.7 390.1,557.8 389,557.8 387.8,557.8 386.7,558.7 385.5,558.7 384.4,559.6 383.3,559.6 382.1,559.6 381,560.5 379.9,560.5 378.7,561.4 377.6,562.3 376.4,563.2 375.3,564.1 374.2,566 373,566.9 371.9,568.7 370.8,571.4 369.6,573.2 368.5,575.1 367.4,577.8 366.2,580.5 365.1,583.2 363.9,586 362.8,589.6 361.7,594.1 360.5,598.7 359.4,602.3 358.3,605.1 357.1,608.7 356,612.3 354.8,615.1 353.7,617.8 352.6,620.5 351.4,624.2 350.3,626.9 349.2,628.7 348,631.4 346.9,634.2 345.7,636.9 344.6,639.6 343.5,642.3 342.3,645.1 341.2,648.7 340.1,657.8 338.9,657.8 337.8,657.8 336.7,657.8 335.5,657.8 334.4,657.8 333.2,657.8 332.1,657.8 331,657.8 329.8,657.8 328.7,657.8 327.6,657.8 326.4,657.8 325.3,657.8 324.1,657.8 323,657.8 321.9,657.8 320.7,657.8 319.6,657.8 318.5,657.8 317.3,657.8 316.2,657.8 315,657.8 313.9,657.8 312.8,657.8 311.6,657.8" fill="#6e6e6e" fill-opacity="0.3"/><polygon points="311.6,657.8 312.8,657.8 313.9,657.8 315,657.8 316.2,657.8 317.3,657.8 318.5,657.8 319.6,657.8 320.7,657.8 321.9,657.8 323,657.8 324.1,657.8 325.3,657.8 326.4,657.8 327.6,655.5 328.7,655.5 329.8,655.5 331,655.5 332.1,655.5 333.2,655.5 334.4,655.5 335.5,655.5 336.7,655.5 337.8,655.5 338.9,655.5 340.1,655.5 341.2,638.3 342.3,634.2 343.5,630.1 344.6,626.4 345.7,622.8 346.9,619.6 348,616.4 349.2,613.7 350.3,610.5 351.4,607.3 352.6,603.7 353.7,600.5 354.8,596.9 356,593.2 357.1,589.6 358.3,586 359.4,581.9 360.5,577.3 361.7,572.3 362.8,567.8 363.9,563.7 365.1,560.5 366.2,556.9 367.4,554.1 368.5,551.4 369.6,548.7 370.8,546.4 371.9,543.7 373,541.9 374.2,540 375.3,538.7 376.4,537.3 377.6,536 378.7,535 379.9,534.1 381,533.7 382.1,533.2 383.3,532.8 384.4,532.8 385.5,532.3 386.7,531.9 387.8,531.9 389,531.4 390.1,531.9 391.2,532.3 392.4,532.8 393.5,533.7 394.6,534.1 395.8,534.6 396.9,535.5 398,536.4 399.2,536.9 400.3,537.3 401.5,538.2 402.6,538.7 403.7,539.1 404.9,539.6 406,540.5 407.1,541 408.3,541.4 409.4,541.9 410.6,542.3 411.7,543.2 412.8,543.7 414,544.6 415.1,545 416.2,545.5 417.4,546 418.5,546.9 419.7,547.8 420.8,548.7 421.9,549.1 423.1,549.6 424.2,550 425.3,551 426.5,551.9 427.6,552.3 428.7,553.2 429.9,553.7 431,554.1 432.2,555 433.3,556 434.4,556 435.6,556.4 436.7,556.9 437.8,557.8 439,558.2 440.1,558.7 441.3,559.1 442.4,559.6 443.5,560.1 444.7,560.5 445.8,561.4 446.9,561.9 448.1,561.9 449.2,562.3 450.4,562.8 451.5,563.2 452.6,564.1 453.8,564.6 454.9,565.1 456,565.1 457.2,566 458.3,566.4 459.4,567.3 460.6,568.2 461.7,568.7 462.9,568.7 464,569.6 465.1,570.1 466.3,570.5 467.4,571 468.5,571.4 469.7,572.3 470.8,573.2 472,573.7 473.1,574.1 474.2,574.6 475.4,575.5 476.5,576 477.6,576.9 478.8,577.3 479.9,578.2 481.1,578.7 482.2,579.6 483.3,580.1 484.5,581.4 485.6,581.9 486.7,582.3 487.9,583.2 489,584.1 490.1,585.1 491.3,585.5 492.4,586.4 493.6,587.8 494.7,588.7 495.8,589.6 497,590.5 498.1,591.4 499.2,592.3 500.4,593.2 501.5,594.1 502.7,595.1 503.8,595.5 504.9,596.4 506.1,597.3 507.2,598.2 508.3,598.7 509.5,599.6 510.6,600.5 511.7,601 512.9,601.9 514,602.8 515.2,603.7 516.3,604.6 517.4,605.5 518.6,606 519.7,606.9 520.8,607.8 522,608.7 523.1,609.2 524.3,610.1 525.4,610.5 526.5,611.4 527.7,611.9 528.8,612.8 529.9,613.7 531.1,614.2 532.2,615.1 533.4,615.5 534.5,616 535.6,616.4 536.8,617.3 537.9,617.3 539,617.8 540.2,618.7 541.3,619.2 542.4,619.6 543.6,620.1 544.7,620.5 544.7,630.5 543.6,630.5 542.4,630.1 541.3,629.6 540.2,629.2 539,628.7 537.9,628.2 536.8,627.8 535.6,627.3 534.5,626.9 533.4,626.4 532.2,626 531.1,625.1 529.9,624.6 528.8,624.2 527.7,623.7 526.5,622.8 525.4,622.3 524.3,621.4 523.1,620.5 522,620.1 520.8,619.2 519.7,618.7 518.6,618.2 517.4,617.3 516.3,616.4 515.2,615.5 514,615.1 512.9,614.6 511.7,613.7 510.6,613.2 509.5,612.8 508.3,611.9 507.2,611 506.1,610.1 504.9,609.6 503.8,608.7 502.7,608.2 501.5,607.3 500.4,606.4 499.2,606 498.1,605.1 497,604.2 495.8,603.7 494.7,602.8 493.6,601.9 492.4,601 491.3,600.1 490.1,599.6 489,598.7 487.9,597.8 486.7,596.9 485.6,596.4 484.5,596 483.3,595.1 482.2,594.1 481.1,593.2 479.9,592.8 478.8,592.3 477.6,591.4 476.5,591 475.4,590.5 474.2,590.1 473.1,589.1 472,588.7 470.8,587.8 469.7,587.3 468.5,586.9 467.4,586.4 466.3,586 465.1,585.5 464,585.1 462.9,584.1 461.7,583.7 460.6,583.2 459.4,582.8 458.3,581.9 457.2,581 456,581 454.9,580.5 453.8,580.1 452.6,579.6 451.5,579.1 450.4,578.7 449.2,578.2 448.1,577.8 446.9,577.3 445.8,576.9 444.7,576.4 443.5,575.5 442.4,575.1 441.3,574.1 440.1,573.7 439,573.2 437.8,572.8 436.7,572.3 435.6,571.9 434.4,571.4 433.3,571 432.2,570.1 431,569.6 429.9,568.7 428.7,568.2 427.6,567.3 426.5,566.9 425.3,566.4 424.2,566 423.1,565.5 421.9,564.6 420.8,564.1 419.7,563.2 418.5,562.3 417.4,561.9 416.2,561.4 415.1,560.5 414,559.1 412.8,558.7 411.7,558.2 410.6,558.2 409.4,557.8 408.3,557.3 407.1,556.9 406,556 404.9,555.5 403.7,554.6 402.6,554.1 401.5,553.2 400.3,552.8 399.2,552.3 398,551.9 396.9,551 395.8,550 394.6,549.6 393.5,549.1 392.4,548.2 391.2,547.8 390.1,547.8 389,547.8 387.8,547.3 386.7,547.3 385.5,547.8 384.4,548.2 383.3,548.2 382.1,548.2 381,548.7 379.9,549.1 378.7,550.5 377.6,551.4 376.4,552.3 375.3,553.7 374.2,555 373,556.9 371.9,558.7 370.8,561 369.6,563.2 368.5,565.5 367.4,567.8 366.2,570.5 365.1,573.7 363.9,577.3 362.8,581 361.7,585.1 360.5,589.1 359.4,593.7 358.3,597.3 357.1,601 356,604.6 354.8,607.8 353.7,611 352.6,614.2 351.4,616.9 350.3,619.6 349.2,622.8 348,625.5 346.9,628.2 345.7,631 344.6,634.2 343.5,637.3 342.3,641 341.2,644.2 340.1,657.3 338.9,657.3 337.8,657.3 336.7,657.3 335.5,657.3 334.4,657.3 333.2,657.3 332.1,657.3 331,657.3 329.8,657.3 328.7,657.3 327.6,656.9 326.4,657.8 325.3,657.8 324.1,657.8 323,657.8 321.9,657.8 320.7,657.8 319.6,657.8 318.5,657.8 317.3,657.8 316.2,657.8 315,657.8 313.9,657.8 312.8,657.8 311.6,657.8" fill="#6e6e6e" fill-opacity="0.3"/><polygon points="311.6,657.8 312.8,657.8 313.9,657.8 315,657.8 316.2,657.8 317.3,657.8 318.5,657.8 319.6,657.8 320.7,657.8 321.9,657.8 323,657.8 324.1,657.8 325.3,657.8 326.4,657.8 327.6,657.8 328.7,657.8 329.8,657.8 331,657.8 332.1,657.8 333.2,657.8 334.4,657.8 335.5,657.8 336.7,657.8 337.8,657.8 338.9,657.8 340.1,657.8 341.2,638.7 342.3,635.1 343.5,631.4 344.6,627.8 345.7,625.1 346.9,621.4 348,618.7 349.2,615.1 350.3,611.4 351.4,606.9 352.6,604.2 353.7,601.4 354.8,598.7 356,596 357.1,591.4 358.3,587.8 359.4,585.1 360.5,584.1 361.7,580.5 362.8,577.8 363.9,575.1 365.1,572.3 366.2,570.5 367.4,567.8 368.5,565.1 369.6,562.3 370.8,561.4 371.9,559.6 373,558.7 374.2,557.8 375.3,556 376.4,556.9 377.6,556.9 378.7,556.9 379.9,556 381,556.9 382.1,557.8 383.3,559.6 384.4,561.4 385.5,562.3 386.7,564.1 387.8,566.9 389,567.8 390.1,568.7 391.2,570.5 392.4,571.4 393.5,573.2 394.6,576 395.8,577.8 396.9,579.6 398,580.5 399.2,582.3 400.3,584.1 401.5,586 402.6,586.9 403.7,588.7 404.9,590.5 406,593.2 407.1,596 408.3,598.7 409.4,600.5 410.6,601.4 411.7,603.2 412.8,605.1 414,606.9 415.1,608.7 416.2,610.5 417.4,612.3 418.5,615.1 419.7,616.9 420.8,619.6 421.9,621.4 423.1,622.3 424.2,622.3 425.3,624.2 426.5,626 427.6,627.8 428.7,629.6 429.9,630.5 431,631.4 432.2,632.3 433.3,633.2 434.4,634.2 435.6,635.1 436.7,636 437.8,636.9 439,637.8 440.1,638.7 441.3,639.6 442.4,640.5 443.5,641.4 444.7,640.5 445.8,641.4 446.9,643.3 448.1,644.2 449.2,644.2 450.4,644.2 451.5,645.1 452.6,646 453.8,646 454.9,646 456,646.9 457.2,646.9 458.3,647.8 459.4,648.7 460.6,648.7 461.7,648.7 462.9,649.6 464,649.6 465.1,650.5 466.3,650.5 467.4,650.5 468.5,651.4 469.7,651.4 470.8,651.4 472,652.3 473.1,651.4 474.2,652.3 475.4,652.3 476.5,653.3 477.6,653.3 478.8,653.3 479.9,653.3 481.1,653.3 482.2,654.2 483.3,654.2 484.5,654.2 485.6,654.2 486.7,654.2 487.9,654.2 489,655.1 490.1,655.1 491.3,655.1 492.4,655.1 493.6,655.1 494.7,655.1 495.8,655.1 497,655.1 498.1,656 499.2,656 500.4,656 501.5,656 502.7,656 503.8,656 504.9,656 506.1,656 507.2,656 508.3,656 509.5,656 510.6,656 511.7,656 512.9,656 514,656 515.2,656 516.3,656 517.4,656 518.6,656 519.7,657.5 520.8,657.5 522,657.5 523.1,657.6 524.3,657.6 525.4,657.6 526.5,657.6 527.7,657.6 528.8,657.6 529.9,657.6 531.1,657.6 532.2,657.6 533.4,657.6 534.5,657.6 535.6,657.6 536.8,657.6 537.9,657.6 539,657.6 540.2,657.6 541.3,657.6 542.4,657.6 543.6,657.6 544.7,657.6 544.7,657.6 543.6,657.6 542.4,657.6 541.3,657.6 540.2,657.6 539,657.6 537.9,657.6 536.8,657.6 535.6,657.6 534.5,657.6 533.4,657.6 532.2,657.6 531.1,657.6 529.9,657.6 528.8,657.6 527.7,657.6 526.5,657.6 525.4,657.6 524.3,657.6 523.1,657.6 522,657.5 520.8,657.5 519.7,657.5 518.6,657.8 517.4,657.8 516.3,657.8 515.2,657.8 514,657.8 512.9,657.8 511.7,657.8 510.6,657.8 509.5,657.8 508.3,657.8 507.2,657.8 506.1,657.8 504.9,657.8 503.8,657.8 502.7,657.8 501.5,657.8 500.4,657.8 499.2,657.8 498.1,657.8 497,657.8 495.8,657.8 494.7,657.8 493.6,657.8 492.4,657.8 491.3,657.8 490.1,657.8 489,657.8 487.9,657.8 486.7,657.8 485.6,657.8 484.5,657.8 483.3,657.8 482.2,657.8 481.1,657.8 479.9,657.8 478.8,657.8 477.6,657.8 476.5,657.8 475.4,657.8 474.2,657.8 473.1,657.8 472,657.8 470.8,657.8 469.7,657.8 468.5,657.8 467.4,657.8 466.3,657.8 465.1,657.8 464,657.8 462.9,657.8 461.7,657.8 460.6,657.8 459.4,656.9 458.3,656.9 457.2,656 456,656 454.9,656 453.8,656 452.6,656 451.5,655.1 450.4,655.1 449.2,655.1 448.1,654.2 446.9,654.2 445.8,654.2 444.7,653.3 443.5,653.3 442.4,652.3 441.3,652.3 440.1,651.4 439,651.4 437.8,651.4 436.7,651.4 435.6,650.5 434.4,649.6 433.3,649.6 432.2,648.7 431,647.8 429.9,647.8 428.7,646.9 427.6,645.1 426.5,644.2 425.3,643.3 424.2,643.3 423.1,642.3 421.9,641.4 420.8,639.6 419.7,638.7 418.5,637.8 417.4,636.9 416.2,635.1 415.1,633.2 414,631.4 412.8,630.5 411.7,628.7 410.6,626 409.4,625.1 408.3,623.2 407.1,621.4 406,620.5 404.9,618.7 403.7,616.9 402.6,616 401.5,614.2 400.3,613.2 399.2,611.4 398,610.5 396.9,609.6 395.8,607.8 394.6,606 393.5,605.1 392.4,603.2 391.2,602.3 390.1,600.5 389,599.6 387.8,597.8 386.7,596.9 385.5,595.1 384.4,594.1 383.3,592.3 382.1,591.4 381,591.4 379.9,590.5 378.7,590.5 377.6,590.5 376.4,590.5 375.3,590.5 374.2,591.4 373,592.3 371.9,593.2 370.8,594.1 369.6,595.1 368.5,596.9 367.4,598.7 366.2,600.5 365.1,603.2 363.9,605.1 362.8,606.9 361.7,608.7 360.5,611.4 359.4,613.2 358.3,616 357.1,618.7 356,620.5 354.8,622.3 353.7,625.1 352.6,627.8 351.4,630.5 350.3,633.2 349.2,635.1 348,637.8 346.9,639.6 345.7,641.4 344.6,644.2 343.5,646 342.3,648.7 341.2,651.4 340.1,657.8 338.9,657.8 337.8,657.8 336.7,657.8 335.5,657.8 334.4,657.8 333.2,657.8 332.1,657.8 331,657.8 329.8,657.8 328.7,657.8 327.6,657.8 326.4,657.8 325.3,657.8 324.1,657.8 323,657.8 321.9,657.8 320.7,657.8 319.6,657.8 318.5,657.8 317.3,657.8 316.2,657.8 315,657.8 313.9,657.8 312.8,657.8 311.6,657.8" fill="#aedfae" fill-opacity="0.3"/><polygon points="311.6,657.8 312.8,657.8 313.9,657.8 315,657.8 316.2,657.8 317.3,657.8 318.5,657.8 319.6,657.8 320.7,657.8 321.9,657.8 323,657.8 324.1,657.8 325.3,657.8 326.4,657.8 327.6,657.8 328.7,657.8 329.8,657.8 331,657.8 332.1,657.8 333.2,657.8 334.4,657.8 335.5,657.8 336.7,657.8 337.8,657.8 338.9,657.8 340.1,657.8 341.2,642.3 342.3,639.2 343.5,636 344.6,633.2 345.7,630.1 346.9,627.3 348,624.6 349.2,621.4 350.3,618.7 351.4,615.5 352.6,612.8 353.7,609.6 354.8,606.4 356,603.7 357.1,600.5 358.3,597.8 359.4,594.6 360.5,592.3 361.7,589.6 362.8,587.3 363.9,585.1 365.1,582.8 366.2,580.1 367.4,577.8 368.5,576 369.6,574.1 370.8,572.3 371.9,571.4 373,570.1 374.2,568.7 375.3,568.2 376.4,567.8 377.6,567.8 378.7,568.2 379.9,568.7 381,569.1 382.1,569.6 383.3,570.5 384.4,571.9 385.5,573.7 386.7,575.1 387.8,576.9 389,578.7 390.1,580.1 391.2,581.4 392.4,583.2 393.5,584.6 394.6,586.4 395.8,588.2 396.9,590.1 398,591.4 399.2,592.8 400.3,594.1 401.5,596 402.6,597.3 403.7,599.2 404.9,601 406,602.8 407.1,604.6 408.3,606.4 409.4,608.7 410.6,610.5 411.7,612.8 412.8,614.6 414,616.9 415.1,618.7 416.2,620.5 417.4,622.3 418.5,624.2 419.7,625.5 420.8,626.9 421.9,628.2 423.1,630.1 424.2,631 425.3,632.3 426.5,633.2 427.6,634.6 428.7,636 429.9,636.9 431,637.8 432.2,638.7 433.3,639.6 434.4,640.5 435.6,641.4 436.7,642.3 437.8,642.8 439,643.3 440.1,643.7 441.3,644.6 442.4,645.1 443.5,645.5 444.7,646 445.8,646.9 446.9,647.3 448.1,647.8 449.2,648.3 450.4,648.7 451.5,649.2 452.6,649.6 453.8,650.1 454.9,650.1 456,650.5 457.2,651 458.3,651.4 459.4,651.9 460.6,652.3 461.7,652.3 462.9,652.8 464,652.8 465.1,653.3 466.3,653.3 467.4,653.7 468.5,653.7 469.7,654.2 470.8,654.2 472,654.2 473.1,654.2 474.2,654.6 475.4,654.6 476.5,655.1 477.6,655.1 478.8,655.1 479.9,655.1 481.1,655.5 482.2,655.5 483.3,655.5 484.5,655.5 485.6,655.5 486.7,656 487.9,656 489,656 490.1,656 491.3,656.4 492.4,656.4 493.6,656.4 494.7,656.4 495.8,656.4 497,656.9 498.1,656.9 499.2,656.9 500.4,656.9 501.5,656.9 502.7,656.9 503.8,656.9 504.9,656.9 506.1,656.9 507.2,656.9 508.3,656.9 509.5,656.9 510.6,656.9 511.7,656.9 512.9,656.9 514,656.9 515.2,657.3 516.3,657.3 517.4,656.9 518.6,657.3 519.7,657.5 520.8,657.5 522,657.5 523.1,657.6 524.3,657.6 525.4,657.6 526.5,657.6 527.7,657.6 528.8,657.6 529.9,657.6 531.1,657.6 532.2,657.6 533.4,657.6 534.5,657.6 535.6,657.6 536.8,657.6 537.9,657.6 539,657.6 540.2,657.6 541.3,657.6 542.4,657.6 543.6,657.6 544.7,657.6 544.7,657.6 543.6,657.6 542.4,657.6 541.3,657.6 540.2,657.6 539,657.6 537.9,657.6 536.8,657.6 535.6,657.6 534.5,657.6 533.4,657.6 532.2,657.6 531.1,657.6 529.9,657.6 528.8,657.6 527.7,657.6 526.5,657.6 525.4,657.6 524.3,657.6 523.1,657.6 522,657.5 520.8,657.5 519.7,657.5 518.6,657.8 517.4,657.8 516.3,657.8 515.2,657.8 514,657.8 512.9,657.8 511.7,657.8 510.6,657.8 509.5,657.8 508.3,657.8 507.2,657.8 506.1,657.8 504.9,657.8 503.8,657.8 502.7,657.8 501.5,657.8 500.4,657.8 499.2,657.8 498.1,657.8 497,657.8 495.8,657.8 494.7,657.8 493.6,657.8 492.4,657.8 491.3,657.8 490.1,657.8 489,657.8 487.9,657.3 486.7,657.3 485.6,657.3 484.5,657.3 483.3,657.3 482.2,657.3 481.1,657.3 479.9,657.3 478.8,657.3 477.6,656.9 476.5,656.9 475.4,656.9 474.2,656.4 473.1,656.4 472,656.4 470.8,656.4 469.7,656.4 468.5,656.4 467.4,656 466.3,656 465.1,656 464,655.5 462.9,655.5 461.7,655.1 460.6,655.1 459.4,655.1 458.3,654.6 457.2,654.2 456,654.2 454.9,653.7 453.8,653.3 452.6,653.3 451.5,652.8 450.4,652.8 449.2,652.3 448.1,651.9 446.9,651.4 445.8,651 444.7,650.5 443.5,650.5 442.4,650.1 441.3,649.2 440.1,648.7 439,648.7 437.8,647.8 436.7,647.3 435.6,646.4 434.4,646 433.3,645.1 432.2,644.6 431,643.7 429.9,643.3 428.7,641.9 427.6,641 426.5,640.1 425.3,638.7 424.2,637.3 423.1,636.9 421.9,636 420.8,634.6 419.7,632.8 418.5,631.4 417.4,629.6 416.2,628.2 415.1,626.4 414,625.1 412.8,623.2 411.7,621.4 410.6,620.1 409.4,618.7 408.3,616.9 407.1,615.1 406,612.8 404.9,611 403.7,609.6 402.6,608.2 401.5,606.9 400.3,605.1 399.2,603.7 398,602.3 396.9,601.4 395.8,599.6 394.6,598.2 393.5,596.4 392.4,595.1 391.2,593.7 390.1,592.3 389,591 387.8,589.6 386.7,587.8 385.5,586 384.4,585.1 383.3,583.7 382.1,582.8 381,581.9 379.9,581.4 378.7,581 377.6,581 376.4,581 375.3,581 374.2,581.9 373,582.8 371.9,583.7 370.8,585.1 369.6,586.4 368.5,588.2 367.4,590.5 366.2,592.8 365.1,594.6 363.9,596.9 362.8,599.2 361.7,601.4 360.5,603.7 359.4,605.5 358.3,607.8 357.1,611 356,613.7 354.8,616.4 353.7,619.2 352.6,621.9 351.4,624.2 350.3,627.3 349.2,630.1 348,632.3 346.9,634.6 345.7,637.3 344.6,640.1 343.5,642.3 342.3,645.1 341.2,647.8 340.1,657.8 338.9,657.8 337.8,657.8 336.7,657.8 335.5,657.8 334.4,657.8 333.2,657.8 332.1,657.8 331,657.8 329.8,657.8 328.7,657.8 327.6,657.8 326.4,657.8 325.3,657.8 324.1,657.8 323,657.8 321.9,657.8 320.7,657.8 319.6,657.8 318.5,657.8 317.3,657.8 316.2,657.8 315,657.8 313.9,657.8 312.8,657.8 311.6,657.8" fill="#aedfae" fill-opacity="0.3"/><polygon points="311.6,657.8 312.8,657.8 313.9,657.8 315,657.8 316.2,657.8 317.3,657.8 318.5,657.8 319.6,657.8 320.7,657.8 321.9,657.8 323,657.8 324.1,657.8 325.3,657.8 326.4,657.8 327.6,654.2 328.7,653.3 329.8,653.3 331,653.3 332.1,653.3 333.2,653.3 334.4,652.3 335.5,652.3 336.7,652.3 337.8,651.4 338.9,651.4 340.1,650.5 341.2,650.5 342.3,649.6 343.5,648.7 344.6,648.7 345.7,647.8 346.9,646.9 348,646 349.2,644.2 350.3,643.3 351.4,642.3 352.6,642.3 353.7,641.4 354.8,639.6 356,638.7 357.1,637.8 358.3,636 359.4,635.1 360.5,634.2 361.7,634.2 362.8,633.2 363.9,632.3 365.1,630.5 366.2,629.6 367.4,628.7 368.5,626.9 369.6,625.1 370.8,624.2 371.9,623.2 373,622.3 374.2,621.4 375.3,620.5 376.4,618.7 377.6,616.9 378.7,616 379.9,614.2 381,612.3 382.1,611.4 383.3,610.5 384.4,608.7 385.5,606.9 386.7,606 387.8,605.1 389,603.2 390.1,602.3 391.2,600.5 392.4,599.6 393.5,597.8 394.6,596 395.8,595.1 396.9,593.2 398,591.4 399.2,589.6 400.3,589.6 401.5,587.8 402.6,586.9 403.7,586 404.9,584.1 406,582.3 407.1,581.4 408.3,580.5 409.4,578.7 410.6,577.8 411.7,576.9 412.8,576 414,575.1 415.1,574.1 416.2,573.2 417.4,572.3 418.5,570.5 419.7,570.5 420.8,569.6 421.9,568.7 423.1,567.8 424.2,567.8 425.3,567.8 426.5,566.9 427.6,565.1 428.7,564.1 429.9,565.1 431,565.1 432.2,564.1 433.3,562.3 434.4,561.4 435.6,560.5 436.7,560.5 437.8,561.4 439,560.5 440.1,560.5 441.3,560.5 442.4,560.5 443.5,560.5 444.7,561.4 445.8,561.4 446.9,560.5 448.1,560.5 449.2,561.4 450.4,561.4 451.5,560.5 452.6,559.6 453.8,559.6 454.9,559.6 456,560.5 457.2,561.4 458.3,562.3 459.4,562.3 460.6,562.3 461.7,563.2 462.9,563.2 464,564.1 465.1,565.1 466.3,566 467.4,566 468.5,566 469.7,566 470.8,566.9 472,566.9 473.1,567.8 474.2,567.8 475.4,568.7 476.5,568.7 477.6,569.6 478.8,570.5 479.9,571.4 481.1,571.4 482.2,571.4 483.3,572.3 484.5,573.2 485.6,573.2 486.7,574.1 487.9,574.1 489,575.1 490.1,576.9 491.3,576.9 492.4,576.9 493.6,577.8 494.7,579.6 495.8,580.5 497,581.4 498.1,581.4 499.2,582.3 500.4,584.1 501.5,585.1 502.7,585.1 503.8,586 504.9,586.9 506.1,587.8 507.2,588.7 508.3,589.6 509.5,589.6 510.6,590.5 511.7,592.3 512.9,594.1 514,594.1 515.2,595.1 516.3,595.1 517.4,596 518.6,596.9 519.7,597.8 520.8,599.6 522,600.5 523.1,600.5 524.3,601.4 525.4,603.2 526.5,604.2 527.7,604.2 528.8,604.2 529.9,605.1 531.1,606.9 532.2,606.9 533.4,606.9 534.5,607.8 535.6,608.7 536.8,609.6 537.9,609.6 539,610.5 540.2,612.3 541.3,612.3 542.4,612.3 543.6,612.3 544.7,612.3 544.7,637.8 543.6,636.9 542.4,637.8 541.3,637.8 540.2,636 539,636 537.9,636 536.8,635.1 535.6,635.1 534.5,634.2 533.4,634.2 532.2,633.2 531.1,633.2 529.9,633.2 528.8,632.3 527.7,631.4 526.5,630.5 525.4,630.5 524.3,629.6 523.1,628.7 522,627.8 520.8,626.9 519.7,626.9 518.6,626 517.4,625.1 516.3,625.1 515.2,624.2 514,623.2 512.9,622.3 511.7,621.4 510.6,620.5 509.5,620.5 508.3,619.6 507.2,618.7 506.1,617.8 504.9,617.8 503.8,616.9 502.7,616.9 501.5,616 500.4,615.1 499.2,615.1 498.1,614.2 497,613.2 495.8,612.3 494.7,611.4 493.6,609.6 492.4,609.6 491.3,608.7 490.1,608.7 489,607.8 487.9,607.8 486.7,606.9 485.6,606 484.5,605.1 483.3,604.2 482.2,604.2 481.1,603.2 479.9,603.2 478.8,603.2 477.6,603.2 476.5,602.3 475.4,602.3 474.2,602.3 473.1,601.4 472,601.4 470.8,600.5 469.7,599.6 468.5,598.7 467.4,598.7 466.3,598.7 465.1,597.8 464,596.9 462.9,596.9 461.7,596 460.6,596 459.4,595.1 458.3,594.1 457.2,594.1 456,594.1 454.9,594.1 453.8,594.1 452.6,594.1 451.5,593.2 450.4,593.2 449.2,593.2 448.1,593.2 446.9,593.2 445.8,593.2 444.7,594.1 443.5,594.1 442.4,594.1 441.3,594.1 440.1,594.1 439,593.2 437.8,593.2 436.7,594.1 435.6,594.1 434.4,594.1 433.3,595.1 432.2,595.1 431,596 429.9,596 428.7,596.9 427.6,596.9 426.5,597.8 425.3,597.8 424.2,598.7 423.1,599.6 421.9,599.6 420.8,600.5 419.7,600.5 418.5,601.4 417.4,602.3 416.2,603.2 415.1,604.2 414,605.1 412.8,606 411.7,606.9 410.6,607.8 409.4,607.8 408.3,609.6 407.1,610.5 406,611.4 404.9,612.3 403.7,613.2 402.6,615.1 401.5,616 400.3,616 399.2,617.8 398,618.7 396.9,619.6 395.8,620.5 394.6,621.4 393.5,622.3 392.4,624.2 391.2,625.1 390.1,626 389,626.9 387.8,627.8 386.7,629.6 385.5,630.5 384.4,631.4 383.3,632.3 382.1,633.2 381,634.2 379.9,635.1 378.7,635.1 377.6,636 376.4,637.8 375.3,639.6 374.2,640.5 373,640.5 371.9,641.4 370.8,642.3 369.6,644.2 368.5,644.2 367.4,645.1 366.2,645.1 365.1,646 363.9,646.9 362.8,647.8 361.7,648.7 360.5,649.6 359.4,649.6 358.3,650.5 357.1,651.4 356,651.4 354.8,652.3 353.7,653.3 352.6,653.3 351.4,654.2 350.3,655.1 349.2,655.1 348,656 346.9,656 345.7,656 344.6,656 343.5,656.9 342.3,656.9 341.2,656.9 340.1,657.8 338.9,657.8 337.8,657.8 336.7,657.8 335.5,657.8 334.4,657.8 333.2,657.8 332.1,657.8 331,657.8 329.8,657.8 328.7,657.8 327.6,657.8 326.4,657.8 325.3,657.8 324.1,657.8 323,657.8 321.9,657.8 320.7,657.8 319.6,657.8 318.5,657.8 317.3,657.8 316.2,657.8 315,657.8 313.9,657.8 312.8,657.8 311.6,657.8" fill="#d2c3e1" fill-opacity="0.3"/><polygon points="311.6,657.8 312.8,657.8 313.9,657.8 315,657.8 316.2,657.8 317.3,657.8 318.5,657.8 319.6,657.8 320.7,657.8 321.9,657.8 323,657.8 324.1,657.8 325.3,657.8 326.4,657.8 327.6,655.5 328.7,655.5 329.8,655.5 331,655.1 332.1,655.1 333.2,655.1 334.4,654.6 335.5,654.6 336.7,654.2 337.8,653.7 338.9,653.7 340.1,653.3 341.2,652.8 342.3,652.3 343.5,651.9 344.6,651 345.7,650.1 346.9,649.6 348,649.2 349.2,648.3 350.3,647.8 351.4,646.9 352.6,646 353.7,645.1 354.8,644.2 356,643.3 357.1,642.3 358.3,641.4 359.4,640.5 360.5,639.6 361.7,638.7 362.8,637.8 363.9,636.9 365.1,635.5 366.2,634.6 367.4,633.7 368.5,632.8 369.6,631.9 370.8,631 371.9,629.6 373,628.7 374.2,627.8 375.3,626.4 376.4,624.6 377.6,623.2 378.7,621.9 379.9,621 381,619.6 382.1,618.7 383.3,617.3 384.4,616.4 385.5,615.5 386.7,614.2 387.8,612.8 389,611.4 390.1,610.1 391.2,608.7 392.4,607.3 393.5,606 394.6,604.6 395.8,603.7 396.9,602.3 398,601 399.2,599.6 400.3,598.2 401.5,597.3 402.6,596.4 403.7,595.1 404.9,593.7 406,592.8 407.1,591.4 408.3,590.1 409.4,589.1 410.6,587.8 411.7,586.9 412.8,586 414,585.1 415.1,584.1 416.2,583.2 417.4,582.3 418.5,581.4 419.7,580.5 420.8,580.1 421.9,579.1 423.1,578.7 424.2,577.8 425.3,577.3 426.5,576.9 427.6,576 428.7,575.5 429.9,575.1 431,574.1 432.2,573.7 433.3,573.7 434.4,572.8 435.6,572.3 436.7,572.3 437.8,571.9 439,571.9 440.1,571.9 441.3,571.9 442.4,571.9 443.5,571.9 444.7,571.9 445.8,571.4 446.9,571.4 448.1,571.4 449.2,571.4 450.4,571.4 451.5,571.4 452.6,571.4 453.8,571.9 454.9,571.4 456,571.4 457.2,571.9 458.3,571.9 459.4,572.3 460.6,572.8 461.7,573.2 462.9,574.1 464,574.6 465.1,575.5 466.3,576 467.4,576.4 468.5,576.4 469.7,576.9 470.8,577.8 472,578.7 473.1,578.7 474.2,579.1 475.4,579.6 476.5,580.1 477.6,580.5 478.8,580.5 479.9,581 481.1,581.4 482.2,581.9 483.3,582.3 484.5,583.2 485.6,584.1 486.7,584.6 487.9,585.1 489,586 490.1,586.4 491.3,587.3 492.4,587.8 493.6,588.2 494.7,589.1 495.8,590.1 497,591.4 498.1,592.3 499.2,592.8 500.4,593.7 501.5,594.6 502.7,595.5 503.8,596 504.9,596.4 506.1,597.3 507.2,598.2 508.3,599.2 509.5,599.6 510.6,600.5 511.7,601.4 512.9,602.3 514,603.2 515.2,604.2 516.3,604.6 517.4,605.5 518.6,606.4 519.7,606.9 520.8,607.8 522,608.7 523.1,609.2 524.3,610.1 525.4,611 526.5,611.9 527.7,612.8 528.8,613.2 529.9,614.2 531.1,614.2 532.2,614.6 533.4,615.5 534.5,616 535.6,616.4 536.8,617.3 537.9,617.8 539,617.8 540.2,618.7 541.3,619.6 542.4,619.6 543.6,620.1 544.7,620.5 544.7,630.5 543.6,630.1 542.4,630.1 541.3,629.6 540.2,629.6 539,628.7 537.9,628.2 536.8,627.8 535.6,627.3 534.5,626.4 533.4,626 532.2,625.5 531.1,625.1 529.9,624.6 528.8,623.7 527.7,623.2 526.5,622.8 525.4,622.3 524.3,621.4 523.1,620.5 522,620.1 520.8,619.2 519.7,618.2 518.6,617.8 517.4,616.9 516.3,616.4 515.2,615.5 514,615.1 512.9,614.6 511.7,613.7 510.6,612.3 509.5,611.9 508.3,611 507.2,610.5 506.1,610.1 504.9,609.2 503.8,608.2 502.7,607.8 501.5,606.9 500.4,606 499.2,605.1 498.1,604.6 497,603.7 495.8,602.8 494.7,602.3 493.6,601.4 492.4,600.5 491.3,600.1 490.1,599.6 489,598.7 487.9,598.2 486.7,597.8 485.6,596.9 484.5,596.4 483.3,596 482.2,595.5 481.1,595.1 479.9,594.6 478.8,594.1 477.6,593.7 476.5,592.8 475.4,592.3 474.2,592.3 473.1,591.9 472,591.4 470.8,591 469.7,590.5 468.5,590.1 467.4,589.6 466.3,589.6 465.1,588.7 464,588.2 462.9,587.3 461.7,586.9 460.6,586.4 459.4,586 458.3,586 457.2,585.5 456,585.1 454.9,584.6 453.8,584.6 452.6,584.6 451.5,584.6 450.4,585.1 449.2,585.1 448.1,584.6 446.9,584.6 445.8,585.1 444.7,584.6 443.5,584.6 442.4,584.6 441.3,584.6 440.1,584.6 439,584.6 437.8,584.6 436.7,585.1 435.6,585.1 434.4,585.5 433.3,586 432.2,586.9 431,587.8 429.9,587.8 428.7,587.8 427.6,588.7 426.5,589.1 425.3,590.1 424.2,590.1 423.1,591 421.9,591.4 420.8,592.3 419.7,592.8 418.5,593.2 417.4,594.1 416.2,595.1 415.1,596 414,596.9 412.8,597.8 411.7,598.2 410.6,599.2 409.4,600.1 408.3,601.4 407.1,602.3 406,603.2 404.9,604.6 403.7,606 402.6,606.9 401.5,607.8 400.3,608.7 399.2,609.6 398,611 396.9,612.3 395.8,613.2 394.6,614.6 393.5,616 392.4,617.3 391.2,618.2 390.1,619.6 389,620.5 387.8,621.9 386.7,623.2 385.5,624.2 384.4,625.1 383.3,626 382.1,627.3 381,628.2 379.9,629.2 378.7,630.1 377.6,631.4 376.4,632.8 375.3,634.2 374.2,635.1 373,636 371.9,636.9 370.8,637.3 369.6,638.3 368.5,639.6 367.4,640.5 366.2,641 365.1,641.9 363.9,642.8 362.8,643.7 361.7,644.6 360.5,645.1 359.4,646 358.3,646.4 357.1,647.3 356,648.3 354.8,649.2 353.7,649.6 352.6,650.1 351.4,651 350.3,651.4 349.2,651.9 348,652.8 346.9,653.3 345.7,653.7 344.6,654.2 343.5,654.6 342.3,655.1 341.2,655.5 340.1,655.5 338.9,656 337.8,656.4 336.7,656.4 335.5,656.4 334.4,656.4 333.2,656.9 332.1,656.9 331,656.9 329.8,656.9 328.7,656.9 327.6,657.3 326.4,657.8 325.3,657.8 324.1,657.8 323,657.8 321.9,657.8 320.7,657.8 319.6,657.8 318.5,657.8 317.3,657.8 316.2,657.8 315,657.8 313.9,657.8 312.8,657.8 311.6,657.8" fill="#d2c3e1" fill-opacity="0.3"/><polyline points="311.6,657.8 312.8,657.8 313.9,657.8 315,657.8 316.2,657.8 317.3,657.8 318.5,657.8 319.6,657.8 320.7,657.8 321.9,657.8 323,657.8 324.1,657.8 325.3,657.8 326.4,657.8 327.6,656 328.7,656 329.8,656 331,656 332.1,656 333.2,656 334.4,656 335.5,656 336.7,656 337.8,656 338.9,656 340.1,656 341.2,641.4 342.3,636.9 343.5,633.2 344.6,630.5 345.7,626.9 346.9,624.2 348,620.5 349.2,617.8 350.3,615.1 351.4,611.4 352.6,608.7 353.7,605.1 354.8,602.3 356,598.7 357.1,595.1 358.3,591.4 359.4,587.8 360.5,583.2 361.7,578.7 362.8,574.1 363.9,570.5 365.1,566.9 366.2,564.1 367.4,561.4 368.5,558.7 369.6,556 370.8,553.2 371.9,551.4 373,549.6 374.2,547.8 375.3,546 376.4,545 377.6,544.1 378.7,542.3 379.9,541.4 381,541.4 382.1,540.5 383.3,540.5 384.4,540.5 385.5,539.6 386.7,539.6 387.8,539.6 389,539.6 390.1,539.6 391.2,540.5 392.4,540.5 393.5,541.4 394.6,542.3 395.8,542.3 396.9,543.2 398,544.1 399.2,544.1 400.3,545 401.5,546 402.6,546 403.7,546.9 404.9,547.8 406,547.8 407.1,548.7 408.3,548.7 409.4,549.6 410.6,550.5 411.7,550.5 412.8,551.4 414,552.3 415.1,552.3 416.2,553.2 417.4,554.1 418.5,555 419.7,555 420.8,556 421.9,556.9 423.1,557.8 424.2,557.8 425.3,558.7 426.5,559.6 427.6,559.6 428.7,560.5 429.9,561.4 431,561.4 432.2,562.3 433.3,563.2 434.4,563.2 435.6,564.1 436.7,565.1 437.8,565.1 439,566 440.1,566 441.3,566.9 442.4,567.8 443.5,567.8 444.7,568.7 445.8,568.7 446.9,569.6 448.1,569.6 449.2,570.5 450.4,570.5 451.5,571.4 452.6,571.4 453.8,572.3 454.9,573.2 456,573.2 457.2,574.1 458.3,574.1 459.4,575.1 460.6,575.1 461.7,576 462.9,576.9 464,576.9 465.1,577.8 466.3,577.8 467.4,578.7 468.5,579.6 469.7,579.6 470.8,580.5 472,581.4 473.1,581.4 474.2,582.3 475.4,583.2 476.5,583.2 477.6,584.1 478.8,585.1 479.9,586 481.1,586 482.2,586.9 483.3,587.8 484.5,588.7 485.6,588.7 486.7,589.6 487.9,590.5 489,591.4 490.1,592.3 491.3,593.2 492.4,594.1 493.6,595.1 494.7,596 495.8,596.9 497,597.8 498.1,598.7 499.2,598.7 500.4,599.6 501.5,600.5 502.7,601.4 503.8,602.3 504.9,603.2 506.1,604.2 507.2,604.2 508.3,605.1 509.5,606 510.6,606.9 511.7,607.8 512.9,607.8 514,608.7 515.2,609.6 516.3,610.5 517.4,611.4 518.6,612.3 519.7,612.3 520.8,613.2 522,614.2 523.1,615.1 524.3,616 525.4,616.9 526.5,616.9 527.7,617.8 528.8,618.7 529.9,618.7 531.1,619.6 532.2,620.5 533.4,620.5 534.5,621.4 535.6,622.3 536.8,622.3 537.9,623.2 539,623.2 540.2,624.2 541.3,624.2 542.4,625.1 543.6,625.1 544.7,626" fill="none" stroke="#000000" stroke-width="1.3" stroke-linejoin="round"/><polyline points="311.6,657.8 312.8,657.8 313.9,657.8 315,657.8 316.2,657.8 317.3,657.8 318.5,657.8 319.6,657.8 320.7,657.8 321.9,657.8 323,657.8 324.1,657.8 325.3,657.8 326.4,657.8 327.6,657.8 328.7,657.8 329.8,657.8 331,657.8 332.1,657.8 333.2,657.8 334.4,657.8 335.5,657.8 336.7,657.8 337.8,657.8 338.9,657.8 340.1,657.8 341.2,644.2 342.3,642.3 343.5,639.6 344.6,636.9 345.7,634.2 346.9,631.4 348,628.7 349.2,626 350.3,623.2 351.4,620.5 352.6,616.9 353.7,614.2 354.8,611.4 356,608.7 357.1,606 358.3,603.2 359.4,600.5 360.5,597.8 361.7,595.1 362.8,593.2 363.9,590.5 365.1,588.7 366.2,586 367.4,584.1 368.5,582.3 369.6,580.5 370.8,578.7 371.9,577.8 373,576 374.2,575.1 375.3,574.1 376.4,574.1 377.6,574.1 378.7,575.1 379.9,575.1 381,576 382.1,576.9 383.3,577.8 384.4,578.7 385.5,579.6 386.7,581.4 387.8,583.2 389,584.1 390.1,586 391.2,587.8 392.4,588.7 393.5,590.5 394.6,592.3 395.8,594.1 396.9,595.1 398,596.9 399.2,598.7 400.3,599.6 401.5,601.4 402.6,602.3 403.7,604.2 404.9,606 406,607.8 407.1,609.6 408.3,611.4 409.4,613.2 410.6,615.1 411.7,616.9 412.8,618.7 414,620.5 415.1,622.3 416.2,624.2 417.4,626 418.5,627.8 419.7,629.6 420.8,630.5 421.9,632.3 423.1,633.2 424.2,634.2 425.3,636 426.5,636.9 427.6,637.8 428.7,638.7 429.9,639.6 431,640.5 432.2,641.4 433.3,642.3 434.4,643.3 435.6,644.2 436.7,644.2 437.8,645.1 439,646 440.1,646.9 441.3,646.9 442.4,647.8 443.5,647.8 444.7,648.7 445.8,648.7 446.9,649.6 448.1,649.6 449.2,650.5 450.4,650.5 451.5,651.4 452.6,651.4 453.8,651.4 454.9,652.3 456,652.3 457.2,652.3 458.3,653.3 459.4,653.3 460.6,653.3 461.7,654.2 462.9,654.2 464,654.2 465.1,654.2 466.3,655.1 467.4,655.1 468.5,655.1 469.7,655.1 470.8,655.1 472,655.1 473.1,656 474.2,656 475.4,656 476.5,656 477.6,656 478.8,656 479.9,656 481.1,656 482.2,656 483.3,656 484.5,656.9 485.6,656.9 486.7,656.9 487.9,656.9 489,656.9 490.1,656.9 491.3,656.9 492.4,656.9 493.6,656.9 494.7,656.9 495.8,656.9 497,656.9 498.1,656.9 499.2,656.9 500.4,657.8 501.5,657.8 502.7,657.8 503.8,657.8 504.9,657.8 506.1,657.8 507.2,657.8 508.3,657.8 509.5,657.8 510.6,657.8 511.7,657.8 512.9,657.8 514,657.8 515.2,657.8 516.3,657.8 517.4,657.8 518.6,657.8 519.7,657.5 520.8,657.5 522,657.5 523.1,657.6 524.3,657.6 525.4,657.6 526.5,657.6 527.7,657.6 528.8,657.6 529.9,657.6 531.1,657.6 532.2,657.6 533.4,657.6 534.5,657.6 535.6,657.6 536.8,657.6 537.9,657.6 539,657.6 540.2,657.6 541.3,657.6 542.4,657.6 543.6,657.6 544.7,657.6" fill="none" stroke="#254a29" stroke-width="1.3" stroke-linejoin="round"/><polyline points="311.6,657.8 312.8,657.8 313.9,657.8 315,657.8 316.2,657.8 317.3,657.8 318.5,657.8 319.6,657.8 320.7,657.8 321.9,657.8 323,657.8 324.1,657.8 325.3,657.8 326.4,657.8 327.6,656 328.7,656 329.8,656 331,656 332.1,656 333.2,656 334.4,656 335.5,655.1 336.7,655.1 337.8,655.1 338.9,655.1 340.1,654.2 341.2,654.2 342.3,654.2 343.5,653.3 344.6,652.3 345.7,652.3 346.9,651.4 348,650.5 349.2,650.5 350.3,649.6 351.4,648.7 352.6,647.8 353.7,646.9 354.8,646.9 356,646 357.1,645.1 358.3,644.2 359.4,643.3 360.5,642.3 361.7,641.4 362.8,640.5 363.9,639.6 365.1,638.7 366.2,637.8 367.4,636.9 368.5,636 369.6,635.1 370.8,634.2 371.9,633.2 373,632.3 374.2,631.4 375.3,629.6 376.4,628.7 377.6,627.8 378.7,626 379.9,625.1 381,624.2 382.1,622.3 383.3,621.4 384.4,620.5 385.5,619.6 386.7,618.7 387.8,617.8 389,616 390.1,615.1 391.2,613.2 392.4,612.3 393.5,610.5 394.6,609.6 395.8,608.7 396.9,606.9 398,606 399.2,605.1 400.3,603.2 401.5,602.3 402.6,601.4 403.7,600.5 404.9,599.6 406,597.8 407.1,596.9 408.3,596 409.4,595.1 410.6,593.2 411.7,592.3 412.8,591.4 414,590.5 415.1,589.6 416.2,588.7 417.4,588.7 418.5,587.8 419.7,586.9 420.8,586 421.9,585.1 423.1,585.1 424.2,584.1 425.3,583.2 426.5,583.2 427.6,582.3 428.7,581.4 429.9,581.4 431,580.5 432.2,580.5 433.3,579.6 434.4,579.6 435.6,578.7 436.7,578.7 437.8,578.7 439,578.7 440.1,577.8 441.3,577.8 442.4,577.8 443.5,577.8 444.7,577.8 445.8,577.8 446.9,577.8 448.1,577.8 449.2,577.8 450.4,577.8 451.5,577.8 452.6,577.8 453.8,577.8 454.9,577.8 456,578.7 457.2,578.7 458.3,578.7 459.4,578.7 460.6,579.6 461.7,580.5 462.9,580.5 464,581.4 465.1,581.4 466.3,582.3 467.4,583.2 468.5,583.2 469.7,584.1 470.8,584.1 472,585.1 473.1,585.1 474.2,586 475.4,586 476.5,586.9 477.6,586.9 478.8,586.9 479.9,587.8 481.1,588.7 482.2,588.7 483.3,589.6 484.5,589.6 485.6,590.5 486.7,591.4 487.9,591.4 489,592.3 490.1,593.2 491.3,594.1 492.4,594.1 493.6,595.1 494.7,596 495.8,596.9 497,597.8 498.1,597.8 499.2,598.7 500.4,599.6 501.5,600.5 502.7,601.4 503.8,602.3 504.9,603.2 506.1,604.2 507.2,604.2 508.3,605.1 509.5,606 510.6,606.9 511.7,607.8 512.9,607.8 514,608.7 515.2,609.6 516.3,610.5 517.4,611.4 518.6,612.3 519.7,612.3 520.8,613.2 522,614.2 523.1,615.1 524.3,616 525.4,616.9 526.5,616.9 527.7,617.8 528.8,618.7 529.9,618.7 531.1,619.6 532.2,620.5 533.4,620.5 534.5,621.4 535.6,622.3 536.8,622.3 537.9,623.2 539,623.2 540.2,624.2 541.3,624.2 542.4,625.1 543.6,625.1 544.7,626" fill="none" stroke="#484052" stroke-width="1.3" stroke-linejoin="round"/><use href="#dots" transform="translate(259.1,490.2)"/></g>
<g style="font-family:'Liberation Sans',sans-serif"><line x1="31.9" y1="17" x2="31.9" y2="174.8" stroke="#000" stroke-width="1.4"/><line x1="29.2" y1="167.6" x2="32" y2="167.6" stroke="#333" stroke-width="1.1"/><text x="27.3" y="170.7" text-anchor="end" font-size="8.8" fill="#4d4d4d">0</text><line x1="29.2" y1="122.1" x2="32" y2="122.1" stroke="#333" stroke-width="1.1"/><text x="27.3" y="125.2" text-anchor="end" font-size="8.8" fill="#4d4d4d">50</text><line x1="29.2" y1="76.7" x2="32" y2="76.7" stroke="#333" stroke-width="1.1"/><text x="27.3" y="79.8" text-anchor="end" font-size="8.8" fill="#4d4d4d">100</text><line x1="29.2" y1="31.2" x2="32" y2="31.2" stroke="#333" stroke-width="1.1"/><text x="27.3" y="34.3" text-anchor="end" font-size="8.8" fill="#4d4d4d">150</text><line x1="31.9" y1="180.4" x2="31.9" y2="338.2" stroke="#000" stroke-width="1.4"/><line x1="29.2" y1="331" x2="32" y2="331" stroke="#333" stroke-width="1.1"/><text x="27.3" y="334.1" text-anchor="end" font-size="8.8" fill="#4d4d4d">0</text><line x1="29.2" y1="285.5" x2="32" y2="285.5" stroke="#333" stroke-width="1.1"/><text x="27.3" y="288.6" text-anchor="end" font-size="8.8" fill="#4d4d4d">50</text><line x1="29.2" y1="240.1" x2="32" y2="240.1" stroke="#333" stroke-width="1.1"/><text x="27.3" y="243.2" text-anchor="end" font-size="8.8" fill="#4d4d4d">100</text><line x1="29.2" y1="194.6" x2="32" y2="194.6" stroke="#333" stroke-width="1.1"/><text x="27.3" y="197.7" text-anchor="end" font-size="8.8" fill="#4d4d4d">150</text><line x1="31.9" y1="343.8" x2="31.9" y2="501.6" stroke="#000" stroke-width="1.4"/><line x1="29.2" y1="494.4" x2="32" y2="494.4" stroke="#333" stroke-width="1.1"/><text x="27.3" y="497.5" text-anchor="end" font-size="8.8" fill="#4d4d4d">0</text><line x1="29.2" y1="448.9" x2="32" y2="448.9" stroke="#333" stroke-width="1.1"/><text x="27.3" y="452" text-anchor="end" font-size="8.8" fill="#4d4d4d">50</text><line x1="29.2" y1="403.5" x2="32" y2="403.5" stroke="#333" stroke-width="1.1"/><text x="27.3" y="406.6" text-anchor="end" font-size="8.8" fill="#4d4d4d">100</text><line x1="29.2" y1="358" x2="32" y2="358" stroke="#333" stroke-width="1.1"/><text x="27.3" y="361.1" text-anchor="end" font-size="8.8" fill="#4d4d4d">150</text><line x1="31.9" y1="507.2" x2="31.9" y2="665" stroke="#000" stroke-width="1.4"/><line x1="29.2" y1="657.8" x2="32" y2="657.8" stroke="#333" stroke-width="1.1"/><text x="27.3" y="660.9" text-anchor="end" font-size="8.8" fill="#4d4d4d">0</text><line x1="29.2" y1="612.3" x2="32" y2="612.3" stroke="#333" stroke-width="1.1"/><text x="27.3" y="615.4" text-anchor="end" font-size="8.8" fill="#4d4d4d">50</text><line x1="29.2" y1="566.9" x2="32" y2="566.9" stroke="#333" stroke-width="1.1"/><text x="27.3" y="570" text-anchor="end" font-size="8.8" fill="#4d4d4d">100</text><line x1="29.2" y1="521.4" x2="32" y2="521.4" stroke="#333" stroke-width="1.1"/><text x="27.3" y="524.5" text-anchor="end" font-size="8.8" fill="#4d4d4d">150</text><line x1="32" y1="664.8" x2="285.5" y2="664.8" stroke="#000" stroke-width="1.1"/><line x1="43.4" y1="664.8" x2="43.4" y2="667.6" stroke="#333" stroke-width="1.1"/><text x="43.4" y="675.9" text-anchor="middle" font-size="8.8" fill="#4d4d4d">Mar</text><line x1="78.6" y1="664.8" x2="78.6" y2="667.6" stroke="#333" stroke-width="1.1"/><text x="78.6" y="675.9" text-anchor="middle" font-size="8.8" fill="#4d4d4d">Apr</text><line x1="112.8" y1="664.8" x2="112.8" y2="667.6" stroke="#333" stroke-width="1.1"/><text x="112.8" y="675.9" text-anchor="middle" font-size="8.8" fill="#4d4d4d">May</text><line x1="148" y1="664.8" x2="148" y2="667.6" stroke="#333" stroke-width="1.1"/><text x="148" y="675.9" text-anchor="middle" font-size="8.8" fill="#4d4d4d">Jun</text><line x1="182.1" y1="664.8" x2="182.1" y2="667.6" stroke="#333" stroke-width="1.1"/><text x="182.1" y="675.9" text-anchor="middle" font-size="8.8" fill="#4d4d4d">Jul</text><line x1="217.4" y1="664.8" x2="217.4" y2="667.6" stroke="#333" stroke-width="1.1"/><text x="217.4" y="675.9" text-anchor="middle" font-size="8.8" fill="#4d4d4d">Aug</text><line x1="252.6" y1="664.8" x2="252.6" y2="667.6" stroke="#333" stroke-width="1.1"/><text x="252.6" y="675.9" text-anchor="middle" font-size="8.8" fill="#4d4d4d">Sep</text><line x1="291.1" y1="664.8" x2="544.6" y2="664.8" stroke="#000" stroke-width="1.1"/><line x1="302.5" y1="664.8" x2="302.5" y2="667.6" stroke="#333" stroke-width="1.1"/><text x="302.5" y="675.9" text-anchor="middle" font-size="8.8" fill="#4d4d4d">Mar</text><line x1="337.7" y1="664.8" x2="337.7" y2="667.6" stroke="#333" stroke-width="1.1"/><text x="337.7" y="675.9" text-anchor="middle" font-size="8.8" fill="#4d4d4d">Apr</text><line x1="371.9" y1="664.8" x2="371.9" y2="667.6" stroke="#333" stroke-width="1.1"/><text x="371.9" y="675.9" text-anchor="middle" font-size="8.8" fill="#4d4d4d">May</text><line x1="407.1" y1="664.8" x2="407.1" y2="667.6" stroke="#333" stroke-width="1.1"/><text x="407.1" y="675.9" text-anchor="middle" font-size="8.8" fill="#4d4d4d">Jun</text><line x1="441.2" y1="664.8" x2="441.2" y2="667.6" stroke="#333" stroke-width="1.1"/><text x="441.2" y="675.9" text-anchor="middle" font-size="8.8" fill="#4d4d4d">Jul</text><line x1="476.5" y1="664.8" x2="476.5" y2="667.6" stroke="#333" stroke-width="1.1"/><text x="476.5" y="675.9" text-anchor="middle" font-size="8.8" fill="#4d4d4d">Aug</text><line x1="511.7" y1="664.8" x2="511.7" y2="667.6" stroke="#333" stroke-width="1.1"/><text x="511.7" y="675.9" text-anchor="middle" font-size="8.8" fill="#4d4d4d">Sep</text></g>
<g style="font-family:'Liberation Sans',sans-serif"><rect x="32.5" y="0.5" width="252.6" height="15.5" fill="#fff" stroke="#000" stroke-width="1.25"/><text x="158.8" y="11.8" text-anchor="middle" font-size="8.8" fill="#0d0d0d">Model 1</text><rect x="291.6" y="0.5" width="252.6" height="15.5" fill="#fff" stroke="#000" stroke-width="1.25"/><text x="417.9" y="11.8" text-anchor="middle" font-size="8.8" fill="#0d0d0d">Model 2</text><rect x="545.5" y="17.2" width="15.1" height="157.1" fill="#fff" stroke="#000" stroke-width="1.25"/><text transform="translate(550,95.8) rotate(90)" text-anchor="middle" font-size="8.8" fill="#0d0d0d">5 days in hospital</text><rect x="545.5" y="180.6" width="15.1" height="157.1" fill="#fff" stroke="#000" stroke-width="1.25"/><text transform="translate(550,259.1) rotate(90)" text-anchor="middle" font-size="8.8" fill="#0d0d0d">10 days in hospital</text><rect x="545.5" y="344" width="15.1" height="157.1" fill="#fff" stroke="#000" stroke-width="1.25"/><text transform="translate(550,422.6) rotate(90)" text-anchor="middle" font-size="8.8" fill="#0d0d0d">12 days in hospital</text><rect x="545.5" y="507.4" width="15.1" height="157.1" fill="#fff" stroke="#000" stroke-width="1.25"/><text transform="translate(550,586) rotate(90)" text-anchor="middle" font-size="8.8" fill="#0d0d0d">15 days in hospital</text></g>
<text transform="translate(8.8,342.8) rotate(-90)" text-anchor="middle" font-size="11" fill="#000" style="font-family:'Liberation Sans',sans-serif">Active hospitalizations</text>
<g style="font-family:'Liberation Sans',sans-serif"><rect x="578" y="319.2" width="16" height="15.6" fill="#b3b3b3"/><circle cx="585.9" cy="326.9" r="2.3" fill="#000"/><text x="599.6" y="329.9" font-size="8.8" fill="#000">South Dakota</text><rect x="578" y="336.2" width="16" height="15.6" fill="#d2ecd2"/><circle cx="585.9" cy="343.9" r="2.3" fill="#000"/><text x="599.6" y="346.9" font-size="8.8" fill="#000">Minnehaha County</text><rect x="578" y="353.2" width="16" height="15.6" fill="#e6e0ec"/><circle cx="585.9" cy="360.9" r="2.3" fill="#000"/><text x="599.6" y="363.9" font-size="8.8" fill="#000">Outside of Minnehaha</text></g>
</svg></body></html>
